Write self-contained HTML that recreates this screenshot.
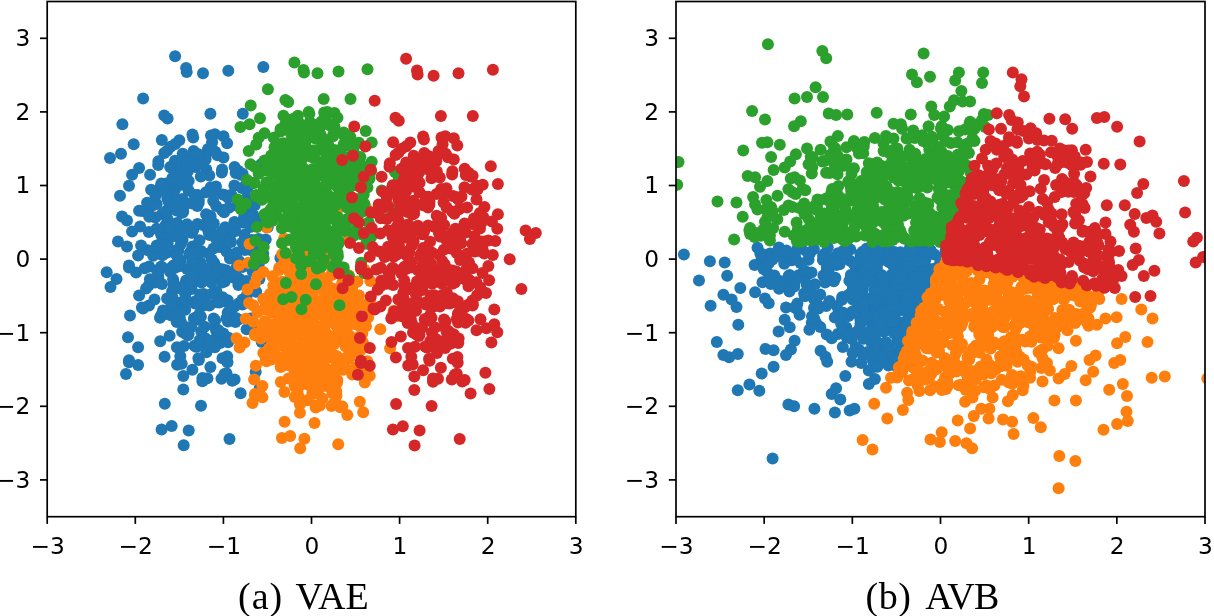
<!DOCTYPE html>
<html><head><meta charset="utf-8"><title>VAE vs AVB latent space</title>
<style>html,body{margin:0;padding:0;background:#fff}svg{display:block}.tk text{font-family:"DejaVu Sans","Liberation Sans",sans-serif;font-size:23.3px;fill:#000}.cap{font-family:"Liberation Serif","DejaVu Serif",serif;font-size:38px;fill:#000}</style></head><body>
<svg width="1214" height="616" viewBox="0 0 1214 616">
<rect width="1214" height="616" fill="#fff"/>
<defs><clipPath id="c1"><rect x="47.20" y="1.50" width="528.60" height="515.20"/></clipPath><clipPath id="c2"><rect x="676.00" y="1.50" width="529.00" height="515.20"/></clipPath></defs>
<g clip-path="url(#c1)"><g fill="#1f77b4">
<circle cx="191.4" cy="284.6" r="6.0"/><circle cx="192.4" cy="229.7" r="6.0"/><circle cx="167.7" cy="236.5" r="6.0"/><circle cx="239.3" cy="278.8" r="6.0"/><circle cx="236.7" cy="267.2" r="6.0"/><circle cx="214.2" cy="263.0" r="6.0"/><circle cx="141.9" cy="307.5" r="6.0"/><circle cx="208.6" cy="342.7" r="6.0"/><circle cx="243.9" cy="222.5" r="6.0"/><circle cx="211.2" cy="276.8" r="6.0"/><circle cx="177.1" cy="364.7" r="6.0"/><circle cx="156.7" cy="204.1" r="6.0"/><circle cx="169.6" cy="310.8" r="6.0"/><circle cx="211.7" cy="259.6" r="6.0"/><circle cx="214.8" cy="347.2" r="6.0"/><circle cx="182.1" cy="331.7" r="6.0"/><circle cx="172.0" cy="266.9" r="6.0"/><circle cx="215.3" cy="151.7" r="6.0"/><circle cx="162.1" cy="214.1" r="6.0"/><circle cx="240.5" cy="174.8" r="6.0"/><circle cx="217.8" cy="246.5" r="6.0"/><circle cx="149.0" cy="305.6" r="6.0"/><circle cx="190.4" cy="251.9" r="6.0"/><circle cx="221.9" cy="210.0" r="6.0"/><circle cx="184.5" cy="166.6" r="6.0"/><circle cx="166.4" cy="215.4" r="6.0"/><circle cx="149.2" cy="266.5" r="6.0"/><circle cx="251.0" cy="289.1" r="6.0"/><circle cx="161.1" cy="315.6" r="6.0"/><circle cx="239.0" cy="261.1" r="6.0"/><circle cx="209.0" cy="279.5" r="6.0"/><circle cx="256.2" cy="291.8" r="6.0"/><circle cx="200.9" cy="316.8" r="6.0"/><circle cx="210.3" cy="231.0" r="6.0"/><circle cx="158.3" cy="277.0" r="6.0"/><circle cx="193.9" cy="318.4" r="6.0"/><circle cx="219.7" cy="240.7" r="6.0"/><circle cx="211.7" cy="293.8" r="6.0"/><circle cx="204.6" cy="326.7" r="6.0"/><circle cx="177.1" cy="223.1" r="6.0"/><circle cx="236.9" cy="252.4" r="6.0"/><circle cx="169.5" cy="313.5" r="6.0"/><circle cx="251.7" cy="221.1" r="6.0"/><circle cx="161.4" cy="183.5" r="6.0"/><circle cx="210.7" cy="187.3" r="6.0"/><circle cx="187.1" cy="269.1" r="6.0"/><circle cx="192.0" cy="232.8" r="6.0"/><circle cx="222.2" cy="269.3" r="6.0"/><circle cx="217.1" cy="302.2" r="6.0"/><circle cx="201.1" cy="251.1" r="6.0"/><circle cx="209.8" cy="275.6" r="6.0"/><circle cx="195.1" cy="262.1" r="6.0"/><circle cx="234.4" cy="185.6" r="6.0"/><circle cx="216.3" cy="291.3" r="6.0"/><circle cx="181.2" cy="302.4" r="6.0"/><circle cx="160.9" cy="266.8" r="6.0"/><circle cx="214.3" cy="266.5" r="6.0"/><circle cx="185.2" cy="294.2" r="6.0"/><circle cx="210.2" cy="216.0" r="6.0"/><circle cx="180.9" cy="244.0" r="6.0"/><circle cx="192.4" cy="246.5" r="6.0"/><circle cx="235.7" cy="173.0" r="6.0"/><circle cx="186.1" cy="280.5" r="6.0"/><circle cx="206.3" cy="169.5" r="6.0"/><circle cx="206.0" cy="192.2" r="6.0"/><circle cx="198.7" cy="203.1" r="6.0"/><circle cx="167.7" cy="243.8" r="6.0"/><circle cx="208.5" cy="253.5" r="6.0"/><circle cx="195.3" cy="301.2" r="6.0"/><circle cx="184.0" cy="285.9" r="6.0"/><circle cx="203.7" cy="294.1" r="6.0"/><circle cx="214.2" cy="339.8" r="6.0"/><circle cx="164.3" cy="153.0" r="6.0"/><circle cx="212.1" cy="142.3" r="6.0"/><circle cx="227.2" cy="356.2" r="6.0"/><circle cx="172.1" cy="291.6" r="6.0"/><circle cx="253.6" cy="215.6" r="6.0"/><circle cx="214.4" cy="277.9" r="6.0"/><circle cx="252.9" cy="182.9" r="6.0"/><circle cx="182.4" cy="199.1" r="6.0"/><circle cx="182.6" cy="240.0" r="6.0"/><circle cx="175.1" cy="185.0" r="6.0"/><circle cx="234.5" cy="221.9" r="6.0"/><circle cx="200.0" cy="306.0" r="6.0"/><circle cx="203.1" cy="338.8" r="6.0"/><circle cx="198.2" cy="319.8" r="6.0"/><circle cx="176.8" cy="309.1" r="6.0"/><circle cx="157.1" cy="249.8" r="6.0"/><circle cx="193.6" cy="248.7" r="6.0"/><circle cx="179.6" cy="266.2" r="6.0"/><circle cx="263.2" cy="253.6" r="6.0"/><circle cx="144.7" cy="268.3" r="6.0"/><circle cx="180.9" cy="322.0" r="6.0"/><circle cx="142.6" cy="210.9" r="6.0"/><circle cx="175.7" cy="232.1" r="6.0"/><circle cx="155.1" cy="282.6" r="6.0"/><circle cx="158.3" cy="247.9" r="6.0"/><circle cx="186.8" cy="182.4" r="6.0"/><circle cx="161.2" cy="234.9" r="6.0"/><circle cx="225.8" cy="232.3" r="6.0"/><circle cx="210.5" cy="220.2" r="6.0"/><circle cx="227.7" cy="300.3" r="6.0"/><circle cx="223.7" cy="272.3" r="6.0"/><circle cx="247.1" cy="294.5" r="6.0"/><circle cx="224.5" cy="241.2" r="6.0"/><circle cx="234.1" cy="231.0" r="6.0"/><circle cx="210.6" cy="216.4" r="6.0"/><circle cx="162.0" cy="284.0" r="6.0"/><circle cx="188.0" cy="287.8" r="6.0"/><circle cx="176.9" cy="347.3" r="6.0"/><circle cx="164.7" cy="226.8" r="6.0"/><circle cx="231.6" cy="257.4" r="6.0"/><circle cx="170.4" cy="194.7" r="6.0"/><circle cx="222.1" cy="282.6" r="6.0"/><circle cx="259.4" cy="279.1" r="6.0"/><circle cx="225.6" cy="301.2" r="6.0"/><circle cx="151.1" cy="206.4" r="6.0"/><circle cx="250.4" cy="286.5" r="6.0"/><circle cx="158.4" cy="161.3" r="6.0"/><circle cx="208.4" cy="231.3" r="6.0"/><circle cx="225.4" cy="195.2" r="6.0"/><circle cx="176.7" cy="322.1" r="6.0"/><circle cx="225.1" cy="227.3" r="6.0"/><circle cx="229.9" cy="309.6" r="6.0"/><circle cx="201.6" cy="282.5" r="6.0"/><circle cx="206.3" cy="268.8" r="6.0"/><circle cx="209.4" cy="305.5" r="6.0"/><circle cx="180.3" cy="356.2" r="6.0"/><circle cx="178.4" cy="250.6" r="6.0"/><circle cx="196.5" cy="261.1" r="6.0"/><circle cx="200.3" cy="262.3" r="6.0"/><circle cx="195.6" cy="167.0" r="6.0"/><circle cx="215.1" cy="320.6" r="6.0"/><circle cx="215.6" cy="238.1" r="6.0"/><circle cx="216.0" cy="186.5" r="6.0"/><circle cx="176.9" cy="199.6" r="6.0"/><circle cx="193.6" cy="268.8" r="6.0"/><circle cx="209.5" cy="269.2" r="6.0"/><circle cx="198.8" cy="199.7" r="6.0"/><circle cx="208.0" cy="274.5" r="6.0"/><circle cx="186.7" cy="203.2" r="6.0"/><circle cx="201.8" cy="305.9" r="6.0"/><circle cx="180.5" cy="260.4" r="6.0"/><circle cx="174.5" cy="268.0" r="6.0"/><circle cx="175.2" cy="236.1" r="6.0"/><circle cx="229.8" cy="238.4" r="6.0"/><circle cx="199.3" cy="253.1" r="6.0"/><circle cx="171.0" cy="301.7" r="6.0"/><circle cx="176.8" cy="249.9" r="6.0"/><circle cx="196.8" cy="250.4" r="6.0"/><circle cx="199.0" cy="279.3" r="6.0"/><circle cx="192.1" cy="262.1" r="6.0"/><circle cx="229.9" cy="258.6" r="6.0"/><circle cx="205.4" cy="338.3" r="6.0"/><circle cx="176.4" cy="288.4" r="6.0"/><circle cx="220.2" cy="247.0" r="6.0"/><circle cx="192.2" cy="156.5" r="6.0"/><circle cx="227.7" cy="312.8" r="6.0"/><circle cx="221.8" cy="172.6" r="6.0"/><circle cx="241.9" cy="187.9" r="6.0"/><circle cx="201.4" cy="267.2" r="6.0"/><circle cx="222.6" cy="297.3" r="6.0"/><circle cx="166.2" cy="183.6" r="6.0"/><circle cx="183.2" cy="180.8" r="6.0"/><circle cx="156.9" cy="249.1" r="6.0"/><circle cx="193.3" cy="230.0" r="6.0"/><circle cx="198.1" cy="200.2" r="6.0"/><circle cx="224.9" cy="274.2" r="6.0"/><circle cx="197.3" cy="206.0" r="6.0"/><circle cx="165.9" cy="253.1" r="6.0"/><circle cx="163.0" cy="186.7" r="6.0"/><circle cx="217.8" cy="268.2" r="6.0"/><circle cx="198.9" cy="360.1" r="6.0"/><circle cx="195.3" cy="246.3" r="6.0"/><circle cx="226.1" cy="270.2" r="6.0"/><circle cx="175.0" cy="160.7" r="6.0"/><circle cx="189.6" cy="328.1" r="6.0"/><circle cx="162.0" cy="267.0" r="6.0"/><circle cx="195.8" cy="317.6" r="6.0"/><circle cx="251.7" cy="240.1" r="6.0"/><circle cx="174.9" cy="189.9" r="6.0"/><circle cx="209.3" cy="175.6" r="6.0"/><circle cx="203.0" cy="345.4" r="6.0"/><circle cx="160.0" cy="317.7" r="6.0"/><circle cx="201.3" cy="331.6" r="6.0"/><circle cx="222.7" cy="194.4" r="6.0"/><circle cx="244.0" cy="247.7" r="6.0"/><circle cx="199.4" cy="240.3" r="6.0"/><circle cx="178.6" cy="175.4" r="6.0"/><circle cx="183.2" cy="212.1" r="6.0"/><circle cx="227.9" cy="321.6" r="6.0"/><circle cx="223.7" cy="334.7" r="6.0"/><circle cx="177.3" cy="223.9" r="6.0"/><circle cx="210.1" cy="221.5" r="6.0"/><circle cx="192.4" cy="203.6" r="6.0"/><circle cx="237.1" cy="205.8" r="6.0"/><circle cx="174.6" cy="252.9" r="6.0"/><circle cx="166.3" cy="224.1" r="6.0"/><circle cx="234.6" cy="278.0" r="6.0"/><circle cx="205.7" cy="296.6" r="6.0"/><circle cx="194.9" cy="303.5" r="6.0"/><circle cx="216.2" cy="205.9" r="6.0"/><circle cx="159.4" cy="244.8" r="6.0"/><circle cx="183.2" cy="208.3" r="6.0"/><circle cx="174.0" cy="283.3" r="6.0"/><circle cx="178.5" cy="262.6" r="6.0"/><circle cx="188.7" cy="181.0" r="6.0"/><circle cx="163.2" cy="189.5" r="6.0"/><circle cx="244.9" cy="250.0" r="6.0"/><circle cx="169.6" cy="335.7" r="6.0"/><circle cx="254.9" cy="240.2" r="6.0"/><circle cx="160.8" cy="186.2" r="6.0"/><circle cx="155.4" cy="217.6" r="6.0"/><circle cx="155.4" cy="196.0" r="6.0"/><circle cx="173.8" cy="265.2" r="6.0"/><circle cx="242.9" cy="302.9" r="6.0"/><circle cx="190.8" cy="232.6" r="6.0"/><circle cx="203.0" cy="224.9" r="6.0"/><circle cx="182.6" cy="159.0" r="6.0"/><circle cx="159.3" cy="251.4" r="6.0"/><circle cx="214.6" cy="326.6" r="6.0"/><circle cx="169.1" cy="202.7" r="6.0"/><circle cx="172.7" cy="229.7" r="6.0"/><circle cx="194.4" cy="345.7" r="6.0"/><circle cx="223.3" cy="333.5" r="6.0"/><circle cx="197.4" cy="268.9" r="6.0"/><circle cx="172.7" cy="168.8" r="6.0"/><circle cx="162.4" cy="255.3" r="6.0"/><circle cx="220.3" cy="343.1" r="6.0"/><circle cx="224.7" cy="281.5" r="6.0"/><circle cx="229.4" cy="241.7" r="6.0"/><circle cx="206.0" cy="154.2" r="6.0"/><circle cx="231.3" cy="194.7" r="6.0"/><circle cx="246.4" cy="281.1" r="6.0"/><circle cx="178.8" cy="172.8" r="6.0"/><circle cx="173.1" cy="279.2" r="6.0"/><circle cx="222.1" cy="169.4" r="6.0"/><circle cx="153.2" cy="255.8" r="6.0"/><circle cx="209.4" cy="227.2" r="6.0"/><circle cx="170.0" cy="271.8" r="6.0"/><circle cx="196.0" cy="346.7" r="6.0"/><circle cx="216.2" cy="331.0" r="6.0"/><circle cx="197.6" cy="195.1" r="6.0"/><circle cx="222.8" cy="210.3" r="6.0"/><circle cx="147.8" cy="250.3" r="6.0"/><circle cx="219.5" cy="233.9" r="6.0"/><circle cx="173.7" cy="285.7" r="6.0"/><circle cx="149.2" cy="216.7" r="6.0"/><circle cx="191.6" cy="288.9" r="6.0"/><circle cx="167.2" cy="312.8" r="6.0"/><circle cx="226.6" cy="251.7" r="6.0"/><circle cx="179.7" cy="317.6" r="6.0"/><circle cx="170.8" cy="192.3" r="6.0"/><circle cx="228.9" cy="207.7" r="6.0"/><circle cx="250.0" cy="249.8" r="6.0"/><circle cx="166.0" cy="192.7" r="6.0"/><circle cx="191.2" cy="285.2" r="6.0"/><circle cx="188.6" cy="190.5" r="6.0"/><circle cx="188.6" cy="334.0" r="6.0"/><circle cx="242.5" cy="299.4" r="6.0"/><circle cx="181.6" cy="184.8" r="6.0"/><circle cx="148.9" cy="285.1" r="6.0"/><circle cx="187.0" cy="224.2" r="6.0"/><circle cx="181.9" cy="181.4" r="6.0"/><circle cx="184.0" cy="346.0" r="6.0"/><circle cx="168.2" cy="220.6" r="6.0"/><circle cx="235.6" cy="318.1" r="6.0"/><circle cx="192.9" cy="156.3" r="6.0"/><circle cx="197.4" cy="224.0" r="6.0"/><circle cx="185.4" cy="333.8" r="6.0"/><circle cx="148.8" cy="232.0" r="6.0"/><circle cx="234.6" cy="306.5" r="6.0"/><circle cx="173.7" cy="302.4" r="6.0"/><circle cx="244.1" cy="217.0" r="6.0"/><circle cx="213.2" cy="200.9" r="6.0"/><circle cx="224.1" cy="212.2" r="6.0"/><circle cx="228.4" cy="337.8" r="6.0"/><circle cx="215.0" cy="343.4" r="6.0"/><circle cx="197.6" cy="346.3" r="6.0"/><circle cx="250.2" cy="226.9" r="6.0"/><circle cx="173.0" cy="236.0" r="6.0"/><circle cx="199.6" cy="340.3" r="6.0"/><circle cx="165.5" cy="314.0" r="6.0"/><circle cx="226.5" cy="318.2" r="6.0"/><circle cx="230.3" cy="273.1" r="6.0"/><circle cx="181.4" cy="212.9" r="6.0"/><circle cx="185.2" cy="309.7" r="6.0"/><circle cx="228.1" cy="197.7" r="6.0"/><circle cx="206.1" cy="214.2" r="6.0"/><circle cx="200.2" cy="294.6" r="6.0"/><circle cx="194.5" cy="195.0" r="6.0"/><circle cx="191.2" cy="275.8" r="6.0"/><circle cx="219.5" cy="302.6" r="6.0"/><circle cx="238.4" cy="285.1" r="6.0"/><circle cx="177.7" cy="264.6" r="6.0"/><circle cx="186.4" cy="300.5" r="6.0"/><circle cx="167.3" cy="197.8" r="6.0"/><circle cx="172.4" cy="178.1" r="6.0"/><circle cx="242.5" cy="267.0" r="6.0"/><circle cx="181.3" cy="228.9" r="6.0"/><circle cx="254.4" cy="252.2" r="6.0"/><circle cx="170.8" cy="315.2" r="6.0"/><circle cx="156.7" cy="245.4" r="6.0"/><circle cx="235.4" cy="321.9" r="6.0"/><circle cx="177.7" cy="170.9" r="6.0"/><circle cx="209.5" cy="340.7" r="6.0"/><circle cx="186.3" cy="327.3" r="6.0"/><circle cx="194.8" cy="200.4" r="6.0"/><circle cx="157.1" cy="270.8" r="6.0"/><circle cx="213.5" cy="191.5" r="6.0"/><circle cx="185.9" cy="175.6" r="6.0"/><circle cx="167.8" cy="199.3" r="6.0"/><circle cx="211.3" cy="282.4" r="6.0"/><circle cx="181.4" cy="288.0" r="6.0"/><circle cx="165.8" cy="211.3" r="6.0"/><circle cx="167.8" cy="312.5" r="6.0"/><circle cx="205.6" cy="159.2" r="6.0"/><circle cx="156.6" cy="228.7" r="6.0"/><circle cx="205.8" cy="279.8" r="6.0"/><circle cx="221.8" cy="231.8" r="6.0"/><circle cx="176.5" cy="210.4" r="6.0"/><circle cx="250.1" cy="211.4" r="6.0"/><circle cx="207.6" cy="220.7" r="6.0"/><circle cx="191.2" cy="326.9" r="6.0"/><circle cx="167.1" cy="298.4" r="6.0"/><circle cx="244.4" cy="234.7" r="6.0"/><circle cx="235.5" cy="231.0" r="6.0"/><circle cx="242.4" cy="242.5" r="6.0"/><circle cx="206.0" cy="280.1" r="6.0"/><circle cx="213.8" cy="223.6" r="6.0"/><circle cx="200.8" cy="176.5" r="6.0"/><circle cx="176.5" cy="255.1" r="6.0"/><circle cx="199.3" cy="314.5" r="6.0"/><circle cx="252.6" cy="247.0" r="6.0"/><circle cx="188.0" cy="335.3" r="6.0"/><circle cx="213.6" cy="318.6" r="6.0"/><circle cx="163.0" cy="310.5" r="6.0"/><circle cx="169.8" cy="230.6" r="6.0"/><circle cx="238.4" cy="319.6" r="6.0"/><circle cx="165.5" cy="191.6" r="6.0"/><circle cx="189.3" cy="254.4" r="6.0"/><circle cx="187.6" cy="171.7" r="6.0"/><circle cx="172.6" cy="297.7" r="6.0"/><circle cx="207.2" cy="304.5" r="6.0"/><circle cx="158.4" cy="271.5" r="6.0"/><circle cx="205.8" cy="277.2" r="6.0"/><circle cx="179.1" cy="233.9" r="6.0"/><circle cx="209.4" cy="235.1" r="6.0"/><circle cx="217.8" cy="239.5" r="6.0"/><circle cx="193.6" cy="150.9" r="6.0"/><circle cx="213.4" cy="248.4" r="6.0"/><circle cx="171.3" cy="305.8" r="6.0"/><circle cx="231.1" cy="241.9" r="6.0"/><circle cx="165.2" cy="245.0" r="6.0"/><circle cx="192.7" cy="165.2" r="6.0"/><circle cx="194.0" cy="252.8" r="6.0"/><circle cx="149.9" cy="279.2" r="6.0"/><circle cx="154.5" cy="299.5" r="6.0"/><circle cx="110.0" cy="157.9" r="6.0"/><circle cx="106.7" cy="272.2" r="6.0"/><circle cx="116.5" cy="279.1" r="6.0"/><circle cx="110.5" cy="287.1" r="6.0"/><circle cx="175.1" cy="56.2" r="6.0"/><circle cx="186.1" cy="68.1" r="6.0"/><circle cx="186.7" cy="72.1" r="6.0"/><circle cx="203.0" cy="73.3" r="6.0"/><circle cx="228.3" cy="70.7" r="6.0"/><circle cx="263.3" cy="67.1" r="6.0"/><circle cx="143.1" cy="98.4" r="6.0"/><circle cx="164.2" cy="115.5" r="6.0"/><circle cx="167.6" cy="118.4" r="6.0"/><circle cx="210.4" cy="113.7" r="6.0"/><circle cx="242.8" cy="113.7" r="6.0"/><circle cx="122.4" cy="124.2" r="6.0"/><circle cx="161.8" cy="140.1" r="6.0"/><circle cx="192.4" cy="134.4" r="6.0"/><circle cx="193.2" cy="137.4" r="6.0"/><circle cx="179.3" cy="140.3" r="6.0"/><circle cx="175.3" cy="144.1" r="6.0"/><circle cx="170.6" cy="146.7" r="6.0"/><circle cx="167.2" cy="150.7" r="6.0"/><circle cx="211.0" cy="135.4" r="6.0"/><circle cx="214.9" cy="134.2" r="6.0"/><circle cx="223.5" cy="136.2" r="6.0"/><circle cx="227.1" cy="143.3" r="6.0"/><circle cx="208.0" cy="149.1" r="6.0"/><circle cx="133.7" cy="144.3" r="6.0"/><circle cx="182.7" cy="153.7" r="6.0"/><circle cx="193.4" cy="154.7" r="6.0"/><circle cx="198.4" cy="154.3" r="6.0"/><circle cx="217.5" cy="155.3" r="6.0"/><circle cx="223.5" cy="157.6" r="6.0"/><circle cx="121.0" cy="153.7" r="6.0"/><circle cx="261.1" cy="164.3" r="6.0"/><circle cx="268.3" cy="182.2" r="6.0"/><circle cx="238.6" cy="170.9" r="6.0"/><circle cx="242.6" cy="173.8" r="6.0"/><circle cx="246.6" cy="183.8" r="6.0"/><circle cx="247.6" cy="187.8" r="6.0"/><circle cx="246.6" cy="197.7" r="6.0"/><circle cx="254.7" cy="205.3" r="6.0"/><circle cx="268.3" cy="212.6" r="6.0"/><circle cx="262.3" cy="220.0" r="6.0"/><circle cx="267.7" cy="227.2" r="6.0"/><circle cx="296.5" cy="229.0" r="6.0"/><circle cx="306.9" cy="231.6" r="6.0"/><circle cx="300.9" cy="237.5" r="6.0"/><circle cx="280.4" cy="258.0" r="6.0"/><circle cx="258.7" cy="239.1" r="6.0"/><circle cx="265.7" cy="239.5" r="6.0"/><circle cx="249.6" cy="215.6" r="6.0"/><circle cx="242.6" cy="222.6" r="6.0"/><circle cx="234.6" cy="222.6" r="6.0"/><circle cx="196.4" cy="153.9" r="6.0"/><circle cx="234.6" cy="166.9" r="6.0"/><circle cx="158.2" cy="164.9" r="6.0"/><circle cx="170.2" cy="166.9" r="6.0"/><circle cx="200.4" cy="163.9" r="6.0"/><circle cx="187.3" cy="160.9" r="6.0"/><circle cx="139.1" cy="167.9" r="6.0"/><circle cx="132.1" cy="174.8" r="6.0"/><circle cx="150.1" cy="174.8" r="6.0"/><circle cx="129.0" cy="185.8" r="6.0"/><circle cx="120.0" cy="195.7" r="6.0"/><circle cx="151.1" cy="189.8" r="6.0"/><circle cx="147.1" cy="202.7" r="6.0"/><circle cx="139.1" cy="210.7" r="6.0"/><circle cx="122.0" cy="216.6" r="6.0"/><circle cx="127.0" cy="220.6" r="6.0"/><circle cx="140.1" cy="226.6" r="6.0"/><circle cx="132.1" cy="231.6" r="6.0"/><circle cx="127.0" cy="246.5" r="6.0"/><circle cx="141.1" cy="245.5" r="6.0"/><circle cx="118.0" cy="241.5" r="6.0"/><circle cx="129.0" cy="265.4" r="6.0"/><circle cx="138.1" cy="255.4" r="6.0"/><circle cx="292.2" cy="287.9" r="6.0"/><circle cx="264.7" cy="308.4" r="6.0"/><circle cx="238.6" cy="303.5" r="6.0"/><circle cx="242.6" cy="304.5" r="6.0"/><circle cx="250.6" cy="318.4" r="6.0"/><circle cx="264.7" cy="323.4" r="6.0"/><circle cx="267.7" cy="331.3" r="6.0"/><circle cx="261.7" cy="341.9" r="6.0"/><circle cx="246.6" cy="329.3" r="6.0"/><circle cx="256.7" cy="327.3" r="6.0"/><circle cx="236.6" cy="318.4" r="6.0"/><circle cx="255.7" cy="372.1" r="6.0"/><circle cx="229.5" cy="276.6" r="6.0"/><circle cx="235.6" cy="273.6" r="6.0"/><circle cx="252.7" cy="271.6" r="6.0"/><circle cx="258.7" cy="264.7" r="6.0"/><circle cx="228.1" cy="342.3" r="6.0"/><circle cx="218.5" cy="330.3" r="6.0"/><circle cx="222.5" cy="358.2" r="6.0"/><circle cx="227.5" cy="362.2" r="6.0"/><circle cx="210.4" cy="367.1" r="6.0"/><circle cx="224.5" cy="374.1" r="6.0"/><circle cx="234.6" cy="379.5" r="6.0"/><circle cx="164.6" cy="356.8" r="6.0"/><circle cx="181.7" cy="363.8" r="6.0"/><circle cx="192.4" cy="369.7" r="6.0"/><circle cx="183.3" cy="376.1" r="6.0"/><circle cx="202.4" cy="378.1" r="6.0"/><circle cx="160.2" cy="341.3" r="6.0"/><circle cx="198.4" cy="358.2" r="6.0"/><circle cx="206.4" cy="352.2" r="6.0"/><circle cx="128.0" cy="337.3" r="6.0"/><circle cx="138.1" cy="347.2" r="6.0"/><circle cx="129.0" cy="360.2" r="6.0"/><circle cx="138.1" cy="365.1" r="6.0"/><circle cx="126.0" cy="374.1" r="6.0"/><circle cx="130.0" cy="315.4" r="6.0"/><circle cx="143.1" cy="308.4" r="6.0"/><circle cx="139.1" cy="295.5" r="6.0"/><circle cx="146.1" cy="288.5" r="6.0"/><circle cx="129.0" cy="267.6" r="6.0"/><circle cx="136.1" cy="272.6" r="6.0"/><circle cx="183.3" cy="389.6" r="6.0"/><circle cx="202.4" cy="381.2" r="6.0"/><circle cx="207.4" cy="378.2" r="6.0"/><circle cx="226.5" cy="373.3" r="6.0"/><circle cx="221.5" cy="378.8" r="6.0"/><circle cx="232.2" cy="380.8" r="6.0"/><circle cx="259.7" cy="388.6" r="6.0"/><circle cx="240.6" cy="393.2" r="6.0"/><circle cx="164.8" cy="403.7" r="6.0"/><circle cx="201.0" cy="405.7" r="6.0"/><circle cx="161.6" cy="429.4" r="6.0"/><circle cx="171.7" cy="426.0" r="6.0"/><circle cx="188.7" cy="430.4" r="6.0"/><circle cx="183.7" cy="445.3" r="6.0"/><circle cx="229.5" cy="438.9" r="6.0"/><circle cx="129.0" cy="362.3" r="6.0"/>
</g>
<g fill="#ff7f0e">
<circle cx="306.6" cy="346.1" r="6.0"/><circle cx="307.4" cy="311.2" r="6.0"/><circle cx="287.0" cy="315.5" r="6.0"/><circle cx="346.3" cy="342.4" r="6.0"/><circle cx="344.1" cy="335.0" r="6.0"/><circle cx="325.5" cy="332.3" r="6.0"/><circle cx="265.6" cy="360.6" r="6.0"/><circle cx="320.8" cy="383.0" r="6.0"/><circle cx="350.1" cy="306.6" r="6.0"/><circle cx="323.0" cy="341.1" r="6.0"/><circle cx="294.8" cy="397.0" r="6.0"/><circle cx="277.9" cy="294.9" r="6.0"/><circle cx="288.6" cy="362.7" r="6.0"/><circle cx="323.4" cy="330.2" r="6.0"/><circle cx="326.0" cy="385.9" r="6.0"/><circle cx="298.9" cy="376.1" r="6.0"/><circle cx="290.5" cy="334.8" r="6.0"/><circle cx="326.4" cy="261.6" r="6.0"/><circle cx="282.4" cy="301.2" r="6.0"/><circle cx="347.2" cy="276.2" r="6.0"/><circle cx="328.5" cy="321.8" r="6.0"/><circle cx="271.5" cy="359.4" r="6.0"/><circle cx="305.8" cy="325.3" r="6.0"/><circle cx="331.9" cy="298.6" r="6.0"/><circle cx="300.9" cy="271.1" r="6.0"/><circle cx="285.9" cy="302.0" r="6.0"/><circle cx="271.7" cy="334.6" r="6.0"/><circle cx="355.9" cy="348.9" r="6.0"/><circle cx="281.5" cy="365.8" r="6.0"/><circle cx="346.0" cy="331.1" r="6.0"/><circle cx="321.1" cy="342.8" r="6.0"/><circle cx="360.3" cy="350.6" r="6.0"/><circle cx="314.4" cy="366.5" r="6.0"/><circle cx="322.2" cy="312.0" r="6.0"/><circle cx="279.2" cy="341.2" r="6.0"/><circle cx="308.7" cy="367.5" r="6.0"/><circle cx="330.0" cy="318.1" r="6.0"/><circle cx="323.4" cy="351.9" r="6.0"/><circle cx="317.5" cy="372.9" r="6.0"/><circle cx="294.8" cy="307.0" r="6.0"/><circle cx="344.3" cy="325.6" r="6.0"/><circle cx="288.4" cy="364.5" r="6.0"/><circle cx="356.6" cy="305.7" r="6.0"/><circle cx="281.8" cy="281.8" r="6.0"/><circle cx="322.6" cy="284.2" r="6.0"/><circle cx="303.1" cy="336.2" r="6.0"/><circle cx="307.1" cy="313.2" r="6.0"/><circle cx="332.1" cy="336.4" r="6.0"/><circle cx="327.9" cy="357.3" r="6.0"/><circle cx="314.6" cy="324.8" r="6.0"/><circle cx="321.8" cy="340.4" r="6.0"/><circle cx="309.7" cy="331.7" r="6.0"/><circle cx="342.2" cy="283.1" r="6.0"/><circle cx="327.2" cy="350.4" r="6.0"/><circle cx="298.1" cy="357.4" r="6.0"/><circle cx="281.4" cy="334.8" r="6.0"/><circle cx="325.6" cy="334.6" r="6.0"/><circle cx="301.5" cy="352.2" r="6.0"/><circle cx="322.2" cy="302.4" r="6.0"/><circle cx="297.9" cy="320.3" r="6.0"/><circle cx="307.4" cy="321.8" r="6.0"/><circle cx="343.3" cy="275.1" r="6.0"/><circle cx="302.2" cy="343.5" r="6.0"/><circle cx="318.9" cy="272.9" r="6.0"/><circle cx="318.7" cy="287.3" r="6.0"/><circle cx="312.7" cy="294.2" r="6.0"/><circle cx="286.9" cy="320.1" r="6.0"/><circle cx="320.8" cy="326.3" r="6.0"/><circle cx="309.9" cy="356.6" r="6.0"/><circle cx="300.5" cy="346.9" r="6.0"/><circle cx="316.8" cy="352.1" r="6.0"/><circle cx="325.5" cy="381.2" r="6.0"/><circle cx="284.2" cy="262.4" r="6.0"/><circle cx="323.8" cy="255.6" r="6.0"/><circle cx="336.3" cy="391.6" r="6.0"/><circle cx="290.7" cy="350.5" r="6.0"/><circle cx="358.1" cy="302.2" r="6.0"/><circle cx="325.6" cy="341.8" r="6.0"/><circle cx="357.5" cy="281.4" r="6.0"/><circle cx="299.2" cy="291.7" r="6.0"/><circle cx="299.3" cy="317.7" r="6.0"/><circle cx="293.1" cy="282.8" r="6.0"/><circle cx="342.3" cy="306.2" r="6.0"/><circle cx="313.7" cy="359.7" r="6.0"/><circle cx="316.3" cy="380.5" r="6.0"/><circle cx="312.2" cy="368.4" r="6.0"/><circle cx="294.5" cy="361.6" r="6.0"/><circle cx="278.2" cy="323.9" r="6.0"/><circle cx="308.4" cy="323.3" r="6.0"/><circle cx="296.8" cy="334.3" r="6.0"/><circle cx="366.0" cy="326.3" r="6.0"/><circle cx="268.0" cy="335.7" r="6.0"/><circle cx="297.9" cy="369.8" r="6.0"/><circle cx="266.2" cy="299.2" r="6.0"/><circle cx="293.6" cy="312.7" r="6.0"/><circle cx="276.5" cy="344.8" r="6.0"/><circle cx="279.2" cy="322.7" r="6.0"/><circle cx="302.8" cy="281.1" r="6.0"/><circle cx="281.6" cy="314.5" r="6.0"/><circle cx="335.1" cy="312.8" r="6.0"/><circle cx="322.5" cy="305.1" r="6.0"/><circle cx="336.7" cy="356.1" r="6.0"/><circle cx="333.4" cy="338.3" r="6.0"/><circle cx="352.7" cy="352.4" r="6.0"/><circle cx="334.0" cy="318.5" r="6.0"/><circle cx="342.0" cy="312.0" r="6.0"/><circle cx="322.5" cy="302.7" r="6.0"/><circle cx="282.2" cy="345.7" r="6.0"/><circle cx="303.8" cy="348.1" r="6.0"/><circle cx="294.6" cy="385.9" r="6.0"/><circle cx="284.5" cy="309.3" r="6.0"/><circle cx="339.9" cy="328.8" r="6.0"/><circle cx="289.2" cy="288.9" r="6.0"/><circle cx="332.1" cy="344.8" r="6.0"/><circle cx="362.9" cy="342.5" r="6.0"/><circle cx="334.9" cy="356.6" r="6.0"/><circle cx="273.3" cy="296.3" r="6.0"/><circle cx="355.5" cy="347.3" r="6.0"/><circle cx="279.3" cy="267.7" r="6.0"/><circle cx="320.7" cy="312.2" r="6.0"/><circle cx="334.8" cy="289.2" r="6.0"/><circle cx="294.4" cy="369.9" r="6.0"/><circle cx="334.5" cy="309.6" r="6.0"/><circle cx="338.5" cy="362.0" r="6.0"/><circle cx="315.0" cy="344.8" r="6.0"/><circle cx="318.9" cy="336.0" r="6.0"/><circle cx="321.5" cy="359.3" r="6.0"/><circle cx="297.4" cy="391.6" r="6.0"/><circle cx="295.8" cy="324.5" r="6.0"/><circle cx="310.8" cy="331.1" r="6.0"/><circle cx="314.0" cy="331.9" r="6.0"/><circle cx="310.1" cy="271.3" r="6.0"/><circle cx="326.2" cy="369.0" r="6.0"/><circle cx="326.6" cy="316.5" r="6.0"/><circle cx="327.0" cy="283.7" r="6.0"/><circle cx="294.6" cy="292.0" r="6.0"/><circle cx="308.4" cy="336.0" r="6.0"/><circle cx="321.6" cy="336.3" r="6.0"/><circle cx="312.7" cy="292.1" r="6.0"/><circle cx="320.3" cy="339.7" r="6.0"/><circle cx="302.7" cy="294.3" r="6.0"/><circle cx="315.2" cy="359.6" r="6.0"/><circle cx="297.5" cy="330.7" r="6.0"/><circle cx="292.6" cy="335.5" r="6.0"/><circle cx="293.2" cy="315.3" r="6.0"/><circle cx="338.4" cy="316.7" r="6.0"/><circle cx="313.2" cy="326.0" r="6.0"/><circle cx="289.7" cy="356.9" r="6.0"/><circle cx="294.5" cy="324.0" r="6.0"/><circle cx="311.1" cy="324.4" r="6.0"/><circle cx="312.9" cy="342.7" r="6.0"/><circle cx="307.2" cy="331.8" r="6.0"/><circle cx="338.5" cy="329.5" r="6.0"/><circle cx="318.2" cy="380.2" r="6.0"/><circle cx="294.2" cy="348.5" r="6.0"/><circle cx="330.5" cy="322.2" r="6.0"/><circle cx="307.3" cy="264.6" r="6.0"/><circle cx="336.7" cy="364.0" r="6.0"/><circle cx="331.8" cy="274.9" r="6.0"/><circle cx="348.4" cy="284.6" r="6.0"/><circle cx="314.9" cy="335.0" r="6.0"/><circle cx="332.4" cy="354.1" r="6.0"/><circle cx="285.7" cy="281.9" r="6.0"/><circle cx="299.8" cy="280.1" r="6.0"/><circle cx="278.0" cy="323.5" r="6.0"/><circle cx="308.2" cy="311.3" r="6.0"/><circle cx="312.2" cy="292.4" r="6.0"/><circle cx="334.4" cy="339.4" r="6.0"/><circle cx="311.5" cy="296.1" r="6.0"/><circle cx="285.5" cy="326.1" r="6.0"/><circle cx="283.1" cy="283.8" r="6.0"/><circle cx="328.5" cy="335.6" r="6.0"/><circle cx="312.8" cy="394.1" r="6.0"/><circle cx="309.8" cy="321.7" r="6.0"/><circle cx="335.3" cy="336.9" r="6.0"/><circle cx="293.0" cy="267.3" r="6.0"/><circle cx="305.1" cy="373.7" r="6.0"/><circle cx="282.2" cy="334.9" r="6.0"/><circle cx="310.3" cy="367.1" r="6.0"/><circle cx="356.6" cy="317.8" r="6.0"/><circle cx="293.0" cy="285.9" r="6.0"/><circle cx="321.4" cy="276.8" r="6.0"/><circle cx="316.2" cy="384.7" r="6.0"/><circle cx="280.6" cy="367.1" r="6.0"/><circle cx="314.8" cy="376.0" r="6.0"/><circle cx="332.5" cy="288.7" r="6.0"/><circle cx="350.2" cy="322.6" r="6.0"/><circle cx="313.2" cy="317.9" r="6.0"/><circle cx="296.0" cy="276.7" r="6.0"/><circle cx="299.8" cy="300.0" r="6.0"/><circle cx="336.8" cy="369.6" r="6.0"/><circle cx="333.4" cy="377.9" r="6.0"/><circle cx="294.9" cy="307.5" r="6.0"/><circle cx="322.1" cy="305.9" r="6.0"/><circle cx="307.5" cy="294.5" r="6.0"/><circle cx="344.4" cy="295.9" r="6.0"/><circle cx="292.7" cy="325.9" r="6.0"/><circle cx="285.8" cy="307.6" r="6.0"/><circle cx="342.4" cy="341.9" r="6.0"/><circle cx="318.5" cy="353.7" r="6.0"/><circle cx="309.5" cy="358.1" r="6.0"/><circle cx="327.1" cy="296.0" r="6.0"/><circle cx="280.1" cy="320.8" r="6.0"/><circle cx="299.8" cy="297.6" r="6.0"/><circle cx="292.2" cy="345.2" r="6.0"/><circle cx="295.9" cy="332.1" r="6.0"/><circle cx="304.4" cy="280.2" r="6.0"/><circle cx="283.2" cy="285.6" r="6.0"/><circle cx="350.9" cy="324.1" r="6.0"/><circle cx="288.5" cy="378.6" r="6.0"/><circle cx="359.1" cy="317.8" r="6.0"/><circle cx="281.2" cy="283.5" r="6.0"/><circle cx="276.8" cy="303.4" r="6.0"/><circle cx="276.8" cy="289.8" r="6.0"/><circle cx="292.0" cy="333.7" r="6.0"/><circle cx="349.2" cy="357.7" r="6.0"/><circle cx="306.1" cy="313.0" r="6.0"/><circle cx="316.2" cy="308.1" r="6.0"/><circle cx="299.3" cy="266.2" r="6.0"/><circle cx="280.0" cy="324.9" r="6.0"/><circle cx="325.8" cy="372.8" r="6.0"/><circle cx="288.2" cy="294.0" r="6.0"/><circle cx="291.1" cy="311.1" r="6.0"/><circle cx="309.1" cy="384.9" r="6.0"/><circle cx="333.1" cy="377.2" r="6.0"/><circle cx="311.6" cy="336.1" r="6.0"/><circle cx="291.1" cy="272.4" r="6.0"/><circle cx="282.6" cy="327.5" r="6.0"/><circle cx="330.6" cy="383.3" r="6.0"/><circle cx="334.2" cy="344.1" r="6.0"/><circle cx="338.1" cy="318.8" r="6.0"/><circle cx="318.7" cy="263.2" r="6.0"/><circle cx="339.7" cy="288.9" r="6.0"/><circle cx="352.2" cy="343.8" r="6.0"/><circle cx="296.2" cy="275.0" r="6.0"/><circle cx="291.4" cy="342.6" r="6.0"/><circle cx="332.1" cy="272.8" r="6.0"/><circle cx="274.9" cy="327.7" r="6.0"/><circle cx="321.5" cy="309.6" r="6.0"/><circle cx="288.9" cy="337.9" r="6.0"/><circle cx="310.4" cy="385.6" r="6.0"/><circle cx="327.1" cy="375.6" r="6.0"/><circle cx="311.8" cy="289.2" r="6.0"/><circle cx="332.6" cy="298.8" r="6.0"/><circle cx="270.5" cy="324.3" r="6.0"/><circle cx="329.9" cy="313.8" r="6.0"/><circle cx="291.9" cy="346.8" r="6.0"/><circle cx="271.6" cy="302.9" r="6.0"/><circle cx="306.8" cy="348.8" r="6.0"/><circle cx="286.5" cy="364.0" r="6.0"/><circle cx="335.7" cy="325.1" r="6.0"/><circle cx="296.9" cy="367.1" r="6.0"/><circle cx="289.5" cy="287.4" r="6.0"/><circle cx="337.7" cy="297.2" r="6.0"/><circle cx="355.1" cy="323.9" r="6.0"/><circle cx="285.6" cy="287.6" r="6.0"/><circle cx="306.5" cy="346.5" r="6.0"/><circle cx="304.3" cy="286.3" r="6.0"/><circle cx="304.3" cy="377.5" r="6.0"/><circle cx="348.9" cy="355.5" r="6.0"/><circle cx="298.5" cy="282.6" r="6.0"/><circle cx="271.4" cy="346.4" r="6.0"/><circle cx="303.0" cy="307.7" r="6.0"/><circle cx="298.7" cy="280.5" r="6.0"/><circle cx="300.5" cy="385.1" r="6.0"/><circle cx="287.4" cy="305.4" r="6.0"/><circle cx="343.2" cy="367.3" r="6.0"/><circle cx="307.9" cy="264.5" r="6.0"/><circle cx="311.6" cy="307.5" r="6.0"/><circle cx="301.7" cy="377.3" r="6.0"/><circle cx="271.3" cy="312.6" r="6.0"/><circle cx="342.4" cy="360.0" r="6.0"/><circle cx="291.9" cy="357.4" r="6.0"/><circle cx="350.2" cy="303.1" r="6.0"/><circle cx="324.6" cy="292.8" r="6.0"/><circle cx="333.7" cy="300.1" r="6.0"/><circle cx="337.3" cy="379.9" r="6.0"/><circle cx="326.2" cy="383.5" r="6.0"/><circle cx="311.7" cy="385.3" r="6.0"/><circle cx="355.3" cy="309.4" r="6.0"/><circle cx="291.4" cy="315.2" r="6.0"/><circle cx="313.4" cy="381.5" r="6.0"/><circle cx="285.2" cy="364.8" r="6.0"/><circle cx="335.7" cy="367.4" r="6.0"/><circle cx="338.8" cy="338.8" r="6.0"/><circle cx="298.3" cy="300.5" r="6.0"/><circle cx="301.4" cy="362.1" r="6.0"/><circle cx="337.0" cy="290.8" r="6.0"/><circle cx="318.8" cy="301.3" r="6.0"/><circle cx="313.9" cy="352.4" r="6.0"/><circle cx="309.2" cy="289.1" r="6.0"/><circle cx="306.4" cy="340.5" r="6.0"/><circle cx="329.8" cy="357.5" r="6.0"/><circle cx="345.6" cy="346.4" r="6.0"/><circle cx="295.2" cy="333.4" r="6.0"/><circle cx="302.5" cy="356.2" r="6.0"/><circle cx="286.6" cy="290.9" r="6.0"/><circle cx="290.8" cy="278.3" r="6.0"/><circle cx="348.9" cy="334.9" r="6.0"/><circle cx="298.2" cy="310.6" r="6.0"/><circle cx="358.8" cy="325.5" r="6.0"/><circle cx="289.6" cy="365.5" r="6.0"/><circle cx="277.8" cy="321.1" r="6.0"/><circle cx="343.0" cy="369.8" r="6.0"/><circle cx="295.2" cy="273.8" r="6.0"/><circle cx="321.6" cy="381.7" r="6.0"/><circle cx="302.4" cy="373.2" r="6.0"/><circle cx="309.4" cy="292.5" r="6.0"/><circle cx="278.2" cy="337.3" r="6.0"/><circle cx="324.9" cy="286.9" r="6.0"/><circle cx="302.1" cy="276.7" r="6.0"/><circle cx="287.1" cy="291.9" r="6.0"/><circle cx="323.0" cy="344.7" r="6.0"/><circle cx="298.3" cy="348.2" r="6.0"/><circle cx="285.4" cy="299.5" r="6.0"/><circle cx="287.0" cy="363.8" r="6.0"/><circle cx="318.4" cy="266.3" r="6.0"/><circle cx="277.8" cy="310.5" r="6.0"/><circle cx="318.6" cy="343.0" r="6.0"/><circle cx="331.8" cy="312.5" r="6.0"/><circle cx="294.3" cy="298.9" r="6.0"/><circle cx="355.2" cy="299.5" r="6.0"/><circle cx="320.1" cy="305.5" r="6.0"/><circle cx="306.4" cy="373.0" r="6.0"/><circle cx="286.5" cy="354.8" r="6.0"/><circle cx="350.5" cy="314.3" r="6.0"/><circle cx="343.1" cy="312.0" r="6.0"/><circle cx="348.8" cy="319.3" r="6.0"/><circle cx="318.7" cy="343.2" r="6.0"/><circle cx="325.1" cy="307.3" r="6.0"/><circle cx="314.4" cy="277.3" r="6.0"/><circle cx="294.3" cy="327.3" r="6.0"/><circle cx="313.1" cy="365.1" r="6.0"/><circle cx="357.2" cy="322.2" r="6.0"/><circle cx="303.8" cy="378.3" r="6.0"/><circle cx="324.9" cy="367.7" r="6.0"/><circle cx="283.1" cy="362.5" r="6.0"/><circle cx="288.7" cy="311.8" r="6.0"/><circle cx="345.5" cy="368.3" r="6.0"/><circle cx="285.2" cy="287.0" r="6.0"/><circle cx="304.9" cy="326.9" r="6.0"/><circle cx="303.4" cy="274.3" r="6.0"/><circle cx="291.0" cy="354.4" r="6.0"/><circle cx="319.7" cy="358.8" r="6.0"/><circle cx="279.2" cy="337.7" r="6.0"/><circle cx="318.6" cy="341.4" r="6.0"/><circle cx="296.4" cy="313.8" r="6.0"/><circle cx="321.5" cy="314.6" r="6.0"/><circle cx="328.4" cy="317.4" r="6.0"/><circle cx="308.4" cy="261.0" r="6.0"/><circle cx="324.8" cy="323.1" r="6.0"/><circle cx="289.9" cy="359.6" r="6.0"/><circle cx="339.5" cy="318.9" r="6.0"/><circle cx="284.9" cy="320.9" r="6.0"/><circle cx="307.7" cy="270.1" r="6.0"/><circle cx="308.7" cy="325.8" r="6.0"/><circle cx="272.2" cy="342.6" r="6.0"/><circle cx="276.0" cy="355.6" r="6.0"/><circle cx="239.1" cy="265.5" r="6.0"/><circle cx="236.5" cy="338.2" r="6.0"/><circle cx="244.5" cy="342.6" r="6.0"/><circle cx="239.6" cy="347.6" r="6.0"/><circle cx="293.1" cy="200.8" r="6.0"/><circle cx="302.2" cy="208.4" r="6.0"/><circle cx="302.7" cy="210.9" r="6.0"/><circle cx="316.2" cy="211.7" r="6.0"/><circle cx="337.2" cy="210.1" r="6.0"/><circle cx="366.1" cy="207.8" r="6.0"/><circle cx="266.6" cy="227.6" r="6.0"/><circle cx="284.1" cy="238.5" r="6.0"/><circle cx="286.9" cy="240.4" r="6.0"/><circle cx="322.4" cy="237.4" r="6.0"/><circle cx="349.2" cy="237.4" r="6.0"/><circle cx="249.5" cy="244.1" r="6.0"/><circle cx="282.1" cy="254.2" r="6.0"/><circle cx="307.4" cy="250.5" r="6.0"/><circle cx="308.1" cy="252.4" r="6.0"/><circle cx="296.6" cy="254.3" r="6.0"/><circle cx="293.2" cy="256.7" r="6.0"/><circle cx="289.4" cy="258.4" r="6.0"/><circle cx="286.6" cy="260.9" r="6.0"/><circle cx="322.9" cy="251.2" r="6.0"/><circle cx="326.0" cy="250.4" r="6.0"/><circle cx="333.2" cy="251.7" r="6.0"/><circle cx="336.2" cy="256.2" r="6.0"/><circle cx="320.4" cy="259.9" r="6.0"/><circle cx="258.8" cy="256.9" r="6.0"/><circle cx="299.4" cy="262.8" r="6.0"/><circle cx="308.2" cy="263.4" r="6.0"/><circle cx="312.4" cy="263.2" r="6.0"/><circle cx="328.2" cy="263.8" r="6.0"/><circle cx="333.2" cy="265.3" r="6.0"/><circle cx="248.3" cy="262.8" r="6.0"/><circle cx="364.3" cy="269.6" r="6.0"/><circle cx="370.3" cy="281.0" r="6.0"/><circle cx="345.7" cy="273.8" r="6.0"/><circle cx="349.0" cy="275.6" r="6.0"/><circle cx="352.3" cy="282.0" r="6.0"/><circle cx="353.2" cy="284.5" r="6.0"/><circle cx="352.3" cy="290.8" r="6.0"/><circle cx="359.0" cy="295.6" r="6.0"/><circle cx="370.3" cy="300.3" r="6.0"/><circle cx="365.3" cy="305.0" r="6.0"/><circle cx="369.8" cy="309.6" r="6.0"/><circle cx="393.6" cy="310.7" r="6.0"/><circle cx="402.3" cy="312.3" r="6.0"/><circle cx="397.3" cy="316.1" r="6.0"/><circle cx="380.3" cy="329.2" r="6.0"/><circle cx="362.3" cy="317.1" r="6.0"/><circle cx="368.1" cy="317.4" r="6.0"/><circle cx="354.8" cy="302.2" r="6.0"/><circle cx="349.0" cy="306.6" r="6.0"/><circle cx="342.3" cy="306.6" r="6.0"/><circle cx="310.7" cy="263.0" r="6.0"/><circle cx="342.3" cy="271.2" r="6.0"/><circle cx="279.1" cy="270.0" r="6.0"/><circle cx="289.1" cy="271.2" r="6.0"/><circle cx="314.0" cy="269.3" r="6.0"/><circle cx="303.2" cy="267.4" r="6.0"/><circle cx="263.3" cy="271.9" r="6.0"/><circle cx="257.5" cy="276.3" r="6.0"/><circle cx="272.4" cy="276.3" r="6.0"/><circle cx="255.0" cy="283.2" r="6.0"/><circle cx="247.5" cy="289.6" r="6.0"/><circle cx="273.3" cy="285.8" r="6.0"/><circle cx="269.9" cy="294.0" r="6.0"/><circle cx="263.3" cy="299.1" r="6.0"/><circle cx="249.1" cy="302.9" r="6.0"/><circle cx="253.3" cy="305.4" r="6.0"/><circle cx="264.1" cy="309.2" r="6.0"/><circle cx="257.5" cy="312.3" r="6.0"/><circle cx="253.3" cy="321.8" r="6.0"/><circle cx="264.9" cy="321.2" r="6.0"/><circle cx="245.8" cy="318.7" r="6.0"/><circle cx="255.0" cy="333.8" r="6.0"/><circle cx="262.4" cy="327.5" r="6.0"/><circle cx="390.1" cy="348.2" r="6.0"/><circle cx="367.3" cy="361.2" r="6.0"/><circle cx="345.7" cy="358.1" r="6.0"/><circle cx="349.0" cy="358.7" r="6.0"/><circle cx="355.7" cy="367.6" r="6.0"/><circle cx="367.3" cy="370.7" r="6.0"/><circle cx="369.8" cy="375.8" r="6.0"/><circle cx="364.8" cy="382.5" r="6.0"/><circle cx="352.3" cy="374.5" r="6.0"/><circle cx="360.7" cy="373.3" r="6.0"/><circle cx="344.0" cy="367.6" r="6.0"/><circle cx="359.8" cy="401.7" r="6.0"/><circle cx="338.2" cy="341.0" r="6.0"/><circle cx="343.2" cy="339.1" r="6.0"/><circle cx="357.3" cy="337.8" r="6.0"/><circle cx="362.3" cy="333.4" r="6.0"/><circle cx="337.0" cy="382.7" r="6.0"/><circle cx="329.0" cy="375.1" r="6.0"/><circle cx="332.4" cy="392.9" r="6.0"/><circle cx="336.5" cy="395.4" r="6.0"/><circle cx="322.4" cy="398.6" r="6.0"/><circle cx="334.0" cy="403.0" r="6.0"/><circle cx="342.3" cy="406.4" r="6.0"/><circle cx="284.4" cy="392.0" r="6.0"/><circle cx="298.6" cy="396.4" r="6.0"/><circle cx="307.4" cy="400.2" r="6.0"/><circle cx="299.9" cy="404.2" r="6.0"/><circle cx="315.7" cy="405.5" r="6.0"/><circle cx="280.8" cy="382.1" r="6.0"/><circle cx="312.4" cy="392.9" r="6.0"/><circle cx="319.0" cy="389.1" r="6.0"/><circle cx="254.1" cy="379.6" r="6.0"/><circle cx="262.4" cy="385.9" r="6.0"/><circle cx="255.0" cy="394.1" r="6.0"/><circle cx="262.4" cy="397.3" r="6.0"/><circle cx="252.5" cy="403.0" r="6.0"/><circle cx="255.8" cy="365.7" r="6.0"/><circle cx="266.6" cy="361.2" r="6.0"/><circle cx="263.3" cy="353.0" r="6.0"/><circle cx="269.1" cy="348.6" r="6.0"/><circle cx="255.0" cy="335.3" r="6.0"/><circle cx="260.8" cy="338.5" r="6.0"/><circle cx="299.9" cy="412.8" r="6.0"/><circle cx="315.7" cy="407.5" r="6.0"/><circle cx="319.9" cy="405.6" r="6.0"/><circle cx="335.7" cy="402.5" r="6.0"/><circle cx="331.5" cy="406.0" r="6.0"/><circle cx="340.3" cy="407.3" r="6.0"/><circle cx="363.2" cy="412.2" r="6.0"/><circle cx="347.3" cy="415.1" r="6.0"/><circle cx="284.6" cy="421.8" r="6.0"/><circle cx="314.5" cy="423.1" r="6.0"/><circle cx="281.9" cy="438.1" r="6.0"/><circle cx="290.2" cy="436.0" r="6.0"/><circle cx="304.4" cy="438.8" r="6.0"/><circle cx="300.2" cy="448.3" r="6.0"/><circle cx="338.2" cy="444.2" r="6.0"/><circle cx="255.0" cy="395.5" r="6.0"/>
</g>
<g fill="#2ca02c">
<circle cx="307.9" cy="207.3" r="6.0"/><circle cx="308.8" cy="172.5" r="6.0"/><circle cx="288.3" cy="176.8" r="6.0"/><circle cx="347.7" cy="203.7" r="6.0"/><circle cx="345.5" cy="196.3" r="6.0"/><circle cx="326.8" cy="193.6" r="6.0"/><circle cx="266.9" cy="221.8" r="6.0"/><circle cx="322.2" cy="244.2" r="6.0"/><circle cx="351.4" cy="167.9" r="6.0"/><circle cx="324.3" cy="202.4" r="6.0"/><circle cx="296.1" cy="258.2" r="6.0"/><circle cx="279.2" cy="156.3" r="6.0"/><circle cx="289.9" cy="223.9" r="6.0"/><circle cx="324.7" cy="191.5" r="6.0"/><circle cx="327.3" cy="247.0" r="6.0"/><circle cx="300.2" cy="237.2" r="6.0"/><circle cx="291.8" cy="196.1" r="6.0"/><circle cx="327.7" cy="123.0" r="6.0"/><circle cx="283.6" cy="162.6" r="6.0"/><circle cx="348.6" cy="137.6" r="6.0"/><circle cx="329.8" cy="183.2" r="6.0"/><circle cx="272.7" cy="220.7" r="6.0"/><circle cx="307.1" cy="186.6" r="6.0"/><circle cx="333.2" cy="160.0" r="6.0"/><circle cx="302.2" cy="132.5" r="6.0"/><circle cx="287.2" cy="163.4" r="6.0"/><circle cx="272.9" cy="195.9" r="6.0"/><circle cx="357.3" cy="210.2" r="6.0"/><circle cx="282.8" cy="227.0" r="6.0"/><circle cx="347.4" cy="192.4" r="6.0"/><circle cx="322.5" cy="204.1" r="6.0"/><circle cx="361.7" cy="211.9" r="6.0"/><circle cx="315.8" cy="227.7" r="6.0"/><circle cx="323.6" cy="173.3" r="6.0"/><circle cx="280.5" cy="202.5" r="6.0"/><circle cx="310.0" cy="228.7" r="6.0"/><circle cx="331.4" cy="179.4" r="6.0"/><circle cx="324.8" cy="213.2" r="6.0"/><circle cx="318.8" cy="234.1" r="6.0"/><circle cx="296.1" cy="168.3" r="6.0"/><circle cx="345.6" cy="186.9" r="6.0"/><circle cx="289.7" cy="225.7" r="6.0"/><circle cx="358.0" cy="167.0" r="6.0"/><circle cx="283.0" cy="143.2" r="6.0"/><circle cx="323.9" cy="145.6" r="6.0"/><circle cx="304.4" cy="197.5" r="6.0"/><circle cx="308.4" cy="174.5" r="6.0"/><circle cx="333.5" cy="197.6" r="6.0"/><circle cx="329.2" cy="218.5" r="6.0"/><circle cx="315.9" cy="186.1" r="6.0"/><circle cx="323.2" cy="201.6" r="6.0"/><circle cx="311.0" cy="193.0" r="6.0"/><circle cx="343.6" cy="144.5" r="6.0"/><circle cx="328.5" cy="211.6" r="6.0"/><circle cx="299.4" cy="218.6" r="6.0"/><circle cx="282.6" cy="196.1" r="6.0"/><circle cx="326.9" cy="195.8" r="6.0"/><circle cx="302.8" cy="213.4" r="6.0"/><circle cx="323.5" cy="163.8" r="6.0"/><circle cx="299.2" cy="181.6" r="6.0"/><circle cx="308.8" cy="183.1" r="6.0"/><circle cx="344.7" cy="136.5" r="6.0"/><circle cx="303.6" cy="204.7" r="6.0"/><circle cx="320.3" cy="134.3" r="6.0"/><circle cx="320.1" cy="148.7" r="6.0"/><circle cx="314.0" cy="155.6" r="6.0"/><circle cx="288.2" cy="181.4" r="6.0"/><circle cx="322.1" cy="187.6" r="6.0"/><circle cx="311.2" cy="217.9" r="6.0"/><circle cx="301.8" cy="208.1" r="6.0"/><circle cx="318.1" cy="213.4" r="6.0"/><circle cx="326.8" cy="242.3" r="6.0"/><circle cx="285.5" cy="123.8" r="6.0"/><circle cx="325.1" cy="117.0" r="6.0"/><circle cx="337.6" cy="252.8" r="6.0"/><circle cx="292.0" cy="211.8" r="6.0"/><circle cx="359.5" cy="163.6" r="6.0"/><circle cx="327.0" cy="203.1" r="6.0"/><circle cx="358.9" cy="142.8" r="6.0"/><circle cx="300.5" cy="153.1" r="6.0"/><circle cx="300.6" cy="179.1" r="6.0"/><circle cx="294.4" cy="144.1" r="6.0"/><circle cx="343.7" cy="167.6" r="6.0"/><circle cx="315.1" cy="220.9" r="6.0"/><circle cx="317.6" cy="241.7" r="6.0"/><circle cx="313.6" cy="229.6" r="6.0"/><circle cx="295.8" cy="222.9" r="6.0"/><circle cx="279.5" cy="185.2" r="6.0"/><circle cx="309.7" cy="184.6" r="6.0"/><circle cx="298.1" cy="195.6" r="6.0"/><circle cx="367.4" cy="187.6" r="6.0"/><circle cx="269.2" cy="197.0" r="6.0"/><circle cx="299.2" cy="231.0" r="6.0"/><circle cx="267.5" cy="160.6" r="6.0"/><circle cx="294.9" cy="174.0" r="6.0"/><circle cx="277.8" cy="206.0" r="6.0"/><circle cx="280.5" cy="184.0" r="6.0"/><circle cx="304.1" cy="142.5" r="6.0"/><circle cx="282.9" cy="175.8" r="6.0"/><circle cx="336.4" cy="174.2" r="6.0"/><circle cx="323.8" cy="166.4" r="6.0"/><circle cx="338.0" cy="217.3" r="6.0"/><circle cx="334.7" cy="199.5" r="6.0"/><circle cx="354.1" cy="213.6" r="6.0"/><circle cx="335.4" cy="179.8" r="6.0"/><circle cx="343.4" cy="173.3" r="6.0"/><circle cx="323.9" cy="164.0" r="6.0"/><circle cx="283.5" cy="206.9" r="6.0"/><circle cx="305.1" cy="209.3" r="6.0"/><circle cx="295.9" cy="247.1" r="6.0"/><circle cx="285.8" cy="170.6" r="6.0"/><circle cx="341.3" cy="190.1" r="6.0"/><circle cx="290.5" cy="150.3" r="6.0"/><circle cx="333.4" cy="206.0" r="6.0"/><circle cx="364.3" cy="203.8" r="6.0"/><circle cx="336.2" cy="217.9" r="6.0"/><circle cx="274.5" cy="157.7" r="6.0"/><circle cx="356.9" cy="208.5" r="6.0"/><circle cx="280.6" cy="129.1" r="6.0"/><circle cx="322.0" cy="173.5" r="6.0"/><circle cx="336.1" cy="150.6" r="6.0"/><circle cx="295.7" cy="231.1" r="6.0"/><circle cx="335.9" cy="171.0" r="6.0"/><circle cx="339.8" cy="223.2" r="6.0"/><circle cx="316.3" cy="206.0" r="6.0"/><circle cx="320.3" cy="197.3" r="6.0"/><circle cx="322.8" cy="220.6" r="6.0"/><circle cx="298.7" cy="252.7" r="6.0"/><circle cx="297.1" cy="185.8" r="6.0"/><circle cx="312.1" cy="192.4" r="6.0"/><circle cx="315.3" cy="193.2" r="6.0"/><circle cx="311.4" cy="132.7" r="6.0"/><circle cx="327.6" cy="230.2" r="6.0"/><circle cx="328.0" cy="177.8" r="6.0"/><circle cx="328.3" cy="145.1" r="6.0"/><circle cx="295.9" cy="153.4" r="6.0"/><circle cx="309.7" cy="197.3" r="6.0"/><circle cx="323.0" cy="197.5" r="6.0"/><circle cx="314.1" cy="153.4" r="6.0"/><circle cx="321.7" cy="200.9" r="6.0"/><circle cx="304.0" cy="155.7" r="6.0"/><circle cx="316.5" cy="220.8" r="6.0"/><circle cx="298.9" cy="192.0" r="6.0"/><circle cx="293.9" cy="196.8" r="6.0"/><circle cx="294.5" cy="176.6" r="6.0"/><circle cx="339.8" cy="178.0" r="6.0"/><circle cx="314.5" cy="187.3" r="6.0"/><circle cx="291.0" cy="218.2" r="6.0"/><circle cx="295.9" cy="185.3" r="6.0"/><circle cx="312.4" cy="185.7" r="6.0"/><circle cx="314.2" cy="204.0" r="6.0"/><circle cx="308.5" cy="193.0" r="6.0"/><circle cx="339.9" cy="190.8" r="6.0"/><circle cx="319.5" cy="241.4" r="6.0"/><circle cx="295.5" cy="209.7" r="6.0"/><circle cx="331.8" cy="183.5" r="6.0"/><circle cx="308.6" cy="126.1" r="6.0"/><circle cx="338.0" cy="225.2" r="6.0"/><circle cx="333.1" cy="136.3" r="6.0"/><circle cx="349.8" cy="145.9" r="6.0"/><circle cx="316.3" cy="196.3" r="6.0"/><circle cx="333.8" cy="215.4" r="6.0"/><circle cx="287.0" cy="143.2" r="6.0"/><circle cx="301.1" cy="141.5" r="6.0"/><circle cx="279.3" cy="184.8" r="6.0"/><circle cx="309.5" cy="172.7" r="6.0"/><circle cx="313.5" cy="153.8" r="6.0"/><circle cx="335.7" cy="200.7" r="6.0"/><circle cx="312.8" cy="157.5" r="6.0"/><circle cx="286.8" cy="187.4" r="6.0"/><circle cx="284.4" cy="145.2" r="6.0"/><circle cx="329.9" cy="196.9" r="6.0"/><circle cx="314.1" cy="255.3" r="6.0"/><circle cx="311.1" cy="183.0" r="6.0"/><circle cx="336.7" cy="198.2" r="6.0"/><circle cx="294.3" cy="128.7" r="6.0"/><circle cx="306.4" cy="234.9" r="6.0"/><circle cx="283.5" cy="196.2" r="6.0"/><circle cx="311.6" cy="228.3" r="6.0"/><circle cx="358.0" cy="179.1" r="6.0"/><circle cx="294.3" cy="147.2" r="6.0"/><circle cx="322.8" cy="138.2" r="6.0"/><circle cx="317.5" cy="245.9" r="6.0"/><circle cx="281.9" cy="228.3" r="6.0"/><circle cx="316.1" cy="237.2" r="6.0"/><circle cx="333.8" cy="150.1" r="6.0"/><circle cx="351.5" cy="183.9" r="6.0"/><circle cx="314.6" cy="179.2" r="6.0"/><circle cx="297.3" cy="138.1" r="6.0"/><circle cx="301.1" cy="161.3" r="6.0"/><circle cx="338.2" cy="230.8" r="6.0"/><circle cx="334.7" cy="239.1" r="6.0"/><circle cx="296.2" cy="168.8" r="6.0"/><circle cx="323.5" cy="167.3" r="6.0"/><circle cx="308.8" cy="155.9" r="6.0"/><circle cx="345.8" cy="157.3" r="6.0"/><circle cx="294.0" cy="187.2" r="6.0"/><circle cx="287.1" cy="169.0" r="6.0"/><circle cx="343.7" cy="203.2" r="6.0"/><circle cx="319.8" cy="214.9" r="6.0"/><circle cx="310.9" cy="219.3" r="6.0"/><circle cx="328.5" cy="157.4" r="6.0"/><circle cx="281.4" cy="182.1" r="6.0"/><circle cx="301.1" cy="158.9" r="6.0"/><circle cx="293.5" cy="206.5" r="6.0"/><circle cx="297.2" cy="193.4" r="6.0"/><circle cx="305.7" cy="141.6" r="6.0"/><circle cx="284.5" cy="147.0" r="6.0"/><circle cx="352.3" cy="185.4" r="6.0"/><circle cx="289.8" cy="239.7" r="6.0"/><circle cx="360.5" cy="179.1" r="6.0"/><circle cx="282.5" cy="144.9" r="6.0"/><circle cx="278.1" cy="164.8" r="6.0"/><circle cx="278.1" cy="151.1" r="6.0"/><circle cx="293.3" cy="195.0" r="6.0"/><circle cx="350.6" cy="218.9" r="6.0"/><circle cx="307.4" cy="174.3" r="6.0"/><circle cx="317.5" cy="169.4" r="6.0"/><circle cx="300.6" cy="127.6" r="6.0"/><circle cx="281.3" cy="186.2" r="6.0"/><circle cx="327.1" cy="234.0" r="6.0"/><circle cx="289.5" cy="155.4" r="6.0"/><circle cx="292.4" cy="172.5" r="6.0"/><circle cx="310.4" cy="246.1" r="6.0"/><circle cx="334.4" cy="238.3" r="6.0"/><circle cx="312.9" cy="197.4" r="6.0"/><circle cx="292.4" cy="133.8" r="6.0"/><circle cx="283.9" cy="188.7" r="6.0"/><circle cx="331.9" cy="244.4" r="6.0"/><circle cx="335.5" cy="205.3" r="6.0"/><circle cx="339.4" cy="180.1" r="6.0"/><circle cx="320.0" cy="124.6" r="6.0"/><circle cx="341.0" cy="150.3" r="6.0"/><circle cx="353.6" cy="205.1" r="6.0"/><circle cx="297.5" cy="136.4" r="6.0"/><circle cx="292.7" cy="203.9" r="6.0"/><circle cx="333.4" cy="134.3" r="6.0"/><circle cx="276.2" cy="189.0" r="6.0"/><circle cx="322.9" cy="170.9" r="6.0"/><circle cx="290.2" cy="199.2" r="6.0"/><circle cx="311.8" cy="246.7" r="6.0"/><circle cx="328.5" cy="236.8" r="6.0"/><circle cx="313.1" cy="150.5" r="6.0"/><circle cx="334.0" cy="160.2" r="6.0"/><circle cx="271.8" cy="185.6" r="6.0"/><circle cx="331.2" cy="175.2" r="6.0"/><circle cx="293.2" cy="208.0" r="6.0"/><circle cx="272.9" cy="164.3" r="6.0"/><circle cx="308.1" cy="210.0" r="6.0"/><circle cx="287.8" cy="225.2" r="6.0"/><circle cx="337.1" cy="186.4" r="6.0"/><circle cx="298.2" cy="228.3" r="6.0"/><circle cx="290.8" cy="148.8" r="6.0"/><circle cx="339.0" cy="158.5" r="6.0"/><circle cx="356.5" cy="185.2" r="6.0"/><circle cx="286.9" cy="149.0" r="6.0"/><circle cx="307.8" cy="207.7" r="6.0"/><circle cx="305.6" cy="147.6" r="6.0"/><circle cx="305.6" cy="238.7" r="6.0"/><circle cx="350.3" cy="216.7" r="6.0"/><circle cx="299.8" cy="144.0" r="6.0"/><circle cx="272.7" cy="207.6" r="6.0"/><circle cx="304.3" cy="169.0" r="6.0"/><circle cx="300.0" cy="141.8" r="6.0"/><circle cx="301.8" cy="246.3" r="6.0"/><circle cx="288.7" cy="166.7" r="6.0"/><circle cx="344.6" cy="228.5" r="6.0"/><circle cx="309.2" cy="125.9" r="6.0"/><circle cx="312.9" cy="168.9" r="6.0"/><circle cx="303.0" cy="238.5" r="6.0"/><circle cx="272.6" cy="173.9" r="6.0"/><circle cx="343.7" cy="221.2" r="6.0"/><circle cx="293.2" cy="218.6" r="6.0"/><circle cx="351.6" cy="164.4" r="6.0"/><circle cx="326.0" cy="154.2" r="6.0"/><circle cx="335.1" cy="161.4" r="6.0"/><circle cx="338.6" cy="241.1" r="6.0"/><circle cx="327.5" cy="244.7" r="6.0"/><circle cx="313.1" cy="246.5" r="6.0"/><circle cx="356.7" cy="170.7" r="6.0"/><circle cx="292.7" cy="176.5" r="6.0"/><circle cx="314.7" cy="242.6" r="6.0"/><circle cx="286.5" cy="226.0" r="6.0"/><circle cx="337.0" cy="228.6" r="6.0"/><circle cx="340.2" cy="200.0" r="6.0"/><circle cx="299.7" cy="161.8" r="6.0"/><circle cx="302.8" cy="223.3" r="6.0"/><circle cx="338.4" cy="152.2" r="6.0"/><circle cx="320.1" cy="162.6" r="6.0"/><circle cx="315.2" cy="213.6" r="6.0"/><circle cx="310.5" cy="150.5" r="6.0"/><circle cx="307.8" cy="201.8" r="6.0"/><circle cx="331.2" cy="218.7" r="6.0"/><circle cx="346.9" cy="207.6" r="6.0"/><circle cx="296.6" cy="194.7" r="6.0"/><circle cx="303.8" cy="217.4" r="6.0"/><circle cx="287.9" cy="152.2" r="6.0"/><circle cx="292.1" cy="139.7" r="6.0"/><circle cx="350.3" cy="196.2" r="6.0"/><circle cx="299.5" cy="172.0" r="6.0"/><circle cx="360.2" cy="186.8" r="6.0"/><circle cx="290.9" cy="226.7" r="6.0"/><circle cx="279.1" cy="182.4" r="6.0"/><circle cx="344.4" cy="231.0" r="6.0"/><circle cx="296.5" cy="135.2" r="6.0"/><circle cx="322.9" cy="242.9" r="6.0"/><circle cx="303.7" cy="234.4" r="6.0"/><circle cx="310.7" cy="153.9" r="6.0"/><circle cx="279.4" cy="198.5" r="6.0"/><circle cx="326.3" cy="148.3" r="6.0"/><circle cx="303.4" cy="138.1" r="6.0"/><circle cx="288.4" cy="153.2" r="6.0"/><circle cx="324.4" cy="205.9" r="6.0"/><circle cx="299.6" cy="209.5" r="6.0"/><circle cx="286.7" cy="160.8" r="6.0"/><circle cx="288.3" cy="225.0" r="6.0"/><circle cx="319.7" cy="127.8" r="6.0"/><circle cx="279.0" cy="171.9" r="6.0"/><circle cx="319.9" cy="204.3" r="6.0"/><circle cx="333.1" cy="173.8" r="6.0"/><circle cx="295.6" cy="160.2" r="6.0"/><circle cx="356.6" cy="160.9" r="6.0"/><circle cx="321.4" cy="166.8" r="6.0"/><circle cx="307.7" cy="234.2" r="6.0"/><circle cx="287.8" cy="216.1" r="6.0"/><circle cx="351.9" cy="175.6" r="6.0"/><circle cx="344.5" cy="173.3" r="6.0"/><circle cx="350.2" cy="180.6" r="6.0"/><circle cx="320.0" cy="204.5" r="6.0"/><circle cx="326.5" cy="168.6" r="6.0"/><circle cx="315.7" cy="138.7" r="6.0"/><circle cx="295.6" cy="188.6" r="6.0"/><circle cx="314.5" cy="226.3" r="6.0"/><circle cx="358.6" cy="183.5" r="6.0"/><circle cx="305.1" cy="239.5" r="6.0"/><circle cx="326.3" cy="228.9" r="6.0"/><circle cx="284.4" cy="223.7" r="6.0"/><circle cx="290.0" cy="173.1" r="6.0"/><circle cx="346.9" cy="229.5" r="6.0"/><circle cx="286.5" cy="148.3" r="6.0"/><circle cx="306.2" cy="188.2" r="6.0"/><circle cx="304.7" cy="135.7" r="6.0"/><circle cx="292.3" cy="215.6" r="6.0"/><circle cx="321.0" cy="220.0" r="6.0"/><circle cx="280.5" cy="199.0" r="6.0"/><circle cx="319.9" cy="202.7" r="6.0"/><circle cx="297.7" cy="175.2" r="6.0"/><circle cx="322.9" cy="175.9" r="6.0"/><circle cx="329.8" cy="178.7" r="6.0"/><circle cx="309.7" cy="122.5" r="6.0"/><circle cx="326.2" cy="184.4" r="6.0"/><circle cx="291.2" cy="220.8" r="6.0"/><circle cx="340.8" cy="180.2" r="6.0"/><circle cx="286.2" cy="182.2" r="6.0"/><circle cx="309.0" cy="131.5" r="6.0"/><circle cx="310.0" cy="187.1" r="6.0"/><circle cx="273.5" cy="203.9" r="6.0"/><circle cx="277.3" cy="216.8" r="6.0"/><circle cx="240.4" cy="127.0" r="6.0"/><circle cx="237.7" cy="199.4" r="6.0"/><circle cx="245.8" cy="203.8" r="6.0"/><circle cx="240.8" cy="208.9" r="6.0"/><circle cx="294.4" cy="62.4" r="6.0"/><circle cx="303.5" cy="70.0" r="6.0"/><circle cx="304.0" cy="72.5" r="6.0"/><circle cx="317.5" cy="73.2" r="6.0"/><circle cx="338.5" cy="71.6" r="6.0"/><circle cx="367.5" cy="69.3" r="6.0"/><circle cx="267.9" cy="89.2" r="6.0"/><circle cx="285.4" cy="100.0" r="6.0"/><circle cx="288.2" cy="101.9" r="6.0"/><circle cx="323.7" cy="98.9" r="6.0"/><circle cx="350.5" cy="98.9" r="6.0"/><circle cx="250.7" cy="105.6" r="6.0"/><circle cx="283.4" cy="115.7" r="6.0"/><circle cx="308.7" cy="112.0" r="6.0"/><circle cx="309.4" cy="113.9" r="6.0"/><circle cx="297.9" cy="115.8" r="6.0"/><circle cx="294.5" cy="118.2" r="6.0"/><circle cx="290.7" cy="119.8" r="6.0"/><circle cx="287.9" cy="122.4" r="6.0"/><circle cx="324.2" cy="112.6" r="6.0"/><circle cx="327.4" cy="111.9" r="6.0"/><circle cx="334.5" cy="113.1" r="6.0"/><circle cx="337.5" cy="117.7" r="6.0"/><circle cx="321.7" cy="121.3" r="6.0"/><circle cx="260.0" cy="118.3" r="6.0"/><circle cx="300.7" cy="124.2" r="6.0"/><circle cx="309.5" cy="124.9" r="6.0"/><circle cx="313.7" cy="124.6" r="6.0"/><circle cx="329.5" cy="125.3" r="6.0"/><circle cx="334.5" cy="126.8" r="6.0"/><circle cx="249.5" cy="124.2" r="6.0"/><circle cx="365.7" cy="131.0" r="6.0"/><circle cx="371.7" cy="142.4" r="6.0"/><circle cx="347.0" cy="135.2" r="6.0"/><circle cx="350.4" cy="137.1" r="6.0"/><circle cx="353.7" cy="143.4" r="6.0"/><circle cx="354.5" cy="145.9" r="6.0"/><circle cx="353.7" cy="152.2" r="6.0"/><circle cx="360.4" cy="157.0" r="6.0"/><circle cx="371.7" cy="161.7" r="6.0"/><circle cx="366.7" cy="166.3" r="6.0"/><circle cx="371.2" cy="170.9" r="6.0"/><circle cx="395.0" cy="172.0" r="6.0"/><circle cx="403.7" cy="173.7" r="6.0"/><circle cx="398.7" cy="177.5" r="6.0"/><circle cx="381.7" cy="190.5" r="6.0"/><circle cx="363.7" cy="178.5" r="6.0"/><circle cx="369.5" cy="178.7" r="6.0"/><circle cx="356.2" cy="163.6" r="6.0"/><circle cx="350.4" cy="168.0" r="6.0"/><circle cx="343.7" cy="168.0" r="6.0"/><circle cx="312.0" cy="124.4" r="6.0"/><circle cx="343.7" cy="132.6" r="6.0"/><circle cx="280.4" cy="131.4" r="6.0"/><circle cx="290.4" cy="132.6" r="6.0"/><circle cx="315.4" cy="130.7" r="6.0"/><circle cx="304.5" cy="128.8" r="6.0"/><circle cx="264.5" cy="133.3" r="6.0"/><circle cx="258.7" cy="137.7" r="6.0"/><circle cx="273.7" cy="137.7" r="6.0"/><circle cx="256.2" cy="144.6" r="6.0"/><circle cx="248.7" cy="150.9" r="6.0"/><circle cx="274.5" cy="147.2" r="6.0"/><circle cx="271.2" cy="155.4" r="6.0"/><circle cx="264.5" cy="160.4" r="6.0"/><circle cx="250.4" cy="164.2" r="6.0"/><circle cx="254.5" cy="166.7" r="6.0"/><circle cx="265.4" cy="170.5" r="6.0"/><circle cx="258.7" cy="173.7" r="6.0"/><circle cx="254.5" cy="183.1" r="6.0"/><circle cx="266.2" cy="182.5" r="6.0"/><circle cx="247.1" cy="180.0" r="6.0"/><circle cx="256.2" cy="195.1" r="6.0"/><circle cx="263.7" cy="188.8" r="6.0"/><circle cx="391.5" cy="209.4" r="6.0"/><circle cx="368.7" cy="222.4" r="6.0"/><circle cx="347.0" cy="219.3" r="6.0"/><circle cx="350.4" cy="219.9" r="6.0"/><circle cx="357.0" cy="228.8" r="6.0"/><circle cx="368.7" cy="231.9" r="6.0"/><circle cx="371.2" cy="237.0" r="6.0"/><circle cx="366.2" cy="243.7" r="6.0"/><circle cx="353.7" cy="235.7" r="6.0"/><circle cx="362.0" cy="234.4" r="6.0"/><circle cx="345.4" cy="228.8" r="6.0"/><circle cx="361.2" cy="262.8" r="6.0"/><circle cx="339.5" cy="202.2" r="6.0"/><circle cx="344.5" cy="200.4" r="6.0"/><circle cx="358.7" cy="199.1" r="6.0"/><circle cx="363.7" cy="194.7" r="6.0"/><circle cx="338.4" cy="243.9" r="6.0"/><circle cx="330.4" cy="236.3" r="6.0"/><circle cx="333.7" cy="254.0" r="6.0"/><circle cx="337.9" cy="256.5" r="6.0"/><circle cx="323.7" cy="259.7" r="6.0"/><circle cx="335.4" cy="264.1" r="6.0"/><circle cx="343.7" cy="267.5" r="6.0"/><circle cx="285.7" cy="253.1" r="6.0"/><circle cx="299.9" cy="257.5" r="6.0"/><circle cx="308.7" cy="261.3" r="6.0"/><circle cx="301.2" cy="265.4" r="6.0"/><circle cx="317.0" cy="266.6" r="6.0"/><circle cx="282.0" cy="243.3" r="6.0"/><circle cx="313.7" cy="254.0" r="6.0"/><circle cx="320.4" cy="250.2" r="6.0"/><circle cx="255.4" cy="240.8" r="6.0"/><circle cx="263.7" cy="247.1" r="6.0"/><circle cx="256.2" cy="255.3" r="6.0"/><circle cx="263.7" cy="258.4" r="6.0"/><circle cx="253.7" cy="264.1" r="6.0"/><circle cx="257.0" cy="226.9" r="6.0"/><circle cx="267.9" cy="222.4" r="6.0"/><circle cx="264.5" cy="214.2" r="6.0"/><circle cx="270.4" cy="209.8" r="6.0"/><circle cx="256.2" cy="196.6" r="6.0"/><circle cx="262.0" cy="199.7" r="6.0"/><circle cx="301.2" cy="273.9" r="6.0"/><circle cx="317.0" cy="268.6" r="6.0"/><circle cx="321.2" cy="266.7" r="6.0"/><circle cx="337.0" cy="263.6" r="6.0"/><circle cx="332.9" cy="267.1" r="6.0"/><circle cx="341.7" cy="268.4" r="6.0"/><circle cx="364.5" cy="273.3" r="6.0"/><circle cx="348.7" cy="276.2" r="6.0"/><circle cx="285.9" cy="282.9" r="6.0"/><circle cx="315.9" cy="284.2" r="6.0"/><circle cx="283.2" cy="299.2" r="6.0"/><circle cx="291.5" cy="297.0" r="6.0"/><circle cx="305.7" cy="299.8" r="6.0"/><circle cx="301.5" cy="309.3" r="6.0"/><circle cx="339.5" cy="305.2" r="6.0"/><circle cx="256.2" cy="256.6" r="6.0"/>
</g>
<g fill="#d62728">
<circle cx="422.2" cy="285.8" r="6.0"/><circle cx="423.2" cy="231.2" r="6.0"/><circle cx="398.9" cy="237.9" r="6.0"/><circle cx="469.4" cy="280.0" r="6.0"/><circle cx="466.8" cy="268.4" r="6.0"/><circle cx="444.6" cy="264.2" r="6.0"/><circle cx="373.5" cy="308.4" r="6.0"/><circle cx="439.1" cy="343.4" r="6.0"/><circle cx="473.8" cy="224.1" r="6.0"/><circle cx="441.7" cy="278.0" r="6.0"/><circle cx="408.2" cy="365.4" r="6.0"/><circle cx="388.1" cy="205.8" r="6.0"/><circle cx="400.8" cy="311.7" r="6.0"/><circle cx="442.2" cy="260.9" r="6.0"/><circle cx="445.2" cy="347.9" r="6.0"/><circle cx="413.0" cy="332.6" r="6.0"/><circle cx="403.1" cy="268.2" r="6.0"/><circle cx="445.7" cy="153.7" r="6.0"/><circle cx="393.4" cy="215.7" r="6.0"/><circle cx="470.5" cy="176.6" r="6.0"/><circle cx="448.2" cy="247.9" r="6.0"/><circle cx="380.5" cy="306.6" r="6.0"/><circle cx="421.3" cy="253.3" r="6.0"/><circle cx="452.2" cy="211.6" r="6.0"/><circle cx="415.4" cy="168.5" r="6.0"/><circle cx="397.6" cy="216.9" r="6.0"/><circle cx="380.7" cy="267.8" r="6.0"/><circle cx="480.8" cy="290.2" r="6.0"/><circle cx="392.4" cy="316.5" r="6.0"/><circle cx="469.0" cy="262.4" r="6.0"/><circle cx="439.5" cy="280.7" r="6.0"/><circle cx="486.0" cy="292.9" r="6.0"/><circle cx="431.5" cy="317.7" r="6.0"/><circle cx="440.8" cy="232.4" r="6.0"/><circle cx="389.6" cy="278.2" r="6.0"/><circle cx="424.7" cy="319.3" r="6.0"/><circle cx="450.0" cy="242.1" r="6.0"/><circle cx="442.2" cy="294.9" r="6.0"/><circle cx="435.2" cy="327.6" r="6.0"/><circle cx="408.2" cy="224.6" r="6.0"/><circle cx="466.9" cy="253.8" r="6.0"/><circle cx="400.6" cy="314.5" r="6.0"/><circle cx="481.6" cy="222.6" r="6.0"/><circle cx="392.7" cy="185.3" r="6.0"/><circle cx="441.2" cy="189.1" r="6.0"/><circle cx="418.0" cy="270.3" r="6.0"/><circle cx="422.8" cy="234.3" r="6.0"/><circle cx="452.5" cy="270.5" r="6.0"/><circle cx="447.5" cy="303.3" r="6.0"/><circle cx="431.7" cy="252.5" r="6.0"/><circle cx="440.3" cy="276.8" r="6.0"/><circle cx="425.9" cy="263.3" r="6.0"/><circle cx="464.5" cy="187.3" r="6.0"/><circle cx="446.7" cy="292.4" r="6.0"/><circle cx="412.1" cy="303.4" r="6.0"/><circle cx="392.2" cy="268.1" r="6.0"/><circle cx="444.7" cy="267.7" r="6.0"/><circle cx="416.1" cy="295.2" r="6.0"/><circle cx="440.7" cy="217.5" r="6.0"/><circle cx="411.9" cy="245.4" r="6.0"/><circle cx="423.2" cy="247.9" r="6.0"/><circle cx="465.8" cy="174.9" r="6.0"/><circle cx="417.0" cy="281.6" r="6.0"/><circle cx="436.8" cy="171.4" r="6.0"/><circle cx="436.6" cy="194.0" r="6.0"/><circle cx="429.4" cy="204.8" r="6.0"/><circle cx="398.9" cy="245.2" r="6.0"/><circle cx="439.1" cy="254.8" r="6.0"/><circle cx="426.1" cy="302.3" r="6.0"/><circle cx="414.9" cy="287.0" r="6.0"/><circle cx="434.3" cy="295.2" r="6.0"/><circle cx="444.6" cy="340.6" r="6.0"/><circle cx="395.6" cy="155.0" r="6.0"/><circle cx="442.6" cy="144.3" r="6.0"/><circle cx="457.4" cy="356.9" r="6.0"/><circle cx="403.3" cy="292.7" r="6.0"/><circle cx="483.4" cy="217.2" r="6.0"/><circle cx="444.8" cy="279.1" r="6.0"/><circle cx="482.7" cy="184.7" r="6.0"/><circle cx="413.4" cy="200.8" r="6.0"/><circle cx="413.6" cy="241.5" r="6.0"/><circle cx="406.1" cy="186.8" r="6.0"/><circle cx="464.6" cy="223.5" r="6.0"/><circle cx="430.7" cy="307.0" r="6.0"/><circle cx="433.7" cy="339.6" r="6.0"/><circle cx="428.9" cy="320.7" r="6.0"/><circle cx="407.8" cy="310.1" r="6.0"/><circle cx="388.5" cy="251.2" r="6.0"/><circle cx="424.4" cy="250.1" r="6.0"/><circle cx="410.6" cy="267.4" r="6.0"/><circle cx="492.8" cy="254.9" r="6.0"/><circle cx="376.3" cy="269.6" r="6.0"/><circle cx="411.8" cy="322.9" r="6.0"/><circle cx="374.2" cy="212.5" r="6.0"/><circle cx="406.8" cy="233.5" r="6.0"/><circle cx="386.5" cy="283.7" r="6.0"/><circle cx="389.7" cy="249.2" r="6.0"/><circle cx="417.7" cy="184.2" r="6.0"/><circle cx="392.5" cy="236.4" r="6.0"/><circle cx="456.0" cy="233.8" r="6.0"/><circle cx="441.0" cy="221.7" r="6.0"/><circle cx="457.9" cy="301.3" r="6.0"/><circle cx="454.0" cy="273.6" r="6.0"/><circle cx="477.0" cy="295.5" r="6.0"/><circle cx="454.8" cy="242.6" r="6.0"/><circle cx="464.2" cy="232.4" r="6.0"/><circle cx="441.1" cy="218.0" r="6.0"/><circle cx="393.2" cy="285.1" r="6.0"/><circle cx="418.9" cy="288.9" r="6.0"/><circle cx="408.0" cy="348.0" r="6.0"/><circle cx="395.9" cy="228.3" r="6.0"/><circle cx="461.8" cy="258.7" r="6.0"/><circle cx="401.6" cy="196.5" r="6.0"/><circle cx="452.4" cy="283.7" r="6.0"/><circle cx="489.1" cy="280.2" r="6.0"/><circle cx="455.8" cy="302.3" r="6.0"/><circle cx="382.6" cy="208.0" r="6.0"/><circle cx="480.3" cy="287.6" r="6.0"/><circle cx="389.8" cy="163.2" r="6.0"/><circle cx="438.9" cy="232.8" r="6.0"/><circle cx="455.7" cy="196.9" r="6.0"/><circle cx="407.7" cy="323.0" r="6.0"/><circle cx="455.4" cy="228.8" r="6.0"/><circle cx="460.0" cy="310.6" r="6.0"/><circle cx="432.2" cy="283.7" r="6.0"/><circle cx="436.9" cy="270.0" r="6.0"/><circle cx="439.9" cy="306.5" r="6.0"/><circle cx="411.3" cy="356.8" r="6.0"/><circle cx="409.4" cy="252.0" r="6.0"/><circle cx="427.2" cy="262.4" r="6.0"/><circle cx="431.0" cy="263.6" r="6.0"/><circle cx="426.4" cy="168.9" r="6.0"/><circle cx="445.5" cy="321.5" r="6.0"/><circle cx="446.0" cy="239.5" r="6.0"/><circle cx="446.4" cy="188.3" r="6.0"/><circle cx="407.9" cy="201.3" r="6.0"/><circle cx="424.4" cy="270.1" r="6.0"/><circle cx="440.1" cy="270.4" r="6.0"/><circle cx="429.5" cy="201.4" r="6.0"/><circle cx="438.5" cy="275.7" r="6.0"/><circle cx="417.6" cy="204.8" r="6.0"/><circle cx="432.4" cy="306.9" r="6.0"/><circle cx="411.5" cy="261.7" r="6.0"/><circle cx="405.6" cy="269.2" r="6.0"/><circle cx="406.3" cy="237.6" r="6.0"/><circle cx="460.0" cy="239.8" r="6.0"/><circle cx="430.0" cy="254.4" r="6.0"/><circle cx="402.2" cy="302.7" r="6.0"/><circle cx="407.9" cy="251.2" r="6.0"/><circle cx="427.6" cy="251.8" r="6.0"/><circle cx="429.7" cy="280.5" r="6.0"/><circle cx="422.9" cy="263.4" r="6.0"/><circle cx="460.1" cy="259.9" r="6.0"/><circle cx="435.9" cy="339.1" r="6.0"/><circle cx="407.4" cy="289.5" r="6.0"/><circle cx="450.5" cy="248.4" r="6.0"/><circle cx="423.0" cy="158.5" r="6.0"/><circle cx="457.9" cy="313.7" r="6.0"/><circle cx="452.1" cy="174.5" r="6.0"/><circle cx="471.9" cy="189.6" r="6.0"/><circle cx="432.1" cy="268.5" r="6.0"/><circle cx="452.9" cy="298.3" r="6.0"/><circle cx="397.4" cy="185.4" r="6.0"/><circle cx="414.1" cy="182.6" r="6.0"/><circle cx="388.3" cy="250.5" r="6.0"/><circle cx="424.1" cy="231.5" r="6.0"/><circle cx="428.8" cy="201.9" r="6.0"/><circle cx="455.2" cy="275.4" r="6.0"/><circle cx="428.0" cy="207.6" r="6.0"/><circle cx="397.1" cy="254.5" r="6.0"/><circle cx="394.3" cy="188.5" r="6.0"/><circle cx="448.2" cy="269.4" r="6.0"/><circle cx="429.6" cy="360.8" r="6.0"/><circle cx="426.0" cy="247.7" r="6.0"/><circle cx="456.3" cy="271.4" r="6.0"/><circle cx="406.1" cy="162.6" r="6.0"/><circle cx="420.4" cy="329.0" r="6.0"/><circle cx="393.3" cy="268.3" r="6.0"/><circle cx="426.6" cy="318.5" r="6.0"/><circle cx="481.6" cy="241.5" r="6.0"/><circle cx="406.0" cy="191.6" r="6.0"/><circle cx="439.8" cy="177.5" r="6.0"/><circle cx="433.6" cy="346.2" r="6.0"/><circle cx="391.3" cy="318.6" r="6.0"/><circle cx="431.9" cy="332.5" r="6.0"/><circle cx="453.0" cy="196.1" r="6.0"/><circle cx="474.0" cy="249.1" r="6.0"/><circle cx="430.1" cy="241.8" r="6.0"/><circle cx="409.6" cy="177.3" r="6.0"/><circle cx="414.1" cy="213.7" r="6.0"/><circle cx="458.1" cy="322.5" r="6.0"/><circle cx="454.0" cy="335.5" r="6.0"/><circle cx="408.3" cy="225.4" r="6.0"/><circle cx="440.6" cy="223.0" r="6.0"/><circle cx="423.2" cy="205.2" r="6.0"/><circle cx="467.1" cy="207.4" r="6.0"/><circle cx="405.7" cy="254.3" r="6.0"/><circle cx="397.5" cy="225.7" r="6.0"/><circle cx="464.7" cy="279.2" r="6.0"/><circle cx="436.3" cy="297.7" r="6.0"/><circle cx="425.7" cy="304.6" r="6.0"/><circle cx="446.6" cy="207.5" r="6.0"/><circle cx="390.7" cy="246.2" r="6.0"/><circle cx="414.1" cy="209.9" r="6.0"/><circle cx="405.1" cy="284.4" r="6.0"/><circle cx="409.5" cy="263.9" r="6.0"/><circle cx="419.6" cy="182.8" r="6.0"/><circle cx="394.5" cy="191.2" r="6.0"/><circle cx="474.8" cy="251.4" r="6.0"/><circle cx="400.8" cy="336.5" r="6.0"/><circle cx="484.6" cy="241.6" r="6.0"/><circle cx="392.1" cy="188.0" r="6.0"/><circle cx="386.8" cy="219.1" r="6.0"/><circle cx="386.8" cy="197.7" r="6.0"/><circle cx="404.9" cy="266.5" r="6.0"/><circle cx="472.8" cy="303.9" r="6.0"/><circle cx="421.6" cy="234.1" r="6.0"/><circle cx="433.6" cy="226.4" r="6.0"/><circle cx="413.5" cy="160.9" r="6.0"/><circle cx="390.6" cy="252.7" r="6.0"/><circle cx="445.0" cy="327.5" r="6.0"/><circle cx="400.3" cy="204.4" r="6.0"/><circle cx="403.8" cy="231.1" r="6.0"/><circle cx="425.2" cy="346.4" r="6.0"/><circle cx="453.6" cy="334.3" r="6.0"/><circle cx="428.1" cy="270.1" r="6.0"/><circle cx="403.8" cy="170.7" r="6.0"/><circle cx="393.7" cy="256.7" r="6.0"/><circle cx="450.7" cy="343.8" r="6.0"/><circle cx="454.9" cy="282.6" r="6.0"/><circle cx="459.6" cy="243.1" r="6.0"/><circle cx="436.6" cy="156.2" r="6.0"/><circle cx="461.5" cy="196.4" r="6.0"/><circle cx="476.4" cy="282.3" r="6.0"/><circle cx="409.8" cy="174.6" r="6.0"/><circle cx="404.2" cy="280.3" r="6.0"/><circle cx="452.4" cy="171.3" r="6.0"/><circle cx="384.6" cy="257.1" r="6.0"/><circle cx="440.0" cy="228.7" r="6.0"/><circle cx="401.1" cy="273.0" r="6.0"/><circle cx="426.8" cy="347.5" r="6.0"/><circle cx="446.6" cy="331.8" r="6.0"/><circle cx="428.3" cy="196.8" r="6.0"/><circle cx="453.1" cy="211.9" r="6.0"/><circle cx="379.4" cy="251.6" r="6.0"/><circle cx="449.8" cy="235.4" r="6.0"/><circle cx="404.8" cy="286.8" r="6.0"/><circle cx="380.7" cy="218.3" r="6.0"/><circle cx="422.4" cy="290.0" r="6.0"/><circle cx="398.4" cy="313.8" r="6.0"/><circle cx="456.8" cy="253.0" r="6.0"/><circle cx="410.7" cy="318.6" r="6.0"/><circle cx="401.9" cy="194.1" r="6.0"/><circle cx="459.1" cy="209.3" r="6.0"/><circle cx="479.8" cy="251.1" r="6.0"/><circle cx="397.2" cy="194.5" r="6.0"/><circle cx="422.0" cy="286.4" r="6.0"/><circle cx="419.5" cy="192.3" r="6.0"/><circle cx="419.5" cy="334.8" r="6.0"/><circle cx="472.4" cy="300.4" r="6.0"/><circle cx="412.6" cy="186.6" r="6.0"/><circle cx="380.4" cy="286.2" r="6.0"/><circle cx="417.9" cy="225.8" r="6.0"/><circle cx="412.8" cy="183.2" r="6.0"/><circle cx="415.0" cy="346.7" r="6.0"/><circle cx="399.4" cy="222.2" r="6.0"/><circle cx="465.7" cy="319.0" r="6.0"/><circle cx="423.7" cy="158.2" r="6.0"/><circle cx="428.1" cy="225.5" r="6.0"/><circle cx="416.3" cy="334.6" r="6.0"/><circle cx="380.3" cy="233.4" r="6.0"/><circle cx="464.7" cy="307.5" r="6.0"/><circle cx="404.8" cy="303.4" r="6.0"/><circle cx="474.0" cy="218.5" r="6.0"/><circle cx="443.6" cy="202.5" r="6.0"/><circle cx="454.4" cy="213.8" r="6.0"/><circle cx="458.6" cy="338.6" r="6.0"/><circle cx="445.5" cy="344.2" r="6.0"/><circle cx="428.3" cy="347.0" r="6.0"/><circle cx="480.0" cy="228.4" r="6.0"/><circle cx="404.1" cy="237.4" r="6.0"/><circle cx="430.3" cy="341.0" r="6.0"/><circle cx="396.8" cy="314.9" r="6.0"/><circle cx="456.8" cy="319.1" r="6.0"/><circle cx="460.5" cy="274.3" r="6.0"/><circle cx="412.4" cy="214.5" r="6.0"/><circle cx="416.1" cy="310.7" r="6.0"/><circle cx="458.3" cy="199.4" r="6.0"/><circle cx="436.7" cy="215.8" r="6.0"/><circle cx="430.8" cy="295.6" r="6.0"/><circle cx="425.3" cy="196.7" r="6.0"/><circle cx="422.0" cy="277.0" r="6.0"/><circle cx="449.8" cy="303.6" r="6.0"/><circle cx="468.5" cy="286.2" r="6.0"/><circle cx="408.7" cy="265.9" r="6.0"/><circle cx="417.3" cy="301.5" r="6.0"/><circle cx="398.5" cy="199.5" r="6.0"/><circle cx="403.5" cy="179.9" r="6.0"/><circle cx="472.5" cy="268.3" r="6.0"/><circle cx="412.2" cy="230.4" r="6.0"/><circle cx="484.2" cy="253.5" r="6.0"/><circle cx="402.0" cy="316.2" r="6.0"/><circle cx="388.1" cy="246.8" r="6.0"/><circle cx="465.5" cy="322.8" r="6.0"/><circle cx="408.7" cy="172.8" r="6.0"/><circle cx="440.0" cy="341.5" r="6.0"/><circle cx="417.2" cy="328.2" r="6.0"/><circle cx="425.5" cy="202.1" r="6.0"/><circle cx="388.4" cy="272.0" r="6.0"/><circle cx="444.0" cy="193.3" r="6.0"/><circle cx="416.8" cy="177.4" r="6.0"/><circle cx="399.0" cy="201.0" r="6.0"/><circle cx="441.7" cy="283.5" r="6.0"/><circle cx="412.3" cy="289.1" r="6.0"/><circle cx="397.0" cy="212.9" r="6.0"/><circle cx="399.0" cy="313.4" r="6.0"/><circle cx="436.2" cy="161.2" r="6.0"/><circle cx="387.9" cy="230.2" r="6.0"/><circle cx="436.4" cy="280.9" r="6.0"/><circle cx="452.1" cy="233.2" r="6.0"/><circle cx="407.6" cy="212.0" r="6.0"/><circle cx="479.9" cy="213.0" r="6.0"/><circle cx="438.2" cy="222.3" r="6.0"/><circle cx="422.0" cy="327.8" r="6.0"/><circle cx="398.3" cy="299.4" r="6.0"/><circle cx="474.4" cy="236.1" r="6.0"/><circle cx="465.6" cy="232.5" r="6.0"/><circle cx="472.3" cy="243.9" r="6.0"/><circle cx="436.6" cy="281.3" r="6.0"/><circle cx="444.2" cy="225.1" r="6.0"/><circle cx="431.5" cy="178.3" r="6.0"/><circle cx="407.6" cy="256.4" r="6.0"/><circle cx="430.0" cy="315.4" r="6.0"/><circle cx="482.4" cy="248.4" r="6.0"/><circle cx="418.9" cy="336.1" r="6.0"/><circle cx="444.0" cy="319.5" r="6.0"/><circle cx="394.3" cy="311.5" r="6.0"/><circle cx="401.0" cy="232.1" r="6.0"/><circle cx="468.4" cy="320.5" r="6.0"/><circle cx="396.8" cy="193.4" r="6.0"/><circle cx="420.2" cy="255.7" r="6.0"/><circle cx="418.4" cy="173.6" r="6.0"/><circle cx="403.7" cy="298.8" r="6.0"/><circle cx="437.7" cy="305.6" r="6.0"/><circle cx="389.7" cy="272.7" r="6.0"/><circle cx="436.4" cy="278.4" r="6.0"/><circle cx="410.1" cy="235.4" r="6.0"/><circle cx="439.9" cy="236.6" r="6.0"/><circle cx="448.2" cy="240.9" r="6.0"/><circle cx="424.3" cy="152.9" r="6.0"/><circle cx="443.8" cy="249.8" r="6.0"/><circle cx="402.4" cy="306.8" r="6.0"/><circle cx="461.2" cy="243.3" r="6.0"/><circle cx="396.4" cy="246.4" r="6.0"/><circle cx="423.5" cy="167.1" r="6.0"/><circle cx="424.7" cy="254.1" r="6.0"/><circle cx="381.4" cy="280.4" r="6.0"/><circle cx="385.9" cy="300.6" r="6.0"/><circle cx="342.1" cy="159.9" r="6.0"/><circle cx="338.9" cy="273.4" r="6.0"/><circle cx="348.5" cy="280.3" r="6.0"/><circle cx="342.6" cy="288.2" r="6.0"/><circle cx="406.1" cy="58.8" r="6.0"/><circle cx="417.0" cy="70.6" r="6.0"/><circle cx="417.6" cy="74.6" r="6.0"/><circle cx="433.6" cy="75.8" r="6.0"/><circle cx="458.5" cy="73.2" r="6.0"/><circle cx="492.9" cy="69.7" r="6.0"/><circle cx="374.7" cy="100.7" r="6.0"/><circle cx="395.5" cy="117.7" r="6.0"/><circle cx="398.8" cy="120.7" r="6.0"/><circle cx="440.9" cy="115.9" r="6.0"/><circle cx="472.8" cy="115.9" r="6.0"/><circle cx="354.3" cy="126.4" r="6.0"/><circle cx="393.1" cy="142.2" r="6.0"/><circle cx="423.1" cy="136.5" r="6.0"/><circle cx="423.9" cy="139.4" r="6.0"/><circle cx="410.3" cy="142.4" r="6.0"/><circle cx="406.3" cy="146.2" r="6.0"/><circle cx="401.8" cy="148.7" r="6.0"/><circle cx="398.4" cy="152.7" r="6.0"/><circle cx="441.5" cy="137.5" r="6.0"/><circle cx="445.3" cy="136.3" r="6.0"/><circle cx="453.8" cy="138.3" r="6.0"/><circle cx="457.3" cy="145.4" r="6.0"/><circle cx="438.6" cy="151.1" r="6.0"/><circle cx="365.4" cy="146.4" r="6.0"/><circle cx="413.7" cy="155.7" r="6.0"/><circle cx="424.1" cy="156.6" r="6.0"/><circle cx="429.1" cy="156.2" r="6.0"/><circle cx="447.9" cy="157.2" r="6.0"/><circle cx="453.8" cy="159.6" r="6.0"/><circle cx="353.0" cy="155.7" r="6.0"/><circle cx="490.8" cy="166.2" r="6.0"/><circle cx="497.9" cy="184.0" r="6.0"/><circle cx="468.6" cy="172.7" r="6.0"/><circle cx="472.6" cy="175.7" r="6.0"/><circle cx="476.5" cy="185.6" r="6.0"/><circle cx="477.5" cy="189.5" r="6.0"/><circle cx="476.5" cy="199.4" r="6.0"/><circle cx="484.4" cy="206.9" r="6.0"/><circle cx="497.9" cy="214.3" r="6.0"/><circle cx="491.9" cy="221.6" r="6.0"/><circle cx="497.3" cy="228.7" r="6.0"/><circle cx="525.6" cy="230.5" r="6.0"/><circle cx="535.8" cy="233.0" r="6.0"/><circle cx="529.9" cy="239.0" r="6.0"/><circle cx="509.7" cy="259.3" r="6.0"/><circle cx="488.4" cy="240.5" r="6.0"/><circle cx="495.3" cy="240.9" r="6.0"/><circle cx="479.5" cy="217.2" r="6.0"/><circle cx="472.6" cy="224.1" r="6.0"/><circle cx="464.7" cy="224.1" r="6.0"/><circle cx="427.1" cy="155.9" r="6.0"/><circle cx="464.7" cy="168.8" r="6.0"/><circle cx="389.5" cy="166.8" r="6.0"/><circle cx="401.4" cy="168.8" r="6.0"/><circle cx="431.1" cy="165.8" r="6.0"/><circle cx="418.2" cy="162.9" r="6.0"/><circle cx="370.8" cy="169.8" r="6.0"/><circle cx="363.8" cy="176.7" r="6.0"/><circle cx="381.6" cy="176.7" r="6.0"/><circle cx="360.9" cy="187.6" r="6.0"/><circle cx="352.0" cy="197.4" r="6.0"/><circle cx="382.6" cy="191.5" r="6.0"/><circle cx="378.7" cy="204.4" r="6.0"/><circle cx="370.8" cy="212.3" r="6.0"/><circle cx="354.0" cy="218.2" r="6.0"/><circle cx="358.9" cy="222.2" r="6.0"/><circle cx="371.7" cy="228.1" r="6.0"/><circle cx="363.8" cy="233.0" r="6.0"/><circle cx="358.9" cy="247.9" r="6.0"/><circle cx="372.7" cy="246.9" r="6.0"/><circle cx="350.0" cy="242.9" r="6.0"/><circle cx="360.9" cy="266.6" r="6.0"/><circle cx="369.8" cy="256.8" r="6.0"/><circle cx="521.4" cy="289.1" r="6.0"/><circle cx="494.3" cy="309.4" r="6.0"/><circle cx="468.6" cy="304.5" r="6.0"/><circle cx="472.6" cy="305.5" r="6.0"/><circle cx="480.5" cy="319.3" r="6.0"/><circle cx="494.3" cy="324.3" r="6.0"/><circle cx="497.3" cy="332.2" r="6.0"/><circle cx="491.4" cy="342.6" r="6.0"/><circle cx="476.5" cy="330.2" r="6.0"/><circle cx="486.4" cy="328.2" r="6.0"/><circle cx="466.6" cy="319.3" r="6.0"/><circle cx="485.4" cy="372.7" r="6.0"/><circle cx="459.7" cy="277.8" r="6.0"/><circle cx="465.7" cy="274.8" r="6.0"/><circle cx="482.5" cy="272.9" r="6.0"/><circle cx="488.4" cy="265.9" r="6.0"/><circle cx="458.3" cy="343.0" r="6.0"/><circle cx="448.8" cy="331.2" r="6.0"/><circle cx="452.8" cy="358.8" r="6.0"/><circle cx="457.7" cy="362.8" r="6.0"/><circle cx="440.9" cy="367.7" r="6.0"/><circle cx="454.8" cy="374.7" r="6.0"/><circle cx="464.7" cy="380.0" r="6.0"/><circle cx="395.9" cy="357.5" r="6.0"/><circle cx="412.7" cy="364.4" r="6.0"/><circle cx="423.1" cy="370.3" r="6.0"/><circle cx="414.3" cy="376.6" r="6.0"/><circle cx="433.0" cy="378.6" r="6.0"/><circle cx="391.5" cy="342.0" r="6.0"/><circle cx="429.1" cy="358.8" r="6.0"/><circle cx="437.0" cy="352.9" r="6.0"/><circle cx="359.9" cy="338.1" r="6.0"/><circle cx="369.8" cy="348.0" r="6.0"/><circle cx="360.9" cy="360.8" r="6.0"/><circle cx="369.8" cy="365.8" r="6.0"/><circle cx="357.9" cy="374.7" r="6.0"/><circle cx="361.9" cy="316.3" r="6.0"/><circle cx="374.7" cy="309.4" r="6.0"/><circle cx="370.8" cy="296.6" r="6.0"/><circle cx="377.7" cy="289.7" r="6.0"/><circle cx="360.9" cy="268.9" r="6.0"/><circle cx="367.8" cy="273.8" r="6.0"/><circle cx="414.3" cy="390.0" r="6.0"/><circle cx="433.0" cy="381.7" r="6.0"/><circle cx="438.0" cy="378.8" r="6.0"/><circle cx="456.8" cy="373.8" r="6.0"/><circle cx="451.8" cy="379.4" r="6.0"/><circle cx="462.3" cy="381.4" r="6.0"/><circle cx="489.4" cy="389.1" r="6.0"/><circle cx="470.6" cy="393.6" r="6.0"/><circle cx="396.1" cy="404.1" r="6.0"/><circle cx="431.6" cy="406.1" r="6.0"/><circle cx="392.9" cy="429.6" r="6.0"/><circle cx="402.8" cy="426.2" r="6.0"/><circle cx="419.6" cy="430.6" r="6.0"/><circle cx="414.6" cy="445.4" r="6.0"/><circle cx="459.7" cy="439.1" r="6.0"/><circle cx="360.9" cy="363.0" r="6.0"/>
</g></g>
<g clip-path="url(#c2)"><g fill="#1f77b4">
<circle cx="919.1" cy="294.7" r="6.0"/><circle cx="791.9" cy="260.2" r="6.0"/><circle cx="909.8" cy="257.4" r="6.0"/><circle cx="794.3" cy="286.4" r="6.0"/><circle cx="905.6" cy="339.1" r="6.0"/><circle cx="816.1" cy="303.5" r="6.0"/><circle cx="826.2" cy="306.0" r="6.0"/><circle cx="910.4" cy="279.7" r="6.0"/><circle cx="873.4" cy="366.9" r="6.0"/><circle cx="938.1" cy="268.4" r="6.0"/><circle cx="912.5" cy="262.2" r="6.0"/><circle cx="816.1" cy="302.3" r="6.0"/><circle cx="924.2" cy="310.7" r="6.0"/><circle cx="814.2" cy="299.3" r="6.0"/><circle cx="915.4" cy="255.9" r="6.0"/><circle cx="823.4" cy="275.4" r="6.0"/><circle cx="770.1" cy="253.4" r="6.0"/><circle cx="837.2" cy="315.3" r="6.0"/><circle cx="834.8" cy="317.6" r="6.0"/><circle cx="813.9" cy="249.1" r="6.0"/><circle cx="887.5" cy="289.0" r="6.0"/><circle cx="852.4" cy="294.2" r="6.0"/><circle cx="809.8" cy="253.5" r="6.0"/><circle cx="814.9" cy="284.3" r="6.0"/><circle cx="780.1" cy="250.7" r="6.0"/><circle cx="850.3" cy="249.4" r="6.0"/><circle cx="926.8" cy="292.0" r="6.0"/><circle cx="843.2" cy="312.7" r="6.0"/><circle cx="762.6" cy="259.7" r="6.0"/><circle cx="908.8" cy="316.6" r="6.0"/><circle cx="852.7" cy="290.0" r="6.0"/><circle cx="902.2" cy="309.9" r="6.0"/><circle cx="887.4" cy="304.7" r="6.0"/><circle cx="860.4" cy="319.4" r="6.0"/><circle cx="858.8" cy="349.4" r="6.0"/><circle cx="922.8" cy="253.5" r="6.0"/><circle cx="902.4" cy="324.0" r="6.0"/><circle cx="872.9" cy="360.5" r="6.0"/><circle cx="851.9" cy="338.9" r="6.0"/><circle cx="898.8" cy="356.9" r="6.0"/><circle cx="907.2" cy="281.4" r="6.0"/><circle cx="898.4" cy="254.6" r="6.0"/><circle cx="822.9" cy="260.0" r="6.0"/><circle cx="779.1" cy="288.7" r="6.0"/><circle cx="836.8" cy="306.1" r="6.0"/><circle cx="841.6" cy="321.5" r="6.0"/><circle cx="801.8" cy="277.6" r="6.0"/><circle cx="846.3" cy="327.4" r="6.0"/><circle cx="874.4" cy="290.7" r="6.0"/><circle cx="761.7" cy="258.3" r="6.0"/><circle cx="919.4" cy="252.2" r="6.0"/><circle cx="803.5" cy="277.3" r="6.0"/><circle cx="808.6" cy="259.8" r="6.0"/><circle cx="895.6" cy="306.1" r="6.0"/><circle cx="901.4" cy="342.9" r="6.0"/><circle cx="855.8" cy="280.9" r="6.0"/><circle cx="858.8" cy="329.8" r="6.0"/><circle cx="820.3" cy="326.9" r="6.0"/><circle cx="798.6" cy="275.3" r="6.0"/><circle cx="866.8" cy="256.3" r="6.0"/><circle cx="898.5" cy="351.5" r="6.0"/><circle cx="918.9" cy="252.4" r="6.0"/><circle cx="887.7" cy="330.1" r="6.0"/><circle cx="891.2" cy="292.9" r="6.0"/><circle cx="880.8" cy="255.5" r="6.0"/><circle cx="912.1" cy="304.8" r="6.0"/><circle cx="797.4" cy="303.4" r="6.0"/><circle cx="888.7" cy="315.5" r="6.0"/><circle cx="778.9" cy="247.5" r="6.0"/><circle cx="834.4" cy="277.6" r="6.0"/><circle cx="801.5" cy="274.7" r="6.0"/><circle cx="837.8" cy="333.9" r="6.0"/><circle cx="874.9" cy="338.5" r="6.0"/><circle cx="875.8" cy="291.3" r="6.0"/><circle cx="823.1" cy="255.9" r="6.0"/><circle cx="885.5" cy="253.8" r="6.0"/><circle cx="888.8" cy="360.9" r="6.0"/><circle cx="886.2" cy="322.8" r="6.0"/><circle cx="846.2" cy="248.8" r="6.0"/><circle cx="876.0" cy="326.8" r="6.0"/><circle cx="827.8" cy="247.6" r="6.0"/><circle cx="917.5" cy="325.1" r="6.0"/><circle cx="930.3" cy="296.6" r="6.0"/><circle cx="833.8" cy="281.3" r="6.0"/><circle cx="890.6" cy="259.2" r="6.0"/><circle cx="816.7" cy="296.4" r="6.0"/><circle cx="801.4" cy="248.8" r="6.0"/><circle cx="814.0" cy="308.1" r="6.0"/><circle cx="858.6" cy="280.3" r="6.0"/><circle cx="860.7" cy="255.2" r="6.0"/><circle cx="825.1" cy="282.6" r="6.0"/><circle cx="892.6" cy="321.4" r="6.0"/><circle cx="768.6" cy="263.3" r="6.0"/><circle cx="901.6" cy="352.0" r="6.0"/><circle cx="877.9" cy="322.6" r="6.0"/><circle cx="856.0" cy="280.6" r="6.0"/><circle cx="807.9" cy="274.3" r="6.0"/><circle cx="816.1" cy="322.9" r="6.0"/><circle cx="772.5" cy="259.4" r="6.0"/><circle cx="940.2" cy="262.9" r="6.0"/><circle cx="895.7" cy="312.9" r="6.0"/><circle cx="915.2" cy="309.0" r="6.0"/><circle cx="843.7" cy="250.5" r="6.0"/><circle cx="892.4" cy="251.9" r="6.0"/><circle cx="888.2" cy="261.6" r="6.0"/><circle cx="896.4" cy="334.7" r="6.0"/><circle cx="869.1" cy="298.7" r="6.0"/><circle cx="859.0" cy="281.5" r="6.0"/><circle cx="828.4" cy="270.8" r="6.0"/><circle cx="871.1" cy="254.8" r="6.0"/><circle cx="789.4" cy="253.2" r="6.0"/><circle cx="875.6" cy="324.8" r="6.0"/><circle cx="802.8" cy="274.6" r="6.0"/><circle cx="786.3" cy="250.6" r="6.0"/><circle cx="852.8" cy="299.5" r="6.0"/><circle cx="860.2" cy="259.9" r="6.0"/><circle cx="925.9" cy="253.3" r="6.0"/><circle cx="892.8" cy="276.1" r="6.0"/><circle cx="889.9" cy="351.1" r="6.0"/><circle cx="897.6" cy="277.6" r="6.0"/><circle cx="861.9" cy="253.4" r="6.0"/><circle cx="770.9" cy="283.9" r="6.0"/><circle cx="825.9" cy="257.3" r="6.0"/><circle cx="826.4" cy="272.5" r="6.0"/><circle cx="841.2" cy="324.0" r="6.0"/><circle cx="884.3" cy="259.1" r="6.0"/><circle cx="860.6" cy="254.0" r="6.0"/><circle cx="804.9" cy="296.2" r="6.0"/><circle cx="910.1" cy="247.5" r="6.0"/><circle cx="864.4" cy="314.1" r="6.0"/><circle cx="895.2" cy="365.5" r="6.0"/><circle cx="891.3" cy="274.9" r="6.0"/><circle cx="796.2" cy="307.2" r="6.0"/><circle cx="812.0" cy="316.2" r="6.0"/><circle cx="838.0" cy="253.2" r="6.0"/><circle cx="938.8" cy="273.1" r="6.0"/><circle cx="874.4" cy="306.6" r="6.0"/><circle cx="784.3" cy="263.7" r="6.0"/><circle cx="872.0" cy="327.4" r="6.0"/><circle cx="784.3" cy="285.0" r="6.0"/><circle cx="888.9" cy="348.1" r="6.0"/><circle cx="912.7" cy="274.0" r="6.0"/><circle cx="824.3" cy="254.0" r="6.0"/><circle cx="904.8" cy="306.2" r="6.0"/><circle cx="921.9" cy="304.2" r="6.0"/><circle cx="842.7" cy="253.9" r="6.0"/><circle cx="909.5" cy="318.2" r="6.0"/><circle cx="836.3" cy="265.1" r="6.0"/><circle cx="846.0" cy="254.9" r="6.0"/><circle cx="781.0" cy="256.9" r="6.0"/><circle cx="839.6" cy="264.2" r="6.0"/><circle cx="916.8" cy="323.2" r="6.0"/><circle cx="788.7" cy="281.5" r="6.0"/><circle cx="919.2" cy="320.1" r="6.0"/><circle cx="882.1" cy="326.1" r="6.0"/><circle cx="767.2" cy="272.0" r="6.0"/><circle cx="807.8" cy="252.8" r="6.0"/><circle cx="865.3" cy="298.1" r="6.0"/><circle cx="936.7" cy="272.8" r="6.0"/><circle cx="797.3" cy="249.0" r="6.0"/><circle cx="925.3" cy="266.2" r="6.0"/><circle cx="811.8" cy="322.8" r="6.0"/><circle cx="888.2" cy="358.5" r="6.0"/><circle cx="869.8" cy="279.2" r="6.0"/><circle cx="882.2" cy="285.8" r="6.0"/><circle cx="779.8" cy="252.0" r="6.0"/><circle cx="875.2" cy="277.2" r="6.0"/><circle cx="810.4" cy="292.4" r="6.0"/><circle cx="873.9" cy="363.9" r="6.0"/><circle cx="877.5" cy="319.8" r="6.0"/><circle cx="820.2" cy="294.4" r="6.0"/><circle cx="867.4" cy="277.9" r="6.0"/><circle cx="881.3" cy="355.0" r="6.0"/><circle cx="896.3" cy="275.1" r="6.0"/><circle cx="863.0" cy="311.7" r="6.0"/><circle cx="874.3" cy="316.1" r="6.0"/><circle cx="888.2" cy="316.7" r="6.0"/><circle cx="864.1" cy="276.5" r="6.0"/><circle cx="814.3" cy="318.8" r="6.0"/><circle cx="857.5" cy="303.8" r="6.0"/><circle cx="774.4" cy="275.5" r="6.0"/><circle cx="811.5" cy="272.4" r="6.0"/><circle cx="795.1" cy="257.0" r="6.0"/><circle cx="858.5" cy="268.5" r="6.0"/><circle cx="881.4" cy="322.0" r="6.0"/><circle cx="877.9" cy="307.1" r="6.0"/><circle cx="875.6" cy="284.0" r="6.0"/><circle cx="847.1" cy="333.1" r="6.0"/><circle cx="876.3" cy="315.6" r="6.0"/><circle cx="905.5" cy="283.1" r="6.0"/><circle cx="829.5" cy="301.1" r="6.0"/><circle cx="899.0" cy="336.9" r="6.0"/><circle cx="831.8" cy="257.9" r="6.0"/><circle cx="896.0" cy="324.0" r="6.0"/><circle cx="908.3" cy="301.5" r="6.0"/><circle cx="900.5" cy="322.5" r="6.0"/><circle cx="879.8" cy="315.5" r="6.0"/><circle cx="886.1" cy="317.0" r="6.0"/><circle cx="893.1" cy="300.5" r="6.0"/><circle cx="826.8" cy="267.7" r="6.0"/><circle cx="928.6" cy="269.2" r="6.0"/><circle cx="894.8" cy="268.3" r="6.0"/><circle cx="880.4" cy="304.5" r="6.0"/><circle cx="789.4" cy="291.5" r="6.0"/><circle cx="848.5" cy="316.1" r="6.0"/><circle cx="910.1" cy="321.9" r="6.0"/><circle cx="873.0" cy="280.9" r="6.0"/><circle cx="863.1" cy="355.4" r="6.0"/><circle cx="851.6" cy="283.0" r="6.0"/><circle cx="788.6" cy="276.0" r="6.0"/><circle cx="842.0" cy="299.7" r="6.0"/><circle cx="873.5" cy="280.8" r="6.0"/><circle cx="877.0" cy="306.2" r="6.0"/><circle cx="862.9" cy="288.9" r="6.0"/><circle cx="841.9" cy="332.5" r="6.0"/><circle cx="842.2" cy="297.1" r="6.0"/><circle cx="868.9" cy="312.4" r="6.0"/><circle cx="863.2" cy="317.1" r="6.0"/><circle cx="761.0" cy="253.6" r="6.0"/><circle cx="915.1" cy="281.4" r="6.0"/><circle cx="763.6" cy="269.0" r="6.0"/><circle cx="853.1" cy="352.5" r="6.0"/><circle cx="760.4" cy="253.7" r="6.0"/><circle cx="818.5" cy="308.4" r="6.0"/><circle cx="804.1" cy="293.5" r="6.0"/><circle cx="850.1" cy="260.7" r="6.0"/><circle cx="796.4" cy="308.4" r="6.0"/><circle cx="912.6" cy="281.2" r="6.0"/><circle cx="870.8" cy="258.4" r="6.0"/><circle cx="804.3" cy="270.4" r="6.0"/><circle cx="855.0" cy="333.0" r="6.0"/><circle cx="870.5" cy="340.9" r="6.0"/><circle cx="855.9" cy="269.2" r="6.0"/><circle cx="777.8" cy="251.3" r="6.0"/><circle cx="795.6" cy="279.9" r="6.0"/><circle cx="905.3" cy="302.8" r="6.0"/><circle cx="843.4" cy="314.3" r="6.0"/><circle cx="892.9" cy="351.8" r="6.0"/><circle cx="908.8" cy="278.0" r="6.0"/><circle cx="907.8" cy="260.0" r="6.0"/><circle cx="905.6" cy="308.5" r="6.0"/><circle cx="834.7" cy="262.5" r="6.0"/><circle cx="884.4" cy="362.2" r="6.0"/><circle cx="890.1" cy="286.6" r="6.0"/><circle cx="858.8" cy="291.6" r="6.0"/><circle cx="856.3" cy="265.4" r="6.0"/><circle cx="898.6" cy="278.7" r="6.0"/><circle cx="835.4" cy="278.0" r="6.0"/><circle cx="872.7" cy="300.8" r="6.0"/><circle cx="889.3" cy="300.1" r="6.0"/><circle cx="908.5" cy="315.9" r="6.0"/><circle cx="806.6" cy="284.2" r="6.0"/><circle cx="899.9" cy="266.5" r="6.0"/><circle cx="878.9" cy="261.8" r="6.0"/><circle cx="800.5" cy="262.9" r="6.0"/><circle cx="885.3" cy="252.7" r="6.0"/><circle cx="905.2" cy="255.4" r="6.0"/><circle cx="905.3" cy="276.3" r="6.0"/><circle cx="855.6" cy="347.0" r="6.0"/><circle cx="873.9" cy="312.6" r="6.0"/><circle cx="793.5" cy="255.5" r="6.0"/><circle cx="872.4" cy="304.5" r="6.0"/><circle cx="880.1" cy="317.5" r="6.0"/><circle cx="882.0" cy="298.4" r="6.0"/><circle cx="919.7" cy="313.4" r="6.0"/><circle cx="917.5" cy="310.5" r="6.0"/><circle cx="871.0" cy="258.8" r="6.0"/><circle cx="914.4" cy="275.5" r="6.0"/><circle cx="909.3" cy="310.2" r="6.0"/><circle cx="908.8" cy="296.4" r="6.0"/><circle cx="870.1" cy="281.9" r="6.0"/><circle cx="878.5" cy="283.1" r="6.0"/><circle cx="892.0" cy="296.4" r="6.0"/><circle cx="911.4" cy="333.9" r="6.0"/><circle cx="892.1" cy="298.4" r="6.0"/><circle cx="913.4" cy="283.1" r="6.0"/><circle cx="932.1" cy="295.1" r="6.0"/><circle cx="903.5" cy="306.8" r="6.0"/><circle cx="883.2" cy="248.2" r="6.0"/><circle cx="874.2" cy="301.8" r="6.0"/><circle cx="944.9" cy="262.8" r="6.0"/><circle cx="928.1" cy="279.1" r="6.0"/><circle cx="852.2" cy="281.3" r="6.0"/><circle cx="863.7" cy="305.0" r="6.0"/><circle cx="854.9" cy="290.6" r="6.0"/><circle cx="897.1" cy="341.0" r="6.0"/><circle cx="875.4" cy="323.6" r="6.0"/><circle cx="859.8" cy="276.5" r="6.0"/><circle cx="851.2" cy="313.8" r="6.0"/><circle cx="906.6" cy="329.0" r="6.0"/><circle cx="889.1" cy="354.7" r="6.0"/><circle cx="920.9" cy="312.4" r="6.0"/><circle cx="936.7" cy="267.7" r="6.0"/><circle cx="875.7" cy="310.4" r="6.0"/><circle cx="916.3" cy="252.4" r="6.0"/><circle cx="866.6" cy="334.7" r="6.0"/><circle cx="902.9" cy="276.4" r="6.0"/><circle cx="894.4" cy="300.6" r="6.0"/><circle cx="882.0" cy="313.8" r="6.0"/><circle cx="860.7" cy="276.1" r="6.0"/><circle cx="900.2" cy="331.8" r="6.0"/><circle cx="887.3" cy="350.8" r="6.0"/><circle cx="908.9" cy="322.7" r="6.0"/><circle cx="875.1" cy="350.4" r="6.0"/><circle cx="881.5" cy="344.2" r="6.0"/><circle cx="916.7" cy="267.5" r="6.0"/><circle cx="921.8" cy="264.9" r="6.0"/><circle cx="885.5" cy="290.5" r="6.0"/><circle cx="880.1" cy="288.6" r="6.0"/><circle cx="861.9" cy="293.0" r="6.0"/><circle cx="882.1" cy="328.9" r="6.0"/><circle cx="907.3" cy="254.9" r="6.0"/><circle cx="883.3" cy="284.7" r="6.0"/><circle cx="910.3" cy="247.9" r="6.0"/><circle cx="924.2" cy="255.6" r="6.0"/><circle cx="889.4" cy="302.8" r="6.0"/><circle cx="860.5" cy="323.6" r="6.0"/><circle cx="869.7" cy="318.0" r="6.0"/><circle cx="888.4" cy="356.9" r="6.0"/><circle cx="892.1" cy="278.3" r="6.0"/><circle cx="881.6" cy="274.9" r="6.0"/><circle cx="901.2" cy="324.1" r="6.0"/><circle cx="943.8" cy="256.2" r="6.0"/><circle cx="879.6" cy="330.1" r="6.0"/><circle cx="897.0" cy="326.5" r="6.0"/><circle cx="915.8" cy="257.6" r="6.0"/><circle cx="876.9" cy="268.0" r="6.0"/><circle cx="875.1" cy="260.1" r="6.0"/><circle cx="924.6" cy="265.3" r="6.0"/><circle cx="853.3" cy="263.1" r="6.0"/><circle cx="896.5" cy="281.2" r="6.0"/><circle cx="900.0" cy="290.0" r="6.0"/><circle cx="885.9" cy="342.1" r="6.0"/><circle cx="856.1" cy="296.7" r="6.0"/><circle cx="901.7" cy="264.8" r="6.0"/><circle cx="902.2" cy="331.3" r="6.0"/><circle cx="908.1" cy="301.9" r="6.0"/><circle cx="863.0" cy="320.8" r="6.0"/><circle cx="891.5" cy="325.0" r="6.0"/><circle cx="849.4" cy="280.8" r="6.0"/><circle cx="895.3" cy="279.9" r="6.0"/><circle cx="875.5" cy="292.1" r="6.0"/><circle cx="916.6" cy="259.0" r="6.0"/><circle cx="890.8" cy="317.3" r="6.0"/><circle cx="887.9" cy="322.1" r="6.0"/><circle cx="881.0" cy="322.3" r="6.0"/><circle cx="866.8" cy="303.3" r="6.0"/><circle cx="889.9" cy="307.5" r="6.0"/><circle cx="850.8" cy="274.9" r="6.0"/><circle cx="920.1" cy="266.1" r="6.0"/><circle cx="909.0" cy="331.4" r="6.0"/><circle cx="885.7" cy="292.5" r="6.0"/><circle cx="924.3" cy="249.9" r="6.0"/><circle cx="894.2" cy="278.2" r="6.0"/><circle cx="903.5" cy="331.3" r="6.0"/><circle cx="917.6" cy="256.1" r="6.0"/><circle cx="909.6" cy="303.4" r="6.0"/><circle cx="898.6" cy="294.4" r="6.0"/><circle cx="863.8" cy="269.7" r="6.0"/><circle cx="864.1" cy="305.5" r="6.0"/><circle cx="893.3" cy="266.1" r="6.0"/><circle cx="873.0" cy="268.4" r="6.0"/><circle cx="862.6" cy="251.7" r="6.0"/><circle cx="912.8" cy="323.6" r="6.0"/><circle cx="889.4" cy="299.5" r="6.0"/><circle cx="893.9" cy="332.9" r="6.0"/><circle cx="922.7" cy="282.4" r="6.0"/><circle cx="863.4" cy="338.7" r="6.0"/><circle cx="910.3" cy="320.2" r="6.0"/><circle cx="852.9" cy="289.0" r="6.0"/><circle cx="922.0" cy="259.8" r="6.0"/><circle cx="849.1" cy="294.5" r="6.0"/><circle cx="869.1" cy="256.4" r="6.0"/><circle cx="918.6" cy="270.8" r="6.0"/><circle cx="923.8" cy="248.1" r="6.0"/><circle cx="863.1" cy="283.8" r="6.0"/><circle cx="945.5" cy="251.1" r="6.0"/><circle cx="861.9" cy="331.4" r="6.0"/><circle cx="925.0" cy="277.8" r="6.0"/><circle cx="904.4" cy="256.8" r="6.0"/><circle cx="897.8" cy="359.3" r="6.0"/><circle cx="893.5" cy="298.3" r="6.0"/><circle cx="873.5" cy="350.1" r="6.0"/><circle cx="903.6" cy="330.3" r="6.0"/><circle cx="924.7" cy="266.4" r="6.0"/><circle cx="915.0" cy="297.4" r="6.0"/><circle cx="867.7" cy="278.6" r="6.0"/><circle cx="883.1" cy="331.5" r="6.0"/><circle cx="903.0" cy="283.9" r="6.0"/><circle cx="927.6" cy="254.3" r="6.0"/><circle cx="874.5" cy="300.2" r="6.0"/><circle cx="876.2" cy="341.7" r="6.0"/><circle cx="866.5" cy="248.7" r="6.0"/><circle cx="892.4" cy="252.8" r="6.0"/><circle cx="908.5" cy="309.4" r="6.0"/><circle cx="852.4" cy="311.5" r="6.0"/><circle cx="899.9" cy="282.0" r="6.0"/><circle cx="868.4" cy="264.9" r="6.0"/><circle cx="895.7" cy="289.2" r="6.0"/><circle cx="906.5" cy="324.5" r="6.0"/><circle cx="874.0" cy="316.8" r="6.0"/><circle cx="872.1" cy="332.7" r="6.0"/><circle cx="866.4" cy="315.4" r="6.0"/><circle cx="900.7" cy="351.9" r="6.0"/><circle cx="882.7" cy="277.7" r="6.0"/><circle cx="910.8" cy="261.8" r="6.0"/><circle cx="863.6" cy="257.9" r="6.0"/><circle cx="913.3" cy="291.5" r="6.0"/><circle cx="900.8" cy="286.2" r="6.0"/><circle cx="878.7" cy="253.0" r="6.0"/><circle cx="876.3" cy="247.9" r="6.0"/><circle cx="926.3" cy="299.1" r="6.0"/><circle cx="946.7" cy="256.3" r="6.0"/><circle cx="894.7" cy="321.4" r="6.0"/><circle cx="880.5" cy="325.0" r="6.0"/><circle cx="890.1" cy="251.9" r="6.0"/><circle cx="919.5" cy="252.8" r="6.0"/><circle cx="935.5" cy="278.9" r="6.0"/><circle cx="935.9" cy="287.0" r="6.0"/><circle cx="921.8" cy="257.8" r="6.0"/><circle cx="894.3" cy="252.1" r="6.0"/><circle cx="913.1" cy="265.2" r="6.0"/><circle cx="947.0" cy="250.1" r="6.0"/><circle cx="934.3" cy="254.6" r="6.0"/><circle cx="899.3" cy="284.5" r="6.0"/><circle cx="923.0" cy="272.2" r="6.0"/><circle cx="907.7" cy="255.9" r="6.0"/><circle cx="930.2" cy="270.4" r="6.0"/><circle cx="924.1" cy="298.6" r="6.0"/><circle cx="925.4" cy="259.4" r="6.0"/><circle cx="914.8" cy="247.9" r="6.0"/><circle cx="918.4" cy="251.4" r="6.0"/><circle cx="894.0" cy="279.0" r="6.0"/><circle cx="920.0" cy="260.4" r="6.0"/><circle cx="922.9" cy="266.6" r="6.0"/><circle cx="930.7" cy="250.3" r="6.0"/><circle cx="939.7" cy="275.3" r="6.0"/><circle cx="896.2" cy="265.3" r="6.0"/><circle cx="925.8" cy="253.0" r="6.0"/><circle cx="944.3" cy="260.9" r="6.0"/><circle cx="911.7" cy="251.6" r="6.0"/><circle cx="897.1" cy="258.2" r="6.0"/><circle cx="920.5" cy="287.3" r="6.0"/><circle cx="894.3" cy="260.8" r="6.0"/><circle cx="924.3" cy="262.1" r="6.0"/><circle cx="940.6" cy="260.4" r="6.0"/><circle cx="905.1" cy="284.8" r="6.0"/><circle cx="925.0" cy="286.4" r="6.0"/><circle cx="920.9" cy="261.7" r="6.0"/><circle cx="900.5" cy="252.3" r="6.0"/><circle cx="947.3" cy="256.2" r="6.0"/><circle cx="908.5" cy="266.5" r="6.0"/><circle cx="889.4" cy="262.3" r="6.0"/><circle cx="916.3" cy="261.6" r="6.0"/><circle cx="917.5" cy="297.5" r="6.0"/><circle cx="908.0" cy="294.4" r="6.0"/><circle cx="935.6" cy="269.2" r="6.0"/><circle cx="933.1" cy="269.1" r="6.0"/><circle cx="896.3" cy="273.4" r="6.0"/><circle cx="901.4" cy="278.3" r="6.0"/><circle cx="930.0" cy="293.7" r="6.0"/><circle cx="923.6" cy="288.6" r="6.0"/><circle cx="920.7" cy="280.6" r="6.0"/><circle cx="946.2" cy="265.9" r="6.0"/><circle cx="897.4" cy="278.6" r="6.0"/><circle cx="683.9" cy="254.6" r="6.0"/><circle cx="709.9" cy="261.3" r="6.0"/><circle cx="724.7" cy="262.6" r="6.0"/><circle cx="754.6" cy="265.0" r="6.0"/><circle cx="699.0" cy="280.6" r="6.0"/><circle cx="727.2" cy="275.7" r="6.0"/><circle cx="740.3" cy="288.0" r="6.0"/><circle cx="723.4" cy="294.7" r="6.0"/><circle cx="731.6" cy="299.6" r="6.0"/><circle cx="736.5" cy="307.0" r="6.0"/><circle cx="710.6" cy="305.8" r="6.0"/><circle cx="757.5" cy="247.7" r="6.0"/><circle cx="755.1" cy="292.2" r="6.0"/><circle cx="762.5" cy="282.3" r="6.0"/><circle cx="769.9" cy="281.1" r="6.0"/><circle cx="765.0" cy="298.4" r="6.0"/><circle cx="768.7" cy="303.3" r="6.0"/><circle cx="779.8" cy="281.1" r="6.0"/><circle cx="789.7" cy="274.9" r="6.0"/><circle cx="738.3" cy="324.7" r="6.0"/><circle cx="716.8" cy="342.0" r="6.0"/><circle cx="723.4" cy="354.9" r="6.0"/><circle cx="729.1" cy="357.3" r="6.0"/><circle cx="737.8" cy="353.9" r="6.0"/><circle cx="765.5" cy="348.9" r="6.0"/><circle cx="773.6" cy="350.2" r="6.0"/><circle cx="790.9" cy="349.4" r="6.0"/><circle cx="786.0" cy="354.9" r="6.0"/><circle cx="773.6" cy="366.7" r="6.0"/><circle cx="761.7" cy="373.6" r="6.0"/><circle cx="749.4" cy="384.5" r="6.0"/><circle cx="737.8" cy="390.2" r="6.0"/><circle cx="759.3" cy="390.7" r="6.0"/><circle cx="778.6" cy="331.4" r="6.0"/><circle cx="794.6" cy="340.8" r="6.0"/><circle cx="809.4" cy="329.7" r="6.0"/><circle cx="789.7" cy="327.2" r="6.0"/><circle cx="820.6" cy="350.7" r="6.0"/><circle cx="825.5" cy="356.8" r="6.0"/><circle cx="827.2" cy="361.8" r="6.0"/><circle cx="845.3" cy="376.1" r="6.0"/><circle cx="836.1" cy="388.2" r="6.0"/><circle cx="831.7" cy="393.9" r="6.0"/><circle cx="840.3" cy="399.6" r="6.0"/><circle cx="788.4" cy="404.5" r="6.0"/><circle cx="794.1" cy="406.3" r="6.0"/><circle cx="814.4" cy="408.7" r="6.0"/><circle cx="834.9" cy="412.4" r="6.0"/><circle cx="849.7" cy="410.5" r="6.0"/><circle cx="854.4" cy="408.7" r="6.0"/><circle cx="868.8" cy="384.0" r="6.0"/><circle cx="874.9" cy="379.1" r="6.0"/><circle cx="852.7" cy="353.1" r="6.0"/><circle cx="851.5" cy="361.8" r="6.0"/><circle cx="861.3" cy="363.0" r="6.0"/><circle cx="826.7" cy="334.6" r="6.0"/><circle cx="831.7" cy="338.3" r="6.0"/><circle cx="842.8" cy="347.0" r="6.0"/><circle cx="846.5" cy="337.1" r="6.0"/><circle cx="867.5" cy="351.9" r="6.0"/><circle cx="868.8" cy="370.4" r="6.0"/><circle cx="877.4" cy="366.7" r="6.0"/><circle cx="888.5" cy="365.5" r="6.0"/><circle cx="881.1" cy="356.8" r="6.0"/><circle cx="784.7" cy="319.8" r="6.0"/><circle cx="786.0" cy="307.4" r="6.0"/><circle cx="799.6" cy="314.8" r="6.0"/><circle cx="794.6" cy="307.4" r="6.0"/><circle cx="772.6" cy="458.6" r="6.0"/>
</g>
<g fill="#ff7f0e">
<circle cx="956.0" cy="353.1" r="6.0"/><circle cx="935.2" cy="340.2" r="6.0"/><circle cx="973.0" cy="348.5" r="6.0"/><circle cx="987.8" cy="271.1" r="6.0"/><circle cx="911.6" cy="339.8" r="6.0"/><circle cx="1016.9" cy="339.3" r="6.0"/><circle cx="995.1" cy="324.9" r="6.0"/><circle cx="980.8" cy="366.6" r="6.0"/><circle cx="1027.8" cy="365.5" r="6.0"/><circle cx="935.9" cy="287.6" r="6.0"/><circle cx="938.7" cy="322.0" r="6.0"/><circle cx="1011.6" cy="377.5" r="6.0"/><circle cx="1088.1" cy="295.6" r="6.0"/><circle cx="1017.1" cy="358.4" r="6.0"/><circle cx="952.3" cy="297.7" r="6.0"/><circle cx="1019.5" cy="356.6" r="6.0"/><circle cx="949.6" cy="269.7" r="6.0"/><circle cx="1008.3" cy="299.9" r="6.0"/><circle cx="1031.5" cy="366.8" r="6.0"/><circle cx="917.9" cy="325.9" r="6.0"/><circle cx="1091.0" cy="305.1" r="6.0"/><circle cx="1001.0" cy="366.3" r="6.0"/><circle cx="897.8" cy="374.7" r="6.0"/><circle cx="962.3" cy="322.9" r="6.0"/><circle cx="909.6" cy="343.1" r="6.0"/><circle cx="931.1" cy="318.6" r="6.0"/><circle cx="1052.4" cy="332.7" r="6.0"/><circle cx="933.3" cy="335.6" r="6.0"/><circle cx="976.7" cy="301.3" r="6.0"/><circle cx="1023.4" cy="385.7" r="6.0"/><circle cx="1021.1" cy="381.0" r="6.0"/><circle cx="918.6" cy="339.8" r="6.0"/><circle cx="966.7" cy="371.2" r="6.0"/><circle cx="1013.9" cy="339.5" r="6.0"/><circle cx="920.7" cy="315.5" r="6.0"/><circle cx="938.3" cy="351.0" r="6.0"/><circle cx="947.2" cy="326.7" r="6.0"/><circle cx="904.5" cy="361.0" r="6.0"/><circle cx="1018.4" cy="273.5" r="6.0"/><circle cx="1000.1" cy="268.7" r="6.0"/><circle cx="949.9" cy="317.2" r="6.0"/><circle cx="1003.0" cy="344.9" r="6.0"/><circle cx="1080.2" cy="301.6" r="6.0"/><circle cx="963.7" cy="284.5" r="6.0"/><circle cx="1042.0" cy="305.9" r="6.0"/><circle cx="935.8" cy="282.1" r="6.0"/><circle cx="978.0" cy="369.8" r="6.0"/><circle cx="981.5" cy="366.7" r="6.0"/><circle cx="988.2" cy="335.1" r="6.0"/><circle cx="944.6" cy="311.7" r="6.0"/><circle cx="984.7" cy="290.4" r="6.0"/><circle cx="951.7" cy="302.0" r="6.0"/><circle cx="933.0" cy="334.4" r="6.0"/><circle cx="946.3" cy="280.6" r="6.0"/><circle cx="930.9" cy="298.6" r="6.0"/><circle cx="995.7" cy="369.4" r="6.0"/><circle cx="961.0" cy="314.3" r="6.0"/><circle cx="918.8" cy="374.8" r="6.0"/><circle cx="935.5" cy="299.3" r="6.0"/><circle cx="928.3" cy="371.4" r="6.0"/><circle cx="937.5" cy="289.5" r="6.0"/><circle cx="1041.8" cy="304.3" r="6.0"/><circle cx="1021.4" cy="286.9" r="6.0"/><circle cx="991.3" cy="373.3" r="6.0"/><circle cx="941.9" cy="389.9" r="6.0"/><circle cx="935.0" cy="386.4" r="6.0"/><circle cx="1082.2" cy="296.5" r="6.0"/><circle cx="1048.9" cy="329.4" r="6.0"/><circle cx="991.6" cy="327.6" r="6.0"/><circle cx="972.7" cy="371.9" r="6.0"/><circle cx="928.4" cy="303.5" r="6.0"/><circle cx="957.8" cy="262.4" r="6.0"/><circle cx="989.8" cy="264.4" r="6.0"/><circle cx="946.1" cy="361.1" r="6.0"/><circle cx="952.3" cy="268.9" r="6.0"/><circle cx="979.3" cy="334.6" r="6.0"/><circle cx="1005.4" cy="357.3" r="6.0"/><circle cx="975.2" cy="390.8" r="6.0"/><circle cx="944.7" cy="358.0" r="6.0"/><circle cx="909.0" cy="380.5" r="6.0"/><circle cx="1003.1" cy="279.5" r="6.0"/><circle cx="919.2" cy="376.0" r="6.0"/><circle cx="1086.7" cy="304.4" r="6.0"/><circle cx="1007.5" cy="308.7" r="6.0"/><circle cx="956.2" cy="367.0" r="6.0"/><circle cx="1035.5" cy="285.6" r="6.0"/><circle cx="897.2" cy="377.5" r="6.0"/><circle cx="960.2" cy="315.6" r="6.0"/><circle cx="1039.0" cy="352.2" r="6.0"/><circle cx="986.5" cy="385.6" r="6.0"/><circle cx="1020.6" cy="376.2" r="6.0"/><circle cx="932.2" cy="311.5" r="6.0"/><circle cx="952.0" cy="323.8" r="6.0"/><circle cx="975.3" cy="322.5" r="6.0"/><circle cx="914.3" cy="378.6" r="6.0"/><circle cx="968.3" cy="289.1" r="6.0"/><circle cx="961.0" cy="385.0" r="6.0"/><circle cx="1021.1" cy="314.5" r="6.0"/><circle cx="1032.0" cy="339.2" r="6.0"/><circle cx="993.0" cy="324.8" r="6.0"/><circle cx="975.9" cy="379.3" r="6.0"/><circle cx="1053.4" cy="298.9" r="6.0"/><circle cx="960.0" cy="314.8" r="6.0"/><circle cx="952.8" cy="359.3" r="6.0"/><circle cx="912.3" cy="331.6" r="6.0"/><circle cx="1037.3" cy="302.7" r="6.0"/><circle cx="1040.3" cy="304.3" r="6.0"/><circle cx="957.1" cy="332.3" r="6.0"/><circle cx="1016.5" cy="319.1" r="6.0"/><circle cx="1067.8" cy="293.0" r="6.0"/><circle cx="935.1" cy="340.4" r="6.0"/><circle cx="939.9" cy="269.9" r="6.0"/><circle cx="908.0" cy="341.0" r="6.0"/><circle cx="1012.1" cy="375.0" r="6.0"/><circle cx="1064.4" cy="292.5" r="6.0"/><circle cx="970.0" cy="388.4" r="6.0"/><circle cx="1020.3" cy="302.6" r="6.0"/><circle cx="939.6" cy="341.9" r="6.0"/><circle cx="1025.4" cy="341.6" r="6.0"/><circle cx="967.7" cy="380.3" r="6.0"/><circle cx="987.5" cy="364.7" r="6.0"/><circle cx="930.0" cy="304.2" r="6.0"/><circle cx="1054.4" cy="295.9" r="6.0"/><circle cx="1040.5" cy="337.5" r="6.0"/><circle cx="965.8" cy="389.9" r="6.0"/><circle cx="968.8" cy="293.9" r="6.0"/><circle cx="1033.6" cy="321.8" r="6.0"/><circle cx="1018.9" cy="309.0" r="6.0"/><circle cx="948.5" cy="295.6" r="6.0"/><circle cx="938.9" cy="350.4" r="6.0"/><circle cx="1042.8" cy="284.1" r="6.0"/><circle cx="962.8" cy="320.6" r="6.0"/><circle cx="917.6" cy="385.2" r="6.0"/><circle cx="923.1" cy="344.3" r="6.0"/><circle cx="1063.6" cy="299.2" r="6.0"/><circle cx="1047.0" cy="363.0" r="6.0"/><circle cx="1034.8" cy="313.5" r="6.0"/><circle cx="1008.8" cy="382.4" r="6.0"/><circle cx="983.4" cy="374.5" r="6.0"/><circle cx="1036.2" cy="321.6" r="6.0"/><circle cx="938.3" cy="351.4" r="6.0"/><circle cx="1082.3" cy="314.7" r="6.0"/><circle cx="957.6" cy="297.3" r="6.0"/><circle cx="937.0" cy="345.5" r="6.0"/><circle cx="950.9" cy="310.6" r="6.0"/><circle cx="1000.1" cy="356.6" r="6.0"/><circle cx="1058.3" cy="326.8" r="6.0"/><circle cx="1030.2" cy="372.1" r="6.0"/><circle cx="1057.8" cy="281.8" r="6.0"/><circle cx="1025.9" cy="340.7" r="6.0"/><circle cx="925.3" cy="379.5" r="6.0"/><circle cx="936.5" cy="369.3" r="6.0"/><circle cx="1034.6" cy="330.8" r="6.0"/><circle cx="1077.9" cy="316.4" r="6.0"/><circle cx="976.2" cy="287.7" r="6.0"/><circle cx="1064.0" cy="299.5" r="6.0"/><circle cx="957.9" cy="336.4" r="6.0"/><circle cx="976.6" cy="264.9" r="6.0"/><circle cx="1062.5" cy="323.1" r="6.0"/><circle cx="971.1" cy="371.1" r="6.0"/><circle cx="1066.5" cy="288.6" r="6.0"/><circle cx="1042.9" cy="304.6" r="6.0"/><circle cx="1047.8" cy="345.7" r="6.0"/><circle cx="978.5" cy="318.5" r="6.0"/><circle cx="1005.2" cy="349.9" r="6.0"/><circle cx="974.2" cy="326.7" r="6.0"/><circle cx="947.9" cy="385.4" r="6.0"/><circle cx="971.2" cy="375.6" r="6.0"/><circle cx="967.5" cy="357.3" r="6.0"/><circle cx="994.4" cy="385.5" r="6.0"/><circle cx="994.3" cy="342.5" r="6.0"/><circle cx="1031.3" cy="341.7" r="6.0"/><circle cx="929.0" cy="333.3" r="6.0"/><circle cx="979.5" cy="348.5" r="6.0"/><circle cx="1049.4" cy="284.1" r="6.0"/><circle cx="967.7" cy="290.8" r="6.0"/><circle cx="1087.2" cy="322.7" r="6.0"/><circle cx="983.9" cy="387.2" r="6.0"/><circle cx="994.6" cy="273.2" r="6.0"/><circle cx="968.2" cy="267.4" r="6.0"/><circle cx="973.8" cy="317.3" r="6.0"/><circle cx="989.9" cy="389.0" r="6.0"/><circle cx="1000.6" cy="278.6" r="6.0"/><circle cx="929.1" cy="348.4" r="6.0"/><circle cx="997.2" cy="311.7" r="6.0"/><circle cx="992.7" cy="311.7" r="6.0"/><circle cx="1029.9" cy="336.6" r="6.0"/><circle cx="943.5" cy="335.2" r="6.0"/><circle cx="986.5" cy="359.5" r="6.0"/><circle cx="1017.8" cy="325.0" r="6.0"/><circle cx="915.9" cy="355.3" r="6.0"/><circle cx="932.8" cy="307.6" r="6.0"/><circle cx="1011.0" cy="292.0" r="6.0"/><circle cx="1067.4" cy="330.3" r="6.0"/><circle cx="986.8" cy="299.9" r="6.0"/><circle cx="1009.1" cy="344.1" r="6.0"/><circle cx="1012.4" cy="383.8" r="6.0"/><circle cx="982.0" cy="306.4" r="6.0"/><circle cx="1044.5" cy="331.4" r="6.0"/><circle cx="947.3" cy="381.3" r="6.0"/><circle cx="1001.7" cy="379.8" r="6.0"/><circle cx="1016.4" cy="325.5" r="6.0"/><circle cx="951.7" cy="278.4" r="6.0"/><circle cx="982.5" cy="369.3" r="6.0"/><circle cx="1054.6" cy="329.9" r="6.0"/><circle cx="1012.4" cy="312.8" r="6.0"/><circle cx="929.0" cy="378.6" r="6.0"/><circle cx="1029.8" cy="305.0" r="6.0"/><circle cx="1043.4" cy="313.3" r="6.0"/><circle cx="1033.1" cy="324.6" r="6.0"/><circle cx="1020.4" cy="381.2" r="6.0"/><circle cx="1072.9" cy="321.3" r="6.0"/><circle cx="971.2" cy="353.2" r="6.0"/><circle cx="995.9" cy="294.0" r="6.0"/><circle cx="1023.9" cy="278.7" r="6.0"/><circle cx="953.2" cy="290.3" r="6.0"/><circle cx="949.6" cy="332.9" r="6.0"/><circle cx="1023.6" cy="359.6" r="6.0"/><circle cx="972.0" cy="314.2" r="6.0"/><circle cx="1024.6" cy="284.1" r="6.0"/><circle cx="1078.0" cy="286.5" r="6.0"/><circle cx="919.3" cy="339.9" r="6.0"/><circle cx="963.0" cy="280.4" r="6.0"/><circle cx="1015.8" cy="329.0" r="6.0"/><circle cx="1001.4" cy="325.6" r="6.0"/><circle cx="1017.6" cy="361.7" r="6.0"/><circle cx="1038.6" cy="352.0" r="6.0"/><circle cx="1060.1" cy="319.9" r="6.0"/><circle cx="1022.2" cy="271.3" r="6.0"/><circle cx="1030.5" cy="287.9" r="6.0"/><circle cx="1086.8" cy="295.3" r="6.0"/><circle cx="992.2" cy="319.7" r="6.0"/><circle cx="943.8" cy="342.2" r="6.0"/><circle cx="966.2" cy="302.7" r="6.0"/><circle cx="919.6" cy="380.7" r="6.0"/><circle cx="982.3" cy="334.7" r="6.0"/><circle cx="942.5" cy="383.3" r="6.0"/><circle cx="914.4" cy="350.9" r="6.0"/><circle cx="958.7" cy="385.3" r="6.0"/><circle cx="981.7" cy="370.1" r="6.0"/><circle cx="954.4" cy="321.4" r="6.0"/><circle cx="957.3" cy="293.8" r="6.0"/><circle cx="971.2" cy="314.2" r="6.0"/><circle cx="927.5" cy="320.2" r="6.0"/><circle cx="986.5" cy="327.1" r="6.0"/><circle cx="1011.0" cy="312.2" r="6.0"/><circle cx="931.9" cy="372.9" r="6.0"/><circle cx="962.5" cy="307.2" r="6.0"/><circle cx="931.6" cy="362.7" r="6.0"/><circle cx="945.4" cy="323.8" r="6.0"/><circle cx="991.4" cy="272.2" r="6.0"/><circle cx="964.7" cy="272.5" r="6.0"/><circle cx="981.4" cy="346.6" r="6.0"/><circle cx="999.9" cy="302.4" r="6.0"/><circle cx="958.3" cy="342.4" r="6.0"/><circle cx="1025.6" cy="317.4" r="6.0"/><circle cx="962.0" cy="343.9" r="6.0"/><circle cx="977.5" cy="270.0" r="6.0"/><circle cx="1033.8" cy="285.2" r="6.0"/><circle cx="975.0" cy="293.5" r="6.0"/><circle cx="975.8" cy="303.5" r="6.0"/><circle cx="982.5" cy="309.8" r="6.0"/><circle cx="1013.8" cy="337.6" r="6.0"/><circle cx="941.7" cy="280.6" r="6.0"/><circle cx="935.7" cy="296.5" r="6.0"/><circle cx="963.7" cy="318.5" r="6.0"/><circle cx="939.2" cy="292.6" r="6.0"/><circle cx="989.1" cy="328.8" r="6.0"/><circle cx="946.8" cy="258.1" r="6.0"/><circle cx="1010.7" cy="347.7" r="6.0"/><circle cx="953.1" cy="365.5" r="6.0"/><circle cx="985.7" cy="322.1" r="6.0"/><circle cx="1018.6" cy="294.3" r="6.0"/><circle cx="1003.4" cy="327.2" r="6.0"/><circle cx="931.7" cy="325.9" r="6.0"/><circle cx="949.5" cy="294.2" r="6.0"/><circle cx="938.2" cy="351.7" r="6.0"/><circle cx="997.3" cy="272.7" r="6.0"/><circle cx="1005.7" cy="364.9" r="6.0"/><circle cx="990.2" cy="365.2" r="6.0"/><circle cx="982.5" cy="318.7" r="6.0"/><circle cx="961.0" cy="326.3" r="6.0"/><circle cx="1011.9" cy="313.8" r="6.0"/><circle cx="976.3" cy="293.4" r="6.0"/><circle cx="945.1" cy="377.4" r="6.0"/><circle cx="978.1" cy="309.0" r="6.0"/><circle cx="989.8" cy="291.1" r="6.0"/><circle cx="1035.7" cy="315.8" r="6.0"/><circle cx="1024.3" cy="288.2" r="6.0"/><circle cx="1033.1" cy="323.7" r="6.0"/><circle cx="981.8" cy="309.9" r="6.0"/><circle cx="980.2" cy="301.1" r="6.0"/><circle cx="968.6" cy="289.5" r="6.0"/><circle cx="966.7" cy="288.7" r="6.0"/><circle cx="914.2" cy="368.2" r="6.0"/><circle cx="947.6" cy="289.7" r="6.0"/><circle cx="982.4" cy="292.2" r="6.0"/><circle cx="1008.6" cy="293.7" r="6.0"/><circle cx="908.5" cy="365.4" r="6.0"/><circle cx="1003.3" cy="288.7" r="6.0"/><circle cx="996.4" cy="300.7" r="6.0"/><circle cx="976.2" cy="290.1" r="6.0"/><circle cx="981.0" cy="336.4" r="6.0"/><circle cx="1026.9" cy="287.8" r="6.0"/><circle cx="985.5" cy="326.3" r="6.0"/><circle cx="1031.1" cy="315.5" r="6.0"/><circle cx="961.2" cy="306.3" r="6.0"/><circle cx="979.6" cy="352.4" r="6.0"/><circle cx="990.7" cy="320.3" r="6.0"/><circle cx="998.7" cy="288.5" r="6.0"/><circle cx="1008.1" cy="358.2" r="6.0"/><circle cx="1013.3" cy="269.3" r="6.0"/><circle cx="948.2" cy="370.3" r="6.0"/><circle cx="916.1" cy="364.9" r="6.0"/><circle cx="1019.5" cy="274.3" r="6.0"/><circle cx="931.4" cy="346.7" r="6.0"/><circle cx="979.4" cy="279.4" r="6.0"/><circle cx="1028.8" cy="322.4" r="6.0"/><circle cx="901.6" cy="368.3" r="6.0"/><circle cx="939.6" cy="336.7" r="6.0"/><circle cx="1014.5" cy="325.3" r="6.0"/><circle cx="1009.6" cy="271.3" r="6.0"/><circle cx="956.5" cy="371.6" r="6.0"/><circle cx="961.3" cy="274.9" r="6.0"/><circle cx="997.5" cy="299.3" r="6.0"/><circle cx="1018.5" cy="301.3" r="6.0"/><circle cx="926.7" cy="323.8" r="6.0"/><circle cx="966.8" cy="271.2" r="6.0"/><circle cx="1036.9" cy="298.4" r="6.0"/><circle cx="1002.6" cy="272.2" r="6.0"/><circle cx="999.4" cy="314.1" r="6.0"/><circle cx="971.0" cy="283.1" r="6.0"/><circle cx="922.8" cy="360.8" r="6.0"/><circle cx="990.6" cy="348.6" r="6.0"/><circle cx="1010.9" cy="305.8" r="6.0"/><circle cx="982.5" cy="293.6" r="6.0"/><circle cx="998.2" cy="309.4" r="6.0"/><circle cx="1017.6" cy="292.2" r="6.0"/><circle cx="957.2" cy="266.2" r="6.0"/><circle cx="956.9" cy="365.4" r="6.0"/><circle cx="914.2" cy="358.9" r="6.0"/><circle cx="953.7" cy="286.5" r="6.0"/><circle cx="991.6" cy="300.1" r="6.0"/><circle cx="1001.9" cy="345.2" r="6.0"/><circle cx="1015.4" cy="298.5" r="6.0"/><circle cx="977.4" cy="290.5" r="6.0"/><circle cx="961.7" cy="369.4" r="6.0"/><circle cx="937.8" cy="308.6" r="6.0"/><circle cx="1036.3" cy="312.0" r="6.0"/><circle cx="1021.9" cy="322.2" r="6.0"/><circle cx="952.5" cy="345.3" r="6.0"/><circle cx="997.9" cy="303.2" r="6.0"/><circle cx="1006.5" cy="314.7" r="6.0"/><circle cx="1000.5" cy="363.4" r="6.0"/><circle cx="961.2" cy="347.8" r="6.0"/><circle cx="1004.4" cy="318.2" r="6.0"/><circle cx="1015.5" cy="316.1" r="6.0"/><circle cx="1013.0" cy="276.4" r="6.0"/><circle cx="969.2" cy="359.5" r="6.0"/><circle cx="952.7" cy="301.0" r="6.0"/><circle cx="1004.8" cy="327.1" r="6.0"/><circle cx="943.2" cy="275.3" r="6.0"/><circle cx="963.1" cy="366.3" r="6.0"/><circle cx="1004.4" cy="341.2" r="6.0"/><circle cx="1037.1" cy="275.9" r="6.0"/><circle cx="921.7" cy="360.6" r="6.0"/><circle cx="960.4" cy="369.9" r="6.0"/><circle cx="993.7" cy="283.9" r="6.0"/><circle cx="982.8" cy="313.9" r="6.0"/><circle cx="953.9" cy="358.9" r="6.0"/><circle cx="943.3" cy="279.4" r="6.0"/><circle cx="926.8" cy="372.4" r="6.0"/><circle cx="1030.4" cy="306.2" r="6.0"/><circle cx="949.4" cy="301.6" r="6.0"/><circle cx="1002.0" cy="270.5" r="6.0"/><circle cx="1041.3" cy="276.8" r="6.0"/><circle cx="1010.9" cy="300.3" r="6.0"/><circle cx="938.2" cy="366.1" r="6.0"/><circle cx="927.1" cy="338.8" r="6.0"/><circle cx="965.5" cy="261.9" r="6.0"/><circle cx="942.3" cy="294.4" r="6.0"/><circle cx="1016.2" cy="351.7" r="6.0"/><circle cx="1040.3" cy="276.5" r="6.0"/><circle cx="931.7" cy="302.3" r="6.0"/><circle cx="948.1" cy="281.6" r="6.0"/><circle cx="980.6" cy="272.5" r="6.0"/><circle cx="947.0" cy="292.2" r="6.0"/><circle cx="969.4" cy="372.4" r="6.0"/><circle cx="1010.4" cy="309.3" r="6.0"/><circle cx="928.2" cy="334.9" r="6.0"/><circle cx="1015.5" cy="345.8" r="6.0"/><circle cx="976.1" cy="345.6" r="6.0"/><circle cx="949.9" cy="373.6" r="6.0"/><circle cx="1011.1" cy="355.3" r="6.0"/><circle cx="981.0" cy="369.8" r="6.0"/><circle cx="970.4" cy="373.9" r="6.0"/><circle cx="966.5" cy="373.9" r="6.0"/><circle cx="947.6" cy="320.0" r="6.0"/><circle cx="984.1" cy="324.2" r="6.0"/><circle cx="927.3" cy="343.5" r="6.0"/><circle cx="978.9" cy="306.2" r="6.0"/><circle cx="917.4" cy="368.8" r="6.0"/><circle cx="985.7" cy="266.3" r="6.0"/><circle cx="948.2" cy="296.8" r="6.0"/><circle cx="955.0" cy="307.2" r="6.0"/><circle cx="934.9" cy="311.7" r="6.0"/><circle cx="954.5" cy="316.2" r="6.0"/><circle cx="926.6" cy="348.3" r="6.0"/><circle cx="980.6" cy="320.7" r="6.0"/><circle cx="1003.6" cy="301.5" r="6.0"/><circle cx="1022.5" cy="339.7" r="6.0"/><circle cx="906.0" cy="358.5" r="6.0"/><circle cx="934.7" cy="332.3" r="6.0"/><circle cx="1006.6" cy="365.7" r="6.0"/><circle cx="975.9" cy="263.5" r="6.0"/><circle cx="944.4" cy="274.6" r="6.0"/><circle cx="1027.6" cy="300.6" r="6.0"/><circle cx="971.9" cy="353.3" r="6.0"/><circle cx="927.1" cy="318.1" r="6.0"/><circle cx="945.3" cy="334.5" r="6.0"/><circle cx="975.3" cy="317.7" r="6.0"/><circle cx="995.5" cy="344.2" r="6.0"/><circle cx="1002.4" cy="355.2" r="6.0"/><circle cx="1026.4" cy="310.0" r="6.0"/><circle cx="1038.2" cy="279.5" r="6.0"/><circle cx="1024.0" cy="289.1" r="6.0"/><circle cx="1019.1" cy="303.3" r="6.0"/><circle cx="984.3" cy="340.8" r="6.0"/><circle cx="1007.7" cy="281.7" r="6.0"/><circle cx="1000.7" cy="276.6" r="6.0"/><circle cx="936.7" cy="352.5" r="6.0"/><circle cx="917.1" cy="328.2" r="6.0"/><circle cx="939.4" cy="269.1" r="6.0"/><circle cx="993.0" cy="275.1" r="6.0"/><circle cx="1011.1" cy="336.9" r="6.0"/><circle cx="943.8" cy="295.0" r="6.0"/><circle cx="941.4" cy="323.9" r="6.0"/><circle cx="985.4" cy="272.4" r="6.0"/><circle cx="923.0" cy="333.7" r="6.0"/><circle cx="942.0" cy="338.6" r="6.0"/><circle cx="1042.3" cy="285.9" r="6.0"/><circle cx="1054.9" cy="317.9" r="6.0"/><circle cx="1045.3" cy="329.9" r="6.0"/><circle cx="1070.2" cy="291.3" r="6.0"/><circle cx="1039.2" cy="325.3" r="6.0"/><circle cx="1032.0" cy="320.9" r="6.0"/><circle cx="1088.4" cy="318.3" r="6.0"/><circle cx="1048.9" cy="335.7" r="6.0"/><circle cx="1052.7" cy="292.5" r="6.0"/><circle cx="1044.7" cy="310.0" r="6.0"/><circle cx="1044.7" cy="320.9" r="6.0"/><circle cx="1054.6" cy="335.0" r="6.0"/><circle cx="1069.2" cy="309.8" r="6.0"/><circle cx="1083.2" cy="313.7" r="6.0"/><circle cx="1061.6" cy="290.4" r="6.0"/><circle cx="1086.0" cy="317.7" r="6.0"/><circle cx="1062.5" cy="324.5" r="6.0"/><circle cx="1041.5" cy="301.6" r="6.0"/><circle cx="1074.2" cy="295.5" r="6.0"/><circle cx="1075.2" cy="323.1" r="6.0"/><circle cx="1049.0" cy="326.3" r="6.0"/><circle cx="1090.2" cy="307.5" r="6.0"/><circle cx="1069.6" cy="319.3" r="6.0"/><circle cx="1047.4" cy="282.8" r="6.0"/><circle cx="1042.8" cy="311.5" r="6.0"/><circle cx="1048.7" cy="290.1" r="6.0"/><circle cx="1059.4" cy="289.8" r="6.0"/><circle cx="1048.1" cy="309.3" r="6.0"/><circle cx="1042.2" cy="308.3" r="6.0"/><circle cx="1066.5" cy="290.6" r="6.0"/><circle cx="1076.2" cy="313.9" r="6.0"/><circle cx="1066.5" cy="296.3" r="6.0"/><circle cx="1049.5" cy="284.5" r="6.0"/><circle cx="1078.4" cy="319.4" r="6.0"/><circle cx="1049.2" cy="293.8" r="6.0"/><circle cx="1078.8" cy="294.8" r="6.0"/><circle cx="1065.6" cy="286.7" r="6.0"/><circle cx="1044.7" cy="326.9" r="6.0"/><circle cx="1037.8" cy="292.3" r="6.0"/><circle cx="1053.9" cy="338.1" r="6.0"/><circle cx="1041.5" cy="305.0" r="6.0"/><circle cx="1052.4" cy="299.3" r="6.0"/><circle cx="1050.9" cy="299.8" r="6.0"/><circle cx="1051.0" cy="289.7" r="6.0"/><circle cx="1052.1" cy="321.5" r="6.0"/><circle cx="1054.7" cy="293.8" r="6.0"/><circle cx="1050.9" cy="296.2" r="6.0"/><circle cx="1088.5" cy="325.8" r="6.0"/><circle cx="1088.5" cy="308.5" r="6.0"/><circle cx="1044.9" cy="290.8" r="6.0"/><circle cx="1038.1" cy="320.1" r="6.0"/><circle cx="1093.2" cy="298.8" r="6.0"/><circle cx="1056.2" cy="327.5" r="6.0"/><circle cx="1068.0" cy="317.6" r="6.0"/><circle cx="1034.0" cy="317.3" r="6.0"/><circle cx="1040.4" cy="329.4" r="6.0"/><circle cx="1084.2" cy="318.9" r="6.0"/><circle cx="1088.0" cy="323.0" r="6.0"/><circle cx="1033.0" cy="315.7" r="6.0"/><circle cx="1044.6" cy="281.2" r="6.0"/><circle cx="1041.3" cy="301.7" r="6.0"/><circle cx="1054.4" cy="296.1" r="6.0"/><circle cx="1098.5" cy="291.8" r="6.0"/><circle cx="1078.8" cy="289.8" r="6.0"/><circle cx="1062.4" cy="310.0" r="6.0"/><circle cx="912.0" cy="348.9" r="6.0"/><circle cx="906.9" cy="351.1" r="6.0"/><circle cx="914.3" cy="339.0" r="6.0"/><circle cx="935.9" cy="279.4" r="6.0"/><circle cx="916.6" cy="322.7" r="6.0"/><circle cx="903.7" cy="358.8" r="6.0"/><circle cx="919.5" cy="322.1" r="6.0"/><circle cx="902.3" cy="370.4" r="6.0"/><circle cx="902.1" cy="372.1" r="6.0"/><circle cx="921.2" cy="310.8" r="6.0"/><circle cx="910.3" cy="351.3" r="6.0"/><circle cx="920.8" cy="319.5" r="6.0"/><circle cx="905.0" cy="355.0" r="6.0"/><circle cx="924.1" cy="307.8" r="6.0"/><circle cx="912.1" cy="335.1" r="6.0"/><circle cx="916.6" cy="334.7" r="6.0"/><circle cx="907.6" cy="351.4" r="6.0"/><circle cx="921.0" cy="323.4" r="6.0"/><circle cx="922.1" cy="321.8" r="6.0"/><circle cx="930.6" cy="293.5" r="6.0"/><circle cx="945.2" cy="263.8" r="6.0"/><circle cx="898.9" cy="367.2" r="6.0"/><circle cx="938.1" cy="276.1" r="6.0"/><circle cx="944.4" cy="268.1" r="6.0"/><circle cx="927.5" cy="297.2" r="6.0"/><circle cx="1099.3" cy="298.9" r="6.0"/><circle cx="1121.6" cy="298.9" r="6.0"/><circle cx="1141.3" cy="309.5" r="6.0"/><circle cx="874.2" cy="403.8" r="6.0"/><circle cx="887.3" cy="418.6" r="6.0"/><circle cx="902.9" cy="410.0" r="6.0"/><circle cx="908.3" cy="400.1" r="6.0"/><circle cx="907.1" cy="392.7" r="6.0"/><circle cx="919.4" cy="390.9" r="6.0"/><circle cx="886.0" cy="387.7" r="6.0"/><circle cx="891.0" cy="377.8" r="6.0"/><circle cx="862.6" cy="440.1" r="6.0"/><circle cx="872.5" cy="449.5" r="6.0"/><circle cx="930.5" cy="439.6" r="6.0"/><circle cx="941.7" cy="432.2" r="6.0"/><circle cx="939.9" cy="442.1" r="6.0"/><circle cx="955.2" cy="440.9" r="6.0"/><circle cx="966.4" cy="443.3" r="6.0"/><circle cx="957.7" cy="420.6" r="6.0"/><circle cx="970.1" cy="428.5" r="6.0"/><circle cx="965.1" cy="401.8" r="6.0"/><circle cx="973.8" cy="416.1" r="6.0"/><circle cx="972.5" cy="397.6" r="6.0"/><circle cx="1152.5" cy="318.5" r="6.0"/><circle cx="1116.6" cy="317.3" r="6.0"/><circle cx="1105.5" cy="318.5" r="6.0"/><circle cx="1096.9" cy="324.7" r="6.0"/><circle cx="1125.3" cy="337.1" r="6.0"/><circle cx="1117.1" cy="343.2" r="6.0"/><circle cx="1147.5" cy="342.0" r="6.0"/><circle cx="1095.6" cy="355.6" r="6.0"/><circle cx="1089.5" cy="360.0" r="6.0"/><circle cx="1120.3" cy="360.0" r="6.0"/><circle cx="1114.2" cy="363.0" r="6.0"/><circle cx="1093.2" cy="371.7" r="6.0"/><circle cx="1071.4" cy="366.0" r="6.0"/><circle cx="1085.7" cy="380.3" r="6.0"/><circle cx="1064.7" cy="374.1" r="6.0"/><circle cx="1058.6" cy="378.6" r="6.0"/><circle cx="1151.7" cy="377.8" r="6.0"/><circle cx="1164.8" cy="376.6" r="6.0"/><circle cx="1207.3" cy="378.6" r="6.0"/><circle cx="1122.8" cy="384.0" r="6.0"/><circle cx="1109.2" cy="389.7" r="6.0"/><circle cx="1127.0" cy="395.9" r="6.0"/><circle cx="1054.4" cy="400.6" r="6.0"/><circle cx="1075.9" cy="400.6" r="6.0"/><circle cx="1126.5" cy="411.7" r="6.0"/><circle cx="1127.8" cy="421.1" r="6.0"/><circle cx="1117.1" cy="424.1" r="6.0"/><circle cx="1103.5" cy="429.7" r="6.0"/><circle cx="1033.4" cy="418.1" r="6.0"/><circle cx="1040.8" cy="427.3" r="6.0"/><circle cx="1003.0" cy="419.4" r="6.0"/><circle cx="1012.1" cy="421.8" r="6.0"/><circle cx="1013.6" cy="433.9" r="6.0"/><circle cx="981.2" cy="408.7" r="6.0"/><circle cx="989.4" cy="408.7" r="6.0"/><circle cx="988.6" cy="418.6" r="6.0"/><circle cx="992.6" cy="397.6" r="6.0"/><circle cx="1007.9" cy="401.3" r="6.0"/><circle cx="1012.8" cy="395.1" r="6.0"/><circle cx="1022.7" cy="390.2" r="6.0"/><circle cx="989.4" cy="386.5" r="6.0"/><circle cx="972.1" cy="448.3" r="6.0"/><circle cx="930.1" cy="390.2" r="6.0"/><circle cx="946.1" cy="389.0" r="6.0"/><circle cx="1049.9" cy="370.4" r="6.0"/><circle cx="1041.3" cy="368.0" r="6.0"/><circle cx="1042.5" cy="381.5" r="6.0"/><circle cx="1030.1" cy="377.8" r="6.0"/><circle cx="1058.6" cy="348.2" r="6.0"/><circle cx="1075.9" cy="340.8" r="6.0"/><circle cx="1042.5" cy="358.1" r="6.0"/><circle cx="1042.5" cy="349.4" r="6.0"/><circle cx="1059.3" cy="456.1" r="6.0"/><circle cx="1075.4" cy="461.0" r="6.0"/><circle cx="1058.6" cy="488.2" r="6.0"/>
</g>
<g fill="#2ca02c">
<circle cx="857.2" cy="184.8" r="6.0"/><circle cx="974.2" cy="172.5" r="6.0"/><circle cx="870.9" cy="188.4" r="6.0"/><circle cx="790.8" cy="178.5" r="6.0"/><circle cx="901.2" cy="215.1" r="6.0"/><circle cx="767.5" cy="217.3" r="6.0"/><circle cx="907.2" cy="192.0" r="6.0"/><circle cx="854.3" cy="221.5" r="6.0"/><circle cx="873.7" cy="195.2" r="6.0"/><circle cx="868.9" cy="198.1" r="6.0"/><circle cx="858.4" cy="148.2" r="6.0"/><circle cx="953.4" cy="204.0" r="6.0"/><circle cx="935.0" cy="164.1" r="6.0"/><circle cx="955.0" cy="162.2" r="6.0"/><circle cx="970.7" cy="173.1" r="6.0"/><circle cx="938.1" cy="147.1" r="6.0"/><circle cx="942.7" cy="135.1" r="6.0"/><circle cx="883.7" cy="170.2" r="6.0"/><circle cx="792.3" cy="207.1" r="6.0"/><circle cx="777.5" cy="195.7" r="6.0"/><circle cx="820.4" cy="227.0" r="6.0"/><circle cx="956.9" cy="195.4" r="6.0"/><circle cx="769.9" cy="240.6" r="6.0"/><circle cx="936.6" cy="154.8" r="6.0"/><circle cx="805.3" cy="190.2" r="6.0"/><circle cx="837.2" cy="170.9" r="6.0"/><circle cx="887.5" cy="224.6" r="6.0"/><circle cx="928.4" cy="234.3" r="6.0"/><circle cx="793.8" cy="235.5" r="6.0"/><circle cx="963.8" cy="190.5" r="6.0"/><circle cx="754.6" cy="237.1" r="6.0"/><circle cx="804.1" cy="203.6" r="6.0"/><circle cx="808.7" cy="219.1" r="6.0"/><circle cx="892.9" cy="150.1" r="6.0"/><circle cx="788.5" cy="205.6" r="6.0"/><circle cx="883.7" cy="222.8" r="6.0"/><circle cx="897.3" cy="148.4" r="6.0"/><circle cx="972.5" cy="138.5" r="6.0"/><circle cx="834.8" cy="227.8" r="6.0"/><circle cx="916.4" cy="188.0" r="6.0"/><circle cx="749.4" cy="230.3" r="6.0"/><circle cx="918.8" cy="237.2" r="6.0"/><circle cx="864.6" cy="207.0" r="6.0"/><circle cx="824.1" cy="241.9" r="6.0"/><circle cx="927.8" cy="229.0" r="6.0"/><circle cx="927.8" cy="203.5" r="6.0"/><circle cx="941.7" cy="231.0" r="6.0"/><circle cx="832.3" cy="201.1" r="6.0"/><circle cx="848.5" cy="214.8" r="6.0"/><circle cx="959.1" cy="186.5" r="6.0"/><circle cx="900.0" cy="161.7" r="6.0"/><circle cx="889.5" cy="191.2" r="6.0"/><circle cx="925.6" cy="162.5" r="6.0"/><circle cx="927.3" cy="187.5" r="6.0"/><circle cx="854.2" cy="221.0" r="6.0"/><circle cx="765.8" cy="209.5" r="6.0"/><circle cx="864.3" cy="141.9" r="6.0"/><circle cx="918.2" cy="176.6" r="6.0"/><circle cx="897.4" cy="231.7" r="6.0"/><circle cx="819.7" cy="200.2" r="6.0"/><circle cx="854.6" cy="227.9" r="6.0"/><circle cx="826.1" cy="198.6" r="6.0"/><circle cx="944.9" cy="230.8" r="6.0"/><circle cx="963.3" cy="162.0" r="6.0"/><circle cx="889.6" cy="153.1" r="6.0"/><circle cx="952.6" cy="222.3" r="6.0"/><circle cx="921.4" cy="235.5" r="6.0"/><circle cx="856.8" cy="147.8" r="6.0"/><circle cx="900.2" cy="176.2" r="6.0"/><circle cx="823.2" cy="221.1" r="6.0"/><circle cx="920.7" cy="186.2" r="6.0"/><circle cx="821.6" cy="214.9" r="6.0"/><circle cx="950.8" cy="142.9" r="6.0"/><circle cx="901.0" cy="170.0" r="6.0"/><circle cx="901.2" cy="197.2" r="6.0"/><circle cx="945.2" cy="236.6" r="6.0"/><circle cx="914.8" cy="137.9" r="6.0"/><circle cx="922.1" cy="135.3" r="6.0"/><circle cx="812.5" cy="156.9" r="6.0"/><circle cx="917.9" cy="179.7" r="6.0"/><circle cx="897.4" cy="210.3" r="6.0"/><circle cx="842.6" cy="215.0" r="6.0"/><circle cx="969.7" cy="123.3" r="6.0"/><circle cx="900.1" cy="230.3" r="6.0"/><circle cx="838.4" cy="185.9" r="6.0"/><circle cx="906.5" cy="138.6" r="6.0"/><circle cx="924.0" cy="218.4" r="6.0"/><circle cx="904.1" cy="205.3" r="6.0"/><circle cx="797.9" cy="229.0" r="6.0"/><circle cx="878.2" cy="214.8" r="6.0"/><circle cx="824.5" cy="230.3" r="6.0"/><circle cx="957.2" cy="157.3" r="6.0"/><circle cx="881.5" cy="211.9" r="6.0"/><circle cx="943.4" cy="134.5" r="6.0"/><circle cx="828.1" cy="214.4" r="6.0"/><circle cx="873.1" cy="206.1" r="6.0"/><circle cx="953.3" cy="201.6" r="6.0"/><circle cx="980.4" cy="123.2" r="6.0"/><circle cx="799.9" cy="180.5" r="6.0"/><circle cx="817.0" cy="206.7" r="6.0"/><circle cx="903.4" cy="180.0" r="6.0"/><circle cx="954.2" cy="184.8" r="6.0"/><circle cx="822.3" cy="161.6" r="6.0"/><circle cx="954.6" cy="229.1" r="6.0"/><circle cx="796.6" cy="222.6" r="6.0"/><circle cx="887.1" cy="138.1" r="6.0"/><circle cx="877.9" cy="177.4" r="6.0"/><circle cx="844.3" cy="216.1" r="6.0"/><circle cx="884.6" cy="175.8" r="6.0"/><circle cx="878.6" cy="165.8" r="6.0"/><circle cx="811.8" cy="173.5" r="6.0"/><circle cx="947.3" cy="229.1" r="6.0"/><circle cx="863.2" cy="153.2" r="6.0"/><circle cx="792.5" cy="192.3" r="6.0"/><circle cx="974.5" cy="128.8" r="6.0"/><circle cx="915.4" cy="153.9" r="6.0"/><circle cx="833.1" cy="192.6" r="6.0"/><circle cx="771.0" cy="207.0" r="6.0"/><circle cx="876.5" cy="168.8" r="6.0"/><circle cx="838.2" cy="165.7" r="6.0"/><circle cx="795.7" cy="194.1" r="6.0"/><circle cx="903.3" cy="180.9" r="6.0"/><circle cx="956.1" cy="191.5" r="6.0"/><circle cx="957.5" cy="142.2" r="6.0"/><circle cx="928.7" cy="217.4" r="6.0"/><circle cx="968.9" cy="153.1" r="6.0"/><circle cx="823.1" cy="232.0" r="6.0"/><circle cx="799.1" cy="241.8" r="6.0"/><circle cx="965.1" cy="129.4" r="6.0"/><circle cx="804.4" cy="206.5" r="6.0"/><circle cx="951.4" cy="166.8" r="6.0"/><circle cx="940.9" cy="128.4" r="6.0"/><circle cx="844.9" cy="201.1" r="6.0"/><circle cx="914.2" cy="230.5" r="6.0"/><circle cx="985.2" cy="127.0" r="6.0"/><circle cx="870.4" cy="210.6" r="6.0"/><circle cx="869.7" cy="201.1" r="6.0"/><circle cx="881.8" cy="178.9" r="6.0"/><circle cx="974.9" cy="124.4" r="6.0"/><circle cx="760.4" cy="235.7" r="6.0"/><circle cx="859.6" cy="211.4" r="6.0"/><circle cx="826.1" cy="172.7" r="6.0"/><circle cx="872.8" cy="167.9" r="6.0"/><circle cx="918.9" cy="221.8" r="6.0"/><circle cx="928.4" cy="164.7" r="6.0"/><circle cx="919.8" cy="223.9" r="6.0"/><circle cx="901.1" cy="164.6" r="6.0"/><circle cx="893.7" cy="177.6" r="6.0"/><circle cx="809.0" cy="230.5" r="6.0"/><circle cx="929.6" cy="213.1" r="6.0"/><circle cx="947.0" cy="164.7" r="6.0"/><circle cx="917.3" cy="211.7" r="6.0"/><circle cx="934.8" cy="164.7" r="6.0"/><circle cx="829.7" cy="172.9" r="6.0"/><circle cx="903.4" cy="193.1" r="6.0"/><circle cx="802.6" cy="234.8" r="6.0"/><circle cx="910.2" cy="155.9" r="6.0"/><circle cx="908.6" cy="186.0" r="6.0"/><circle cx="877.2" cy="162.6" r="6.0"/><circle cx="918.9" cy="211.0" r="6.0"/><circle cx="988.1" cy="115.0" r="6.0"/><circle cx="897.6" cy="208.0" r="6.0"/><circle cx="808.6" cy="164.2" r="6.0"/><circle cx="807.2" cy="229.7" r="6.0"/><circle cx="881.4" cy="178.0" r="6.0"/><circle cx="893.2" cy="210.7" r="6.0"/><circle cx="756.2" cy="232.9" r="6.0"/><circle cx="875.6" cy="189.7" r="6.0"/><circle cx="835.7" cy="149.1" r="6.0"/><circle cx="907.5" cy="184.9" r="6.0"/><circle cx="815.3" cy="205.2" r="6.0"/><circle cx="783.8" cy="210.1" r="6.0"/><circle cx="841.7" cy="228.7" r="6.0"/><circle cx="763.2" cy="229.7" r="6.0"/><circle cx="851.5" cy="174.1" r="6.0"/><circle cx="874.8" cy="233.8" r="6.0"/><circle cx="924.2" cy="172.9" r="6.0"/><circle cx="899.8" cy="171.2" r="6.0"/><circle cx="854.8" cy="198.8" r="6.0"/><circle cx="858.0" cy="146.1" r="6.0"/><circle cx="889.4" cy="166.5" r="6.0"/><circle cx="937.9" cy="181.0" r="6.0"/><circle cx="927.1" cy="143.0" r="6.0"/><circle cx="773.2" cy="228.1" r="6.0"/><circle cx="939.5" cy="193.2" r="6.0"/><circle cx="834.1" cy="147.3" r="6.0"/><circle cx="914.9" cy="185.4" r="6.0"/><circle cx="891.7" cy="194.3" r="6.0"/><circle cx="931.8" cy="136.7" r="6.0"/><circle cx="806.7" cy="239.4" r="6.0"/><circle cx="812.2" cy="167.3" r="6.0"/><circle cx="766.4" cy="199.9" r="6.0"/><circle cx="881.6" cy="194.0" r="6.0"/><circle cx="837.5" cy="174.2" r="6.0"/><circle cx="929.7" cy="221.0" r="6.0"/><circle cx="942.3" cy="207.4" r="6.0"/><circle cx="934.9" cy="169.6" r="6.0"/><circle cx="872.2" cy="173.7" r="6.0"/><circle cx="942.4" cy="183.9" r="6.0"/><circle cx="914.0" cy="241.0" r="6.0"/><circle cx="854.2" cy="200.5" r="6.0"/><circle cx="930.8" cy="234.7" r="6.0"/><circle cx="872.8" cy="184.0" r="6.0"/><circle cx="812.7" cy="230.5" r="6.0"/><circle cx="897.7" cy="194.6" r="6.0"/><circle cx="919.7" cy="177.5" r="6.0"/><circle cx="936.1" cy="157.0" r="6.0"/><circle cx="833.8" cy="210.9" r="6.0"/><circle cx="926.9" cy="213.8" r="6.0"/><circle cx="860.1" cy="216.8" r="6.0"/><circle cx="924.1" cy="202.4" r="6.0"/><circle cx="961.2" cy="190.3" r="6.0"/><circle cx="941.2" cy="178.0" r="6.0"/><circle cx="852.8" cy="186.8" r="6.0"/><circle cx="861.5" cy="183.4" r="6.0"/><circle cx="867.0" cy="185.7" r="6.0"/><circle cx="830.5" cy="201.9" r="6.0"/><circle cx="940.1" cy="199.7" r="6.0"/><circle cx="947.2" cy="201.8" r="6.0"/><circle cx="827.1" cy="219.8" r="6.0"/><circle cx="955.3" cy="175.9" r="6.0"/><circle cx="894.0" cy="202.2" r="6.0"/><circle cx="941.4" cy="155.9" r="6.0"/><circle cx="894.5" cy="222.5" r="6.0"/><circle cx="929.1" cy="232.7" r="6.0"/><circle cx="810.4" cy="208.3" r="6.0"/><circle cx="821.2" cy="218.6" r="6.0"/><circle cx="913.1" cy="172.6" r="6.0"/><circle cx="835.1" cy="220.4" r="6.0"/><circle cx="889.9" cy="220.4" r="6.0"/><circle cx="866.8" cy="181.1" r="6.0"/><circle cx="884.8" cy="199.4" r="6.0"/><circle cx="926.2" cy="215.1" r="6.0"/><circle cx="961.5" cy="187.8" r="6.0"/><circle cx="945.4" cy="211.3" r="6.0"/><circle cx="950.3" cy="224.1" r="6.0"/><circle cx="946.8" cy="231.8" r="6.0"/><circle cx="890.3" cy="215.3" r="6.0"/><circle cx="941.0" cy="188.8" r="6.0"/><circle cx="929.9" cy="241.2" r="6.0"/><circle cx="832.2" cy="189.1" r="6.0"/><circle cx="848.1" cy="239.2" r="6.0"/><circle cx="815.9" cy="209.6" r="6.0"/><circle cx="936.2" cy="166.5" r="6.0"/><circle cx="901.3" cy="233.7" r="6.0"/><circle cx="837.8" cy="216.0" r="6.0"/><circle cx="903.3" cy="170.6" r="6.0"/><circle cx="826.4" cy="219.7" r="6.0"/><circle cx="851.7" cy="200.4" r="6.0"/><circle cx="943.7" cy="194.1" r="6.0"/><circle cx="842.4" cy="231.6" r="6.0"/><circle cx="961.4" cy="181.5" r="6.0"/><circle cx="894.6" cy="238.0" r="6.0"/><circle cx="882.8" cy="170.3" r="6.0"/><circle cx="804.0" cy="237.2" r="6.0"/><circle cx="940.9" cy="185.4" r="6.0"/><circle cx="891.0" cy="197.5" r="6.0"/><circle cx="845.0" cy="241.1" r="6.0"/><circle cx="914.7" cy="171.9" r="6.0"/><circle cx="862.6" cy="223.3" r="6.0"/><circle cx="924.8" cy="205.8" r="6.0"/><circle cx="953.2" cy="197.5" r="6.0"/><circle cx="910.9" cy="241.4" r="6.0"/><circle cx="843.5" cy="199.2" r="6.0"/><circle cx="822.4" cy="220.9" r="6.0"/><circle cx="949.0" cy="225.6" r="6.0"/><circle cx="925.4" cy="158.9" r="6.0"/><circle cx="882.4" cy="193.1" r="6.0"/><circle cx="951.0" cy="177.9" r="6.0"/><circle cx="938.7" cy="188.4" r="6.0"/><circle cx="961.8" cy="158.4" r="6.0"/><circle cx="945.4" cy="169.2" r="6.0"/><circle cx="893.9" cy="198.4" r="6.0"/><circle cx="823.7" cy="226.5" r="6.0"/><circle cx="880.0" cy="215.8" r="6.0"/><circle cx="860.5" cy="213.2" r="6.0"/><circle cx="879.0" cy="239.0" r="6.0"/><circle cx="946.0" cy="210.2" r="6.0"/><circle cx="924.2" cy="171.8" r="6.0"/><circle cx="897.7" cy="192.1" r="6.0"/><circle cx="796.9" cy="241.2" r="6.0"/><circle cx="940.5" cy="169.0" r="6.0"/><circle cx="907.1" cy="176.7" r="6.0"/><circle cx="863.4" cy="199.7" r="6.0"/><circle cx="849.3" cy="181.0" r="6.0"/><circle cx="866.4" cy="211.3" r="6.0"/><circle cx="928.1" cy="180.3" r="6.0"/><circle cx="926.7" cy="180.5" r="6.0"/><circle cx="945.5" cy="158.5" r="6.0"/><circle cx="918.3" cy="215.2" r="6.0"/><circle cx="947.3" cy="204.5" r="6.0"/><circle cx="962.6" cy="189.3" r="6.0"/><circle cx="888.1" cy="209.5" r="6.0"/><circle cx="934.6" cy="225.5" r="6.0"/><circle cx="865.2" cy="180.5" r="6.0"/><circle cx="867.9" cy="214.4" r="6.0"/><circle cx="915.2" cy="206.0" r="6.0"/><circle cx="857.3" cy="209.9" r="6.0"/><circle cx="887.7" cy="222.5" r="6.0"/><circle cx="945.2" cy="206.3" r="6.0"/><circle cx="823.8" cy="220.5" r="6.0"/><circle cx="959.3" cy="200.4" r="6.0"/><circle cx="859.2" cy="196.0" r="6.0"/><circle cx="820.8" cy="215.6" r="6.0"/><circle cx="925.2" cy="226.9" r="6.0"/><circle cx="830.9" cy="236.9" r="6.0"/><circle cx="909.1" cy="168.2" r="6.0"/><circle cx="899.9" cy="214.1" r="6.0"/><circle cx="854.9" cy="235.5" r="6.0"/><circle cx="860.7" cy="192.6" r="6.0"/><circle cx="817.6" cy="239.6" r="6.0"/><circle cx="819.7" cy="233.2" r="6.0"/><circle cx="893.9" cy="201.6" r="6.0"/><circle cx="897.0" cy="174.3" r="6.0"/><circle cx="943.8" cy="205.3" r="6.0"/><circle cx="817.3" cy="225.9" r="6.0"/><circle cx="847.5" cy="232.5" r="6.0"/><circle cx="838.8" cy="202.8" r="6.0"/><circle cx="946.2" cy="167.1" r="6.0"/><circle cx="894.7" cy="157.0" r="6.0"/><circle cx="914.8" cy="178.3" r="6.0"/><circle cx="917.2" cy="217.9" r="6.0"/><circle cx="864.5" cy="204.5" r="6.0"/><circle cx="941.3" cy="151.5" r="6.0"/><circle cx="831.3" cy="193.1" r="6.0"/><circle cx="898.7" cy="166.0" r="6.0"/><circle cx="889.6" cy="174.3" r="6.0"/><circle cx="898.4" cy="180.6" r="6.0"/><circle cx="911.8" cy="153.5" r="6.0"/><circle cx="917.1" cy="163.3" r="6.0"/><circle cx="880.5" cy="187.9" r="6.0"/><circle cx="908.5" cy="213.4" r="6.0"/><circle cx="933.0" cy="219.2" r="6.0"/><circle cx="883.4" cy="241.5" r="6.0"/><circle cx="947.6" cy="228.7" r="6.0"/><circle cx="869.4" cy="189.9" r="6.0"/><circle cx="898.0" cy="233.3" r="6.0"/><circle cx="890.7" cy="198.3" r="6.0"/><circle cx="873.7" cy="233.2" r="6.0"/><circle cx="927.1" cy="232.8" r="6.0"/><circle cx="928.2" cy="205.0" r="6.0"/><circle cx="931.8" cy="178.0" r="6.0"/><circle cx="903.0" cy="156.4" r="6.0"/><circle cx="886.5" cy="186.5" r="6.0"/><circle cx="804.5" cy="213.9" r="6.0"/><circle cx="890.8" cy="172.0" r="6.0"/><circle cx="850.7" cy="186.4" r="6.0"/><circle cx="916.2" cy="229.7" r="6.0"/><circle cx="871.7" cy="224.1" r="6.0"/><circle cx="835.4" cy="218.7" r="6.0"/><circle cx="898.2" cy="233.1" r="6.0"/><circle cx="812.9" cy="222.9" r="6.0"/><circle cx="817.5" cy="199.5" r="6.0"/><circle cx="867.3" cy="182.8" r="6.0"/><circle cx="800.7" cy="232.7" r="6.0"/><circle cx="851.0" cy="195.9" r="6.0"/><circle cx="881.0" cy="169.0" r="6.0"/><circle cx="848.8" cy="234.9" r="6.0"/><circle cx="958.2" cy="168.0" r="6.0"/><circle cx="947.5" cy="182.6" r="6.0"/><circle cx="881.0" cy="165.8" r="6.0"/><circle cx="831.8" cy="208.2" r="6.0"/><circle cx="829.9" cy="231.0" r="6.0"/><circle cx="927.1" cy="178.8" r="6.0"/><circle cx="924.8" cy="162.4" r="6.0"/><circle cx="921.7" cy="236.3" r="6.0"/><circle cx="924.3" cy="168.1" r="6.0"/><circle cx="916.0" cy="222.7" r="6.0"/><circle cx="862.8" cy="210.9" r="6.0"/><circle cx="956.0" cy="204.3" r="6.0"/><circle cx="845.4" cy="208.9" r="6.0"/><circle cx="811.4" cy="240.4" r="6.0"/><circle cx="875.1" cy="198.6" r="6.0"/><circle cx="904.1" cy="176.2" r="6.0"/><circle cx="840.7" cy="223.9" r="6.0"/><circle cx="932.5" cy="172.6" r="6.0"/><circle cx="845.8" cy="200.4" r="6.0"/><circle cx="828.9" cy="232.5" r="6.0"/><circle cx="879.0" cy="219.1" r="6.0"/><circle cx="865.0" cy="235.5" r="6.0"/><circle cx="886.0" cy="166.6" r="6.0"/><circle cx="896.2" cy="209.3" r="6.0"/><circle cx="860.5" cy="210.6" r="6.0"/><circle cx="937.5" cy="197.5" r="6.0"/><circle cx="887.0" cy="227.8" r="6.0"/><circle cx="919.5" cy="197.9" r="6.0"/><circle cx="968.2" cy="166.0" r="6.0"/><circle cx="936.9" cy="165.2" r="6.0"/><circle cx="905.7" cy="171.7" r="6.0"/><circle cx="875.2" cy="221.1" r="6.0"/><circle cx="938.2" cy="222.8" r="6.0"/><circle cx="837.9" cy="195.0" r="6.0"/><circle cx="835.3" cy="203.4" r="6.0"/><circle cx="903.6" cy="215.8" r="6.0"/><circle cx="899.2" cy="230.3" r="6.0"/><circle cx="874.1" cy="190.6" r="6.0"/><circle cx="842.9" cy="223.5" r="6.0"/><circle cx="808.2" cy="233.5" r="6.0"/><circle cx="898.5" cy="200.0" r="6.0"/><circle cx="939.1" cy="171.9" r="6.0"/><circle cx="908.1" cy="198.3" r="6.0"/><circle cx="843.2" cy="204.2" r="6.0"/><circle cx="811.1" cy="225.5" r="6.0"/><circle cx="824.1" cy="213.5" r="6.0"/><circle cx="946.2" cy="222.4" r="6.0"/><circle cx="884.1" cy="220.0" r="6.0"/><circle cx="877.9" cy="218.5" r="6.0"/><circle cx="957.0" cy="163.0" r="6.0"/><circle cx="866.5" cy="177.4" r="6.0"/><circle cx="801.2" cy="241.6" r="6.0"/><circle cx="933.9" cy="217.5" r="6.0"/><circle cx="895.4" cy="172.2" r="6.0"/><circle cx="879.0" cy="235.8" r="6.0"/><circle cx="861.2" cy="181.0" r="6.0"/><circle cx="913.3" cy="155.4" r="6.0"/><circle cx="857.5" cy="213.9" r="6.0"/><circle cx="952.3" cy="204.3" r="6.0"/><circle cx="956.3" cy="192.6" r="6.0"/><circle cx="866.5" cy="227.6" r="6.0"/><circle cx="864.4" cy="221.9" r="6.0"/><circle cx="828.4" cy="200.6" r="6.0"/><circle cx="834.0" cy="193.0" r="6.0"/><circle cx="851.2" cy="191.1" r="6.0"/><circle cx="952.0" cy="168.8" r="6.0"/><circle cx="920.8" cy="183.4" r="6.0"/><circle cx="866.5" cy="235.0" r="6.0"/><circle cx="925.2" cy="174.7" r="6.0"/><circle cx="965.5" cy="183.1" r="6.0"/><circle cx="934.4" cy="216.6" r="6.0"/><circle cx="853.6" cy="185.4" r="6.0"/><circle cx="810.1" cy="231.2" r="6.0"/><circle cx="854.2" cy="220.9" r="6.0"/><circle cx="866.7" cy="171.9" r="6.0"/><circle cx="851.8" cy="189.0" r="6.0"/><circle cx="894.0" cy="162.5" r="6.0"/><circle cx="923.6" cy="174.0" r="6.0"/><circle cx="927.0" cy="211.3" r="6.0"/><circle cx="846.0" cy="215.6" r="6.0"/><circle cx="868.8" cy="185.6" r="6.0"/><circle cx="952.6" cy="170.8" r="6.0"/><circle cx="848.2" cy="181.7" r="6.0"/><circle cx="799.5" cy="208.0" r="6.0"/><circle cx="898.0" cy="224.4" r="6.0"/><circle cx="917.0" cy="234.6" r="6.0"/><circle cx="834.3" cy="213.4" r="6.0"/><circle cx="969.1" cy="183.1" r="6.0"/><circle cx="958.5" cy="171.9" r="6.0"/><circle cx="949.2" cy="195.2" r="6.0"/><circle cx="944.8" cy="203.3" r="6.0"/><circle cx="948.1" cy="201.6" r="6.0"/><circle cx="961.5" cy="166.8" r="6.0"/><circle cx="956.4" cy="201.1" r="6.0"/><circle cx="941.8" cy="216.4" r="6.0"/><circle cx="946.3" cy="209.4" r="6.0"/><circle cx="958.2" cy="212.8" r="6.0"/><circle cx="948.5" cy="197.0" r="6.0"/><circle cx="942.4" cy="228.9" r="6.0"/><circle cx="970.9" cy="167.9" r="6.0"/><circle cx="960.6" cy="183.1" r="6.0"/><circle cx="952.2" cy="215.1" r="6.0"/><circle cx="954.7" cy="213.1" r="6.0"/><circle cx="945.6" cy="233.2" r="6.0"/><circle cx="944.1" cy="220.1" r="6.0"/><circle cx="952.1" cy="208.4" r="6.0"/><circle cx="937.3" cy="231.7" r="6.0"/><circle cx="969.1" cy="169.1" r="6.0"/><circle cx="962.2" cy="184.4" r="6.0"/><circle cx="962.2" cy="190.2" r="6.0"/><circle cx="945.0" cy="223.5" r="6.0"/><circle cx="955.5" cy="197.4" r="6.0"/><circle cx="906.0" cy="239.0" r="6.0"/><circle cx="924.7" cy="240.4" r="6.0"/><circle cx="818.8" cy="237.0" r="6.0"/><circle cx="900.4" cy="235.8" r="6.0"/><circle cx="827.7" cy="234.1" r="6.0"/><circle cx="887.8" cy="241.5" r="6.0"/><circle cx="945.6" cy="235.1" r="6.0"/><circle cx="903.1" cy="237.4" r="6.0"/><circle cx="894.7" cy="237.2" r="6.0"/><circle cx="940.0" cy="241.9" r="6.0"/><circle cx="807.3" cy="239.7" r="6.0"/><circle cx="817.8" cy="234.3" r="6.0"/><circle cx="842.9" cy="239.8" r="6.0"/><circle cx="949.0" cy="235.0" r="6.0"/><circle cx="849.5" cy="234.2" r="6.0"/><circle cx="881.4" cy="237.9" r="6.0"/><circle cx="856.0" cy="236.5" r="6.0"/><circle cx="920.1" cy="240.7" r="6.0"/><circle cx="842.6" cy="237.1" r="6.0"/><circle cx="892.7" cy="240.1" r="6.0"/><circle cx="947.1" cy="237.1" r="6.0"/><circle cx="904.1" cy="238.4" r="6.0"/><circle cx="920.0" cy="235.2" r="6.0"/><circle cx="826.3" cy="234.9" r="6.0"/><circle cx="940.0" cy="236.0" r="6.0"/><circle cx="873.2" cy="235.0" r="6.0"/><circle cx="848.5" cy="234.2" r="6.0"/><circle cx="884.9" cy="235.1" r="6.0"/><circle cx="893.8" cy="236.2" r="6.0"/><circle cx="834.1" cy="237.9" r="6.0"/><circle cx="854.9" cy="236.1" r="6.0"/><circle cx="807.7" cy="234.5" r="6.0"/><circle cx="933.9" cy="236.5" r="6.0"/><circle cx="811.8" cy="235.5" r="6.0"/><circle cx="872.5" cy="242.0" r="6.0"/><circle cx="767.9" cy="44.2" r="6.0"/><circle cx="822.3" cy="50.9" r="6.0"/><circle cx="826.2" cy="58.3" r="6.0"/><circle cx="923.6" cy="53.6" r="6.0"/><circle cx="912.0" cy="74.4" r="6.0"/><circle cx="916.9" cy="82.3" r="6.0"/><circle cx="930.0" cy="76.8" r="6.0"/><circle cx="958.9" cy="72.6" r="6.0"/><circle cx="955.2" cy="80.5" r="6.0"/><circle cx="961.4" cy="90.9" r="6.0"/><circle cx="954.0" cy="100.3" r="6.0"/><circle cx="949.8" cy="106.5" r="6.0"/><circle cx="962.7" cy="101.5" r="6.0"/><circle cx="970.1" cy="101.5" r="6.0"/><circle cx="815.6" cy="87.2" r="6.0"/><circle cx="794.6" cy="98.6" r="6.0"/><circle cx="807.0" cy="97.1" r="6.0"/><circle cx="823.0" cy="97.1" r="6.0"/><circle cx="752.1" cy="110.9" r="6.0"/><circle cx="765.0" cy="119.6" r="6.0"/><circle cx="828.7" cy="113.4" r="6.0"/><circle cx="836.1" cy="115.1" r="6.0"/><circle cx="847.3" cy="114.4" r="6.0"/><circle cx="876.7" cy="112.7" r="6.0"/><circle cx="910.8" cy="114.6" r="6.0"/><circle cx="931.3" cy="106.5" r="6.0"/><circle cx="934.2" cy="115.1" r="6.0"/><circle cx="944.1" cy="116.4" r="6.0"/><circle cx="800.8" cy="121.3" r="6.0"/><circle cx="794.1" cy="126.3" r="6.0"/><circle cx="893.5" cy="123.8" r="6.0"/><circle cx="900.9" cy="124.3" r="6.0"/><circle cx="902.1" cy="128.7" r="6.0"/><circle cx="913.2" cy="130.5" r="6.0"/><circle cx="928.6" cy="126.3" r="6.0"/><circle cx="941.7" cy="126.3" r="6.0"/><circle cx="947.8" cy="130.0" r="6.0"/><circle cx="958.9" cy="131.2" r="6.0"/><circle cx="970.1" cy="121.8" r="6.0"/><circle cx="970.1" cy="128.7" r="6.0"/><circle cx="762.0" cy="142.8" r="6.0"/><circle cx="767.4" cy="142.3" r="6.0"/><circle cx="779.8" cy="144.8" r="6.0"/><circle cx="743.2" cy="150.5" r="6.0"/><circle cx="771.1" cy="157.1" r="6.0"/><circle cx="795.9" cy="154.2" r="6.0"/><circle cx="790.2" cy="161.4" r="6.0"/><circle cx="784.7" cy="167.5" r="6.0"/><circle cx="773.6" cy="170.0" r="6.0"/><circle cx="678.5" cy="162.1" r="6.0"/><circle cx="807.0" cy="148.5" r="6.0"/><circle cx="820.6" cy="149.7" r="6.0"/><circle cx="810.7" cy="157.1" r="6.0"/><circle cx="837.9" cy="136.1" r="6.0"/><circle cx="830.4" cy="141.6" r="6.0"/><circle cx="853.9" cy="141.1" r="6.0"/><circle cx="846.5" cy="147.3" r="6.0"/><circle cx="863.8" cy="146.5" r="6.0"/><circle cx="858.9" cy="153.4" r="6.0"/><circle cx="874.9" cy="138.1" r="6.0"/><circle cx="886.0" cy="136.1" r="6.0"/><circle cx="893.5" cy="138.6" r="6.0"/><circle cx="883.6" cy="143.6" r="6.0"/><circle cx="908.3" cy="138.6" r="6.0"/><circle cx="883.6" cy="151.0" r="6.0"/><circle cx="923.1" cy="141.1" r="6.0"/><circle cx="933.0" cy="138.6" r="6.0"/><circle cx="945.4" cy="141.1" r="6.0"/><circle cx="909.5" cy="149.7" r="6.0"/><circle cx="914.5" cy="153.4" r="6.0"/><circle cx="900.9" cy="155.9" r="6.0"/><circle cx="929.3" cy="149.7" r="6.0"/><circle cx="935.5" cy="155.9" r="6.0"/><circle cx="947.8" cy="155.9" r="6.0"/><circle cx="957.7" cy="154.7" r="6.0"/><circle cx="967.6" cy="143.6" r="6.0"/><circle cx="963.9" cy="149.7" r="6.0"/><circle cx="830.4" cy="154.7" r="6.0"/><circle cx="837.9" cy="155.9" r="6.0"/><circle cx="846.5" cy="159.6" r="6.0"/><circle cx="824.3" cy="160.9" r="6.0"/><circle cx="834.2" cy="163.3" r="6.0"/><circle cx="844.0" cy="165.8" r="6.0"/><circle cx="810.7" cy="164.6" r="6.0"/><circle cx="868.8" cy="163.3" r="6.0"/><circle cx="874.9" cy="163.8" r="6.0"/><circle cx="892.2" cy="160.9" r="6.0"/><circle cx="900.9" cy="163.3" r="6.0"/><circle cx="910.8" cy="165.8" r="6.0"/><circle cx="891.0" cy="165.8" r="6.0"/><circle cx="942.9" cy="163.3" r="6.0"/><circle cx="952.8" cy="163.3" r="6.0"/><circle cx="960.2" cy="160.9" r="6.0"/><circle cx="853.9" cy="168.3" r="6.0"/><circle cx="930.5" cy="165.8" r="6.0"/><circle cx="983.2" cy="72.4" r="6.0"/><circle cx="982.0" cy="83.0" r="6.0"/><circle cx="983.9" cy="113.9" r="6.0"/><circle cx="982.0" cy="120.1" r="6.0"/><circle cx="974.5" cy="141.1" r="6.0"/><circle cx="677.2" cy="184.7" r="6.0"/><circle cx="717.5" cy="201.5" r="6.0"/><circle cx="736.5" cy="202.5" r="6.0"/><circle cx="734.1" cy="239.6" r="6.0"/><circle cx="747.7" cy="176.1" r="6.0"/><circle cx="755.1" cy="177.3" r="6.0"/><circle cx="742.7" cy="216.8" r="6.0"/><circle cx="750.1" cy="228.0" r="6.0"/><circle cx="753.1" cy="197.1" r="6.0"/><circle cx="760.0" cy="186.7" r="6.0"/><circle cx="767.4" cy="181.0" r="6.0"/><circle cx="794.6" cy="177.3" r="6.0"/><circle cx="788.4" cy="189.2" r="6.0"/><circle cx="802.5" cy="189.2" r="6.0"/><circle cx="772.4" cy="210.7" r="6.0"/><circle cx="757.5" cy="209.4" r="6.0"/><circle cx="765.0" cy="221.8" r="6.0"/><circle cx="750.1" cy="234.1" r="6.0"/><circle cx="769.9" cy="235.4" r="6.0"/><circle cx="777.3" cy="219.3" r="6.0"/><circle cx="784.7" cy="231.7" r="6.0"/><circle cx="755.1" cy="204.5" r="6.0"/>
</g>
<g fill="#d62728">
<circle cx="1029.7" cy="191.3" r="6.0"/><circle cx="1086.2" cy="188.1" r="6.0"/><circle cx="1060.0" cy="227.2" r="6.0"/><circle cx="1022.6" cy="263.4" r="6.0"/><circle cx="1071.9" cy="150.2" r="6.0"/><circle cx="1007.8" cy="249.6" r="6.0"/><circle cx="999.3" cy="208.5" r="6.0"/><circle cx="1037.3" cy="259.3" r="6.0"/><circle cx="1083.7" cy="246.5" r="6.0"/><circle cx="1014.9" cy="258.1" r="6.0"/><circle cx="1089.8" cy="252.0" r="6.0"/><circle cx="1068.4" cy="163.1" r="6.0"/><circle cx="1013.0" cy="183.5" r="6.0"/><circle cx="1060.0" cy="259.5" r="6.0"/><circle cx="1008.8" cy="229.7" r="6.0"/><circle cx="1007.0" cy="168.0" r="6.0"/><circle cx="1074.8" cy="156.4" r="6.0"/><circle cx="1075.1" cy="214.0" r="6.0"/><circle cx="1064.0" cy="150.5" r="6.0"/><circle cx="1006.3" cy="194.1" r="6.0"/><circle cx="1015.6" cy="175.3" r="6.0"/><circle cx="1001.2" cy="249.7" r="6.0"/><circle cx="983.4" cy="190.2" r="6.0"/><circle cx="1068.6" cy="150.6" r="6.0"/><circle cx="992.8" cy="236.5" r="6.0"/><circle cx="977.1" cy="181.4" r="6.0"/><circle cx="1056.1" cy="185.0" r="6.0"/><circle cx="1057.7" cy="156.5" r="6.0"/><circle cx="1052.8" cy="272.7" r="6.0"/><circle cx="1094.9" cy="228.1" r="6.0"/><circle cx="1033.3" cy="217.7" r="6.0"/><circle cx="1061.5" cy="192.1" r="6.0"/><circle cx="1012.3" cy="159.6" r="6.0"/><circle cx="1050.1" cy="218.5" r="6.0"/><circle cx="1054.8" cy="196.9" r="6.0"/><circle cx="1048.8" cy="222.3" r="6.0"/><circle cx="1074.1" cy="173.8" r="6.0"/><circle cx="1015.4" cy="269.2" r="6.0"/><circle cx="1030.9" cy="160.3" r="6.0"/><circle cx="1092.0" cy="231.7" r="6.0"/><circle cx="1109.1" cy="262.6" r="6.0"/><circle cx="1084.6" cy="208.0" r="6.0"/><circle cx="1097.3" cy="242.4" r="6.0"/><circle cx="988.9" cy="258.8" r="6.0"/><circle cx="1024.5" cy="212.2" r="6.0"/><circle cx="993.9" cy="230.7" r="6.0"/><circle cx="1082.7" cy="204.4" r="6.0"/><circle cx="987.3" cy="257.6" r="6.0"/><circle cx="1094.6" cy="252.6" r="6.0"/><circle cx="1041.1" cy="275.8" r="6.0"/><circle cx="1009.0" cy="137.3" r="6.0"/><circle cx="1096.3" cy="263.4" r="6.0"/><circle cx="1013.0" cy="266.1" r="6.0"/><circle cx="1053.0" cy="275.1" r="6.0"/><circle cx="981.2" cy="228.2" r="6.0"/><circle cx="1098.4" cy="245.2" r="6.0"/><circle cx="979.5" cy="235.0" r="6.0"/><circle cx="1004.4" cy="174.2" r="6.0"/><circle cx="1055.2" cy="167.9" r="6.0"/><circle cx="1050.5" cy="239.5" r="6.0"/><circle cx="1007.6" cy="153.7" r="6.0"/><circle cx="1073.8" cy="182.0" r="6.0"/><circle cx="999.3" cy="190.2" r="6.0"/><circle cx="970.6" cy="228.6" r="6.0"/><circle cx="1019.3" cy="261.1" r="6.0"/><circle cx="1016.6" cy="198.6" r="6.0"/><circle cx="1005.6" cy="241.0" r="6.0"/><circle cx="986.1" cy="219.6" r="6.0"/><circle cx="995.1" cy="267.0" r="6.0"/><circle cx="1075.1" cy="223.4" r="6.0"/><circle cx="1023.5" cy="131.0" r="6.0"/><circle cx="1018.3" cy="168.4" r="6.0"/><circle cx="996.3" cy="239.5" r="6.0"/><circle cx="1062.6" cy="162.1" r="6.0"/><circle cx="1017.0" cy="142.7" r="6.0"/><circle cx="1018.6" cy="178.7" r="6.0"/><circle cx="1088.6" cy="266.2" r="6.0"/><circle cx="1048.4" cy="213.9" r="6.0"/><circle cx="1010.5" cy="244.4" r="6.0"/><circle cx="1062.1" cy="179.1" r="6.0"/><circle cx="1102.1" cy="283.3" r="6.0"/><circle cx="1026.3" cy="174.4" r="6.0"/><circle cx="1062.4" cy="224.2" r="6.0"/><circle cx="1114.8" cy="288.0" r="6.0"/><circle cx="1090.0" cy="231.8" r="6.0"/><circle cx="1015.2" cy="232.8" r="6.0"/><circle cx="981.6" cy="183.6" r="6.0"/><circle cx="970.0" cy="187.9" r="6.0"/><circle cx="974.2" cy="231.6" r="6.0"/><circle cx="1054.0" cy="247.6" r="6.0"/><circle cx="989.3" cy="259.5" r="6.0"/><circle cx="1072.9" cy="253.5" r="6.0"/><circle cx="965.9" cy="200.6" r="6.0"/><circle cx="1110.3" cy="274.1" r="6.0"/><circle cx="1038.8" cy="211.8" r="6.0"/><circle cx="964.5" cy="255.7" r="6.0"/><circle cx="997.8" cy="207.3" r="6.0"/><circle cx="966.8" cy="217.7" r="6.0"/><circle cx="1034.6" cy="170.6" r="6.0"/><circle cx="1081.1" cy="162.4" r="6.0"/><circle cx="1017.4" cy="129.3" r="6.0"/><circle cx="983.1" cy="197.7" r="6.0"/><circle cx="1042.7" cy="199.0" r="6.0"/><circle cx="1016.1" cy="225.3" r="6.0"/><circle cx="1096.2" cy="285.8" r="6.0"/><circle cx="971.9" cy="260.8" r="6.0"/><circle cx="1073.5" cy="242.6" r="6.0"/><circle cx="972.4" cy="211.3" r="6.0"/><circle cx="1057.5" cy="265.8" r="6.0"/><circle cx="1002.5" cy="204.1" r="6.0"/><circle cx="1059.5" cy="272.5" r="6.0"/><circle cx="1032.7" cy="275.5" r="6.0"/><circle cx="1014.0" cy="171.5" r="6.0"/><circle cx="1074.4" cy="164.4" r="6.0"/><circle cx="1009.4" cy="193.8" r="6.0"/><circle cx="1020.3" cy="197.5" r="6.0"/><circle cx="1040.8" cy="188.8" r="6.0"/><circle cx="1010.1" cy="174.1" r="6.0"/><circle cx="1029.7" cy="159.6" r="6.0"/><circle cx="1076.2" cy="203.8" r="6.0"/><circle cx="1009.0" cy="222.9" r="6.0"/><circle cx="1009.6" cy="171.8" r="6.0"/><circle cx="1051.6" cy="221.4" r="6.0"/><circle cx="1000.1" cy="205.6" r="6.0"/><circle cx="1035.3" cy="249.7" r="6.0"/><circle cx="989.1" cy="166.5" r="6.0"/><circle cx="1084.2" cy="193.2" r="6.0"/><circle cx="995.0" cy="236.9" r="6.0"/><circle cx="1090.5" cy="176.4" r="6.0"/><circle cx="1000.5" cy="260.9" r="6.0"/><circle cx="1083.0" cy="230.5" r="6.0"/><circle cx="954.9" cy="251.3" r="6.0"/><circle cx="1108.5" cy="249.5" r="6.0"/><circle cx="1074.0" cy="192.0" r="6.0"/><circle cx="1081.7" cy="195.8" r="6.0"/><circle cx="1076.5" cy="185.0" r="6.0"/><circle cx="1023.3" cy="195.1" r="6.0"/><circle cx="1061.6" cy="214.3" r="6.0"/><circle cx="982.0" cy="191.3" r="6.0"/><circle cx="1038.9" cy="264.4" r="6.0"/><circle cx="1020.6" cy="184.9" r="6.0"/><circle cx="1063.0" cy="279.6" r="6.0"/><circle cx="1031.4" cy="238.6" r="6.0"/><circle cx="1012.9" cy="253.9" r="6.0"/><circle cx="963.4" cy="247.7" r="6.0"/><circle cx="974.1" cy="220.8" r="6.0"/><circle cx="980.4" cy="179.6" r="6.0"/><circle cx="973.7" cy="180.2" r="6.0"/><circle cx="1048.5" cy="209.4" r="6.0"/><circle cx="1013.0" cy="218.8" r="6.0"/><circle cx="1047.2" cy="202.6" r="6.0"/><circle cx="1067.0" cy="160.2" r="6.0"/><circle cx="990.7" cy="245.6" r="6.0"/><circle cx="1045.6" cy="164.2" r="6.0"/><circle cx="1011.1" cy="243.2" r="6.0"/><circle cx="1020.7" cy="226.2" r="6.0"/><circle cx="1030.2" cy="159.8" r="6.0"/><circle cx="998.6" cy="265.8" r="6.0"/><circle cx="951.1" cy="240.1" r="6.0"/><circle cx="1044.4" cy="214.9" r="6.0"/><circle cx="1003.3" cy="146.1" r="6.0"/><circle cx="1111.4" cy="251.5" r="6.0"/><circle cx="979.9" cy="212.0" r="6.0"/><circle cx="1051.7" cy="140.8" r="6.0"/><circle cx="1078.9" cy="220.2" r="6.0"/><circle cx="1102.4" cy="278.9" r="6.0"/><circle cx="1065.6" cy="182.6" r="6.0"/><circle cx="995.9" cy="267.5" r="6.0"/><circle cx="1072.2" cy="165.5" r="6.0"/><circle cx="1039.0" cy="163.6" r="6.0"/><circle cx="996.3" cy="163.5" r="6.0"/><circle cx="968.0" cy="203.4" r="6.0"/><circle cx="992.7" cy="169.0" r="6.0"/><circle cx="993.6" cy="207.6" r="6.0"/><circle cx="1095.4" cy="267.0" r="6.0"/><circle cx="1051.6" cy="213.5" r="6.0"/><circle cx="1073.4" cy="211.9" r="6.0"/><circle cx="1060.5" cy="278.1" r="6.0"/><circle cx="1080.7" cy="164.7" r="6.0"/><circle cx="1008.5" cy="255.4" r="6.0"/><circle cx="985.8" cy="197.9" r="6.0"/><circle cx="1009.8" cy="245.4" r="6.0"/><circle cx="1044.1" cy="180.0" r="6.0"/><circle cx="1044.0" cy="140.6" r="6.0"/><circle cx="1094.7" cy="255.0" r="6.0"/><circle cx="1036.2" cy="133.3" r="6.0"/><circle cx="1037.2" cy="151.7" r="6.0"/><circle cx="1032.3" cy="154.0" r="6.0"/><circle cx="1068.4" cy="191.8" r="6.0"/><circle cx="1030.0" cy="133.5" r="6.0"/><circle cx="1003.4" cy="231.3" r="6.0"/><circle cx="961.2" cy="203.0" r="6.0"/><circle cx="985.3" cy="247.2" r="6.0"/><circle cx="1057.7" cy="277.4" r="6.0"/><circle cx="1059.0" cy="271.8" r="6.0"/><circle cx="1048.0" cy="272.8" r="6.0"/><circle cx="1015.9" cy="245.4" r="6.0"/><circle cx="1018.5" cy="237.4" r="6.0"/><circle cx="1049.3" cy="275.3" r="6.0"/><circle cx="1044.6" cy="245.7" r="6.0"/><circle cx="1007.4" cy="233.8" r="6.0"/><circle cx="1035.9" cy="258.9" r="6.0"/><circle cx="985.3" cy="208.1" r="6.0"/><circle cx="946.8" cy="254.7" r="6.0"/><circle cx="976.5" cy="234.4" r="6.0"/><circle cx="1008.1" cy="206.9" r="6.0"/><circle cx="1026.0" cy="220.0" r="6.0"/><circle cx="975.4" cy="222.7" r="6.0"/><circle cx="973.6" cy="242.0" r="6.0"/><circle cx="976.2" cy="227.5" r="6.0"/><circle cx="967.1" cy="195.5" r="6.0"/><circle cx="981.2" cy="206.3" r="6.0"/><circle cx="1032.2" cy="244.2" r="6.0"/><circle cx="1039.8" cy="229.4" r="6.0"/><circle cx="954.4" cy="254.0" r="6.0"/><circle cx="974.3" cy="194.0" r="6.0"/><circle cx="989.5" cy="209.2" r="6.0"/><circle cx="991.5" cy="184.9" r="6.0"/><circle cx="1039.8" cy="256.1" r="6.0"/><circle cx="985.6" cy="256.9" r="6.0"/><circle cx="990.5" cy="201.6" r="6.0"/><circle cx="1016.2" cy="251.6" r="6.0"/><circle cx="1002.1" cy="260.0" r="6.0"/><circle cx="990.6" cy="177.2" r="6.0"/><circle cx="1060.3" cy="272.5" r="6.0"/><circle cx="962.0" cy="248.6" r="6.0"/><circle cx="961.3" cy="244.6" r="6.0"/><circle cx="1050.9" cy="249.9" r="6.0"/><circle cx="989.7" cy="183.2" r="6.0"/><circle cx="986.7" cy="175.4" r="6.0"/><circle cx="981.8" cy="190.1" r="6.0"/><circle cx="959.7" cy="228.0" r="6.0"/><circle cx="1009.8" cy="232.4" r="6.0"/><circle cx="1036.5" cy="227.9" r="6.0"/><circle cx="971.8" cy="178.4" r="6.0"/><circle cx="982.1" cy="253.7" r="6.0"/><circle cx="964.2" cy="206.3" r="6.0"/><circle cx="1013.2" cy="202.4" r="6.0"/><circle cx="1000.2" cy="236.3" r="6.0"/><circle cx="965.8" cy="251.0" r="6.0"/><circle cx="971.4" cy="257.9" r="6.0"/><circle cx="1004.9" cy="241.8" r="6.0"/><circle cx="1000.8" cy="190.1" r="6.0"/><circle cx="1019.3" cy="210.6" r="6.0"/><circle cx="1001.8" cy="238.6" r="6.0"/><circle cx="983.1" cy="209.2" r="6.0"/><circle cx="995.0" cy="229.4" r="6.0"/><circle cx="1000.2" cy="206.6" r="6.0"/><circle cx="1057.3" cy="263.8" r="6.0"/><circle cx="979.6" cy="188.8" r="6.0"/><circle cx="956.6" cy="245.6" r="6.0"/><circle cx="986.7" cy="231.5" r="6.0"/><circle cx="1006.7" cy="211.7" r="6.0"/><circle cx="977.3" cy="233.2" r="6.0"/><circle cx="1020.8" cy="220.8" r="6.0"/><circle cx="955.8" cy="224.7" r="6.0"/><circle cx="1002.8" cy="240.5" r="6.0"/><circle cx="998.1" cy="179.3" r="6.0"/><circle cx="1044.5" cy="257.8" r="6.0"/><circle cx="1005.5" cy="216.9" r="6.0"/><circle cx="1003.8" cy="223.0" r="6.0"/><circle cx="979.9" cy="262.5" r="6.0"/><circle cx="1005.4" cy="207.7" r="6.0"/><circle cx="968.6" cy="193.7" r="6.0"/><circle cx="1045.1" cy="258.4" r="6.0"/><circle cx="1027.2" cy="257.7" r="6.0"/><circle cx="1030.4" cy="259.1" r="6.0"/><circle cx="986.2" cy="257.1" r="6.0"/><circle cx="1018.3" cy="270.2" r="6.0"/><circle cx="952.7" cy="243.4" r="6.0"/><circle cx="967.3" cy="246.4" r="6.0"/><circle cx="1049.1" cy="254.6" r="6.0"/><circle cx="1039.2" cy="266.1" r="6.0"/><circle cx="1021.7" cy="224.1" r="6.0"/><circle cx="991.1" cy="208.9" r="6.0"/><circle cx="1023.4" cy="255.3" r="6.0"/><circle cx="1028.3" cy="226.7" r="6.0"/><circle cx="982.9" cy="200.0" r="6.0"/><circle cx="967.5" cy="241.3" r="6.0"/><circle cx="985.0" cy="200.7" r="6.0"/><circle cx="1007.7" cy="223.7" r="6.0"/><circle cx="1009.3" cy="222.0" r="6.0"/><circle cx="968.9" cy="233.9" r="6.0"/><circle cx="974.0" cy="206.0" r="6.0"/><circle cx="987.6" cy="228.0" r="6.0"/><circle cx="994.7" cy="214.7" r="6.0"/><circle cx="973.2" cy="222.1" r="6.0"/><circle cx="997.0" cy="245.4" r="6.0"/><circle cx="1036.5" cy="231.1" r="6.0"/><circle cx="1008.3" cy="190.8" r="6.0"/><circle cx="963.0" cy="230.6" r="6.0"/><circle cx="977.7" cy="249.2" r="6.0"/><circle cx="1037.0" cy="241.2" r="6.0"/><circle cx="1029.7" cy="220.2" r="6.0"/><circle cx="996.9" cy="181.7" r="6.0"/><circle cx="1028.3" cy="218.1" r="6.0"/><circle cx="960.3" cy="216.8" r="6.0"/><circle cx="1013.8" cy="251.9" r="6.0"/><circle cx="993.4" cy="241.5" r="6.0"/><circle cx="1026.8" cy="237.7" r="6.0"/><circle cx="950.6" cy="248.2" r="6.0"/><circle cx="1001.2" cy="181.6" r="6.0"/><circle cx="1003.4" cy="234.7" r="6.0"/><circle cx="1006.1" cy="215.1" r="6.0"/><circle cx="975.9" cy="257.0" r="6.0"/><circle cx="1030.0" cy="219.3" r="6.0"/><circle cx="988.9" cy="218.1" r="6.0"/><circle cx="999.4" cy="204.7" r="6.0"/><circle cx="1019.9" cy="215.2" r="6.0"/><circle cx="981.4" cy="255.0" r="6.0"/><circle cx="999.6" cy="222.1" r="6.0"/><circle cx="993.2" cy="243.8" r="6.0"/><circle cx="1023.7" cy="243.6" r="6.0"/><circle cx="997.2" cy="241.9" r="6.0"/><circle cx="972.1" cy="254.7" r="6.0"/><circle cx="986.0" cy="248.3" r="6.0"/><circle cx="1018.6" cy="194.3" r="6.0"/><circle cx="952.2" cy="234.1" r="6.0"/><circle cx="1043.6" cy="262.1" r="6.0"/><circle cx="992.0" cy="234.9" r="6.0"/><circle cx="1030.5" cy="253.8" r="6.0"/><circle cx="1034.6" cy="233.7" r="6.0"/><circle cx="975.2" cy="247.6" r="6.0"/><circle cx="1012.4" cy="229.9" r="6.0"/><circle cx="977.9" cy="232.4" r="6.0"/><circle cx="1008.4" cy="224.5" r="6.0"/><circle cx="965.0" cy="238.8" r="6.0"/><circle cx="979.7" cy="258.7" r="6.0"/><circle cx="995.4" cy="186.0" r="6.0"/><circle cx="1017.7" cy="220.6" r="6.0"/><circle cx="987.3" cy="253.5" r="6.0"/><circle cx="1028.0" cy="245.9" r="6.0"/><circle cx="977.8" cy="209.4" r="6.0"/><circle cx="989.9" cy="242.3" r="6.0"/><circle cx="962.8" cy="204.2" r="6.0"/><circle cx="1049.7" cy="272.7" r="6.0"/><circle cx="975.0" cy="189.6" r="6.0"/><circle cx="1040.3" cy="251.3" r="6.0"/><circle cx="976.7" cy="223.8" r="6.0"/><circle cx="1043.3" cy="264.5" r="6.0"/><circle cx="970.4" cy="247.4" r="6.0"/><circle cx="1028.9" cy="207.1" r="6.0"/><circle cx="1001.9" cy="204.5" r="6.0"/><circle cx="998.0" cy="259.4" r="6.0"/><circle cx="1013.4" cy="237.0" r="6.0"/><circle cx="971.7" cy="238.2" r="6.0"/><circle cx="985.9" cy="218.4" r="6.0"/><circle cx="996.7" cy="261.0" r="6.0"/><circle cx="965.6" cy="209.1" r="6.0"/><circle cx="1050.9" cy="266.0" r="6.0"/><circle cx="972.2" cy="210.1" r="6.0"/><circle cx="972.5" cy="249.0" r="6.0"/><circle cx="950.7" cy="246.5" r="6.0"/><circle cx="1010.2" cy="234.1" r="6.0"/><circle cx="1017.0" cy="264.9" r="6.0"/><circle cx="947.5" cy="246.7" r="6.0"/><circle cx="966.2" cy="200.0" r="6.0"/><circle cx="1025.0" cy="246.5" r="6.0"/><circle cx="983.7" cy="221.4" r="6.0"/><circle cx="979.7" cy="231.7" r="6.0"/><circle cx="1065.2" cy="249.1" r="6.0"/><circle cx="1056.2" cy="244.6" r="6.0"/><circle cx="1057.2" cy="226.1" r="6.0"/><circle cx="1061.4" cy="264.7" r="6.0"/><circle cx="1057.8" cy="232.6" r="6.0"/><circle cx="1106.9" cy="256.4" r="6.0"/><circle cx="1078.5" cy="245.9" r="6.0"/><circle cx="1110.4" cy="275.5" r="6.0"/><circle cx="1087.9" cy="269.2" r="6.0"/><circle cx="1093.9" cy="258.5" r="6.0"/><circle cx="1070.1" cy="251.1" r="6.0"/><circle cx="1077.9" cy="256.4" r="6.0"/><circle cx="1080.0" cy="260.7" r="6.0"/><circle cx="1102.0" cy="284.8" r="6.0"/><circle cx="1054.0" cy="226.5" r="6.0"/><circle cx="1060.6" cy="227.1" r="6.0"/><circle cx="1102.7" cy="266.6" r="6.0"/><circle cx="1059.3" cy="237.8" r="6.0"/><circle cx="1108.8" cy="281.0" r="6.0"/><circle cx="1093.1" cy="271.3" r="6.0"/><circle cx="1098.3" cy="255.5" r="6.0"/><circle cx="1068.8" cy="262.0" r="6.0"/><circle cx="1112.9" cy="281.0" r="6.0"/><circle cx="1041.3" cy="241.5" r="6.0"/><circle cx="1078.8" cy="245.8" r="6.0"/><circle cx="1108.3" cy="259.6" r="6.0"/><circle cx="1047.6" cy="251.1" r="6.0"/><circle cx="1089.4" cy="232.4" r="6.0"/><circle cx="1072.0" cy="276.1" r="6.0"/><circle cx="1085.3" cy="264.0" r="6.0"/><circle cx="1049.7" cy="256.1" r="6.0"/><circle cx="1111.5" cy="270.2" r="6.0"/><circle cx="1053.4" cy="254.9" r="6.0"/><circle cx="1081.2" cy="247.6" r="6.0"/><circle cx="1084.1" cy="267.3" r="6.0"/><circle cx="1036.5" cy="239.7" r="6.0"/><circle cx="1090.8" cy="239.4" r="6.0"/><circle cx="1041.2" cy="276.0" r="6.0"/><circle cx="1082.5" cy="231.8" r="6.0"/><circle cx="1089.1" cy="242.6" r="6.0"/><circle cx="1104.2" cy="273.5" r="6.0"/><circle cx="1046.9" cy="238.5" r="6.0"/><circle cx="1037.5" cy="236.0" r="6.0"/><circle cx="1062.3" cy="242.4" r="6.0"/><circle cx="1089.0" cy="266.2" r="6.0"/><circle cx="1082.9" cy="250.7" r="6.0"/><circle cx="1095.8" cy="237.4" r="6.0"/><circle cx="1055.4" cy="243.7" r="6.0"/><circle cx="1113.0" cy="270.2" r="6.0"/><circle cx="1040.6" cy="237.5" r="6.0"/><circle cx="1055.2" cy="244.4" r="6.0"/><circle cx="1106.8" cy="271.9" r="6.0"/><circle cx="1118.3" cy="269.9" r="6.0"/><circle cx="1088.4" cy="250.7" r="6.0"/><circle cx="1096.0" cy="258.1" r="6.0"/><circle cx="958.6" cy="219.3" r="6.0"/><circle cx="965.5" cy="193.3" r="6.0"/><circle cx="951.2" cy="236.5" r="6.0"/><circle cx="947.0" cy="249.0" r="6.0"/><circle cx="946.0" cy="245.4" r="6.0"/><circle cx="978.8" cy="175.3" r="6.0"/><circle cx="951.6" cy="229.0" r="6.0"/><circle cx="964.4" cy="205.4" r="6.0"/><circle cx="963.3" cy="206.5" r="6.0"/><circle cx="967.4" cy="189.2" r="6.0"/><circle cx="958.9" cy="220.2" r="6.0"/><circle cx="958.6" cy="235.0" r="6.0"/><circle cx="958.1" cy="234.9" r="6.0"/><circle cx="978.5" cy="175.6" r="6.0"/><circle cx="948.3" cy="259.2" r="6.0"/><circle cx="957.8" cy="225.9" r="6.0"/><circle cx="973.7" cy="177.5" r="6.0"/><circle cx="967.9" cy="196.9" r="6.0"/><circle cx="956.3" cy="226.0" r="6.0"/><circle cx="970.4" cy="188.9" r="6.0"/><circle cx="965.2" cy="202.2" r="6.0"/><circle cx="954.5" cy="260.2" r="6.0"/><circle cx="971.2" cy="192.7" r="6.0"/><circle cx="970.0" cy="185.5" r="6.0"/><circle cx="951.7" cy="226.9" r="6.0"/><circle cx="953.8" cy="257.8" r="6.0"/><circle cx="1083.3" cy="280.7" r="6.0"/><circle cx="1030.1" cy="273.9" r="6.0"/><circle cx="953.9" cy="259.1" r="6.0"/><circle cx="1025.8" cy="269.5" r="6.0"/><circle cx="966.4" cy="259.3" r="6.0"/><circle cx="1094.5" cy="283.2" r="6.0"/><circle cx="1096.2" cy="284.8" r="6.0"/><circle cx="1046.0" cy="272.3" r="6.0"/><circle cx="1096.7" cy="285.0" r="6.0"/><circle cx="1104.6" cy="287.7" r="6.0"/><circle cx="1069.7" cy="283.6" r="6.0"/><circle cx="1061.7" cy="282.4" r="6.0"/><circle cx="960.2" cy="260.6" r="6.0"/><circle cx="1045.0" cy="277.9" r="6.0"/><circle cx="1007.3" cy="270.0" r="6.0"/><circle cx="1003.6" cy="267.7" r="6.0"/><circle cx="1087.1" cy="285.2" r="6.0"/><circle cx="986.5" cy="266.3" r="6.0"/><circle cx="978.1" cy="265.3" r="6.0"/><circle cx="960.4" cy="257.6" r="6.0"/><circle cx="1072.1" cy="279.2" r="6.0"/><circle cx="1033.6" cy="270.1" r="6.0"/><circle cx="1060.4" cy="276.2" r="6.0"/><circle cx="959.6" cy="259.7" r="6.0"/><circle cx="952.0" cy="260.3" r="6.0"/><circle cx="1018.2" cy="272.1" r="6.0"/><circle cx="1086.9" cy="285.3" r="6.0"/><circle cx="967.2" cy="261.7" r="6.0"/><circle cx="1034.1" cy="276.7" r="6.0"/><circle cx="964.4" cy="260.4" r="6.0"/><circle cx="1017.9" cy="271.8" r="6.0"/><circle cx="1023.1" cy="268.4" r="6.0"/><circle cx="1103.2" cy="286.7" r="6.0"/><circle cx="1006.3" cy="266.1" r="6.0"/><circle cx="1012.8" cy="72.6" r="6.0"/><circle cx="1021.5" cy="79.3" r="6.0"/><circle cx="1020.3" cy="86.2" r="6.0"/><circle cx="1024.0" cy="96.6" r="6.0"/><circle cx="996.8" cy="113.2" r="6.0"/><circle cx="1009.1" cy="115.1" r="6.0"/><circle cx="1011.6" cy="120.1" r="6.0"/><circle cx="1017.8" cy="122.6" r="6.0"/><circle cx="1049.4" cy="118.8" r="6.0"/><circle cx="1065.2" cy="119.3" r="6.0"/><circle cx="1072.2" cy="128.7" r="6.0"/><circle cx="1096.9" cy="118.1" r="6.0"/><circle cx="1104.3" cy="117.1" r="6.0"/><circle cx="1117.1" cy="126.8" r="6.0"/><circle cx="1139.6" cy="141.6" r="6.0"/><circle cx="988.9" cy="129.5" r="6.0"/><circle cx="1001.0" cy="128.7" r="6.0"/><circle cx="1030.6" cy="128.2" r="6.0"/><circle cx="1028.9" cy="138.6" r="6.0"/><circle cx="1037.6" cy="139.9" r="6.0"/><circle cx="1009.1" cy="141.1" r="6.0"/><circle cx="1016.6" cy="141.1" r="6.0"/><circle cx="1085.7" cy="149.7" r="6.0"/><circle cx="1059.8" cy="148.5" r="6.0"/><circle cx="1051.1" cy="152.2" r="6.0"/><circle cx="1068.4" cy="154.7" r="6.0"/><circle cx="1075.9" cy="162.1" r="6.0"/><circle cx="1087.0" cy="162.1" r="6.0"/><circle cx="1103.8" cy="163.8" r="6.0"/><circle cx="1120.3" cy="164.6" r="6.0"/><circle cx="985.7" cy="149.7" r="6.0"/><circle cx="996.8" cy="149.7" r="6.0"/><circle cx="982.0" cy="158.4" r="6.0"/><circle cx="1004.2" cy="157.1" r="6.0"/><circle cx="1011.6" cy="163.3" r="6.0"/><circle cx="1022.7" cy="160.9" r="6.0"/><circle cx="1030.1" cy="153.4" r="6.0"/><circle cx="1040.0" cy="154.7" r="6.0"/><circle cx="1042.5" cy="163.3" r="6.0"/><circle cx="1032.6" cy="167.0" r="6.0"/><circle cx="1057.3" cy="164.6" r="6.0"/><circle cx="974.5" cy="165.8" r="6.0"/><circle cx="988.1" cy="165.8" r="6.0"/><circle cx="995.5" cy="143.6" r="6.0"/><circle cx="990.6" cy="141.1" r="6.0"/><circle cx="1143.3" cy="184.0" r="6.0"/><circle cx="1137.1" cy="192.9" r="6.0"/><circle cx="1183.9" cy="181.0" r="6.0"/><circle cx="1106.8" cy="205.2" r="6.0"/><circle cx="1124.8" cy="205.2" r="6.0"/><circle cx="1185.1" cy="212.4" r="6.0"/><circle cx="1134.7" cy="213.9" r="6.0"/><circle cx="1146.3" cy="218.1" r="6.0"/><circle cx="1152.5" cy="215.6" r="6.0"/><circle cx="1156.2" cy="221.8" r="6.0"/><circle cx="1130.2" cy="224.7" r="6.0"/><circle cx="1133.9" cy="231.7" r="6.0"/><circle cx="1105.5" cy="222.5" r="6.0"/><circle cx="1159.4" cy="233.6" r="6.0"/><circle cx="1196.9" cy="237.8" r="6.0"/><circle cx="1193.2" cy="241.5" r="6.0"/><circle cx="1119.1" cy="250.9" r="6.0"/><circle cx="1135.7" cy="248.5" r="6.0"/><circle cx="1203.1" cy="257.1" r="6.0"/><circle cx="1195.7" cy="262.6" r="6.0"/><circle cx="1138.9" cy="260.1" r="6.0"/><circle cx="1132.7" cy="265.0" r="6.0"/><circle cx="1154.4" cy="270.7" r="6.0"/><circle cx="1143.8" cy="276.1" r="6.0"/><circle cx="1121.6" cy="276.1" r="6.0"/><circle cx="1135.2" cy="297.1" r="6.0"/><circle cx="1150.5" cy="295.9" r="6.0"/><circle cx="1110.5" cy="241.5" r="6.0"/><circle cx="1105.5" cy="234.1" r="6.0"/><circle cx="1096.9" cy="232.9" r="6.0"/><circle cx="1091.9" cy="231.7" r="6.0"/>
</g></g>
<g class="tk"><rect x="47.20" y="1.50" width="528.60" height="515.20" fill="none" stroke="#000" stroke-width="1.7"/>
<line x1="47.20" y1="516.70" x2="47.20" y2="523.90" stroke="#000" stroke-width="1.7"/>
<text x="47.60" y="553.5" text-anchor="middle">−3</text>
<line x1="40.00" y1="479.90" x2="47.20" y2="479.90" stroke="#000" stroke-width="1.7"/>
<text x="30.40" y="487.80" text-anchor="end">−3</text>
<line x1="135.30" y1="516.70" x2="135.30" y2="523.90" stroke="#000" stroke-width="1.7"/>
<text x="135.70" y="553.5" text-anchor="middle">−2</text>
<line x1="40.00" y1="406.30" x2="47.20" y2="406.30" stroke="#000" stroke-width="1.7"/>
<text x="30.40" y="414.20" text-anchor="end">−2</text>
<line x1="223.40" y1="516.70" x2="223.40" y2="523.90" stroke="#000" stroke-width="1.7"/>
<text x="223.80" y="553.5" text-anchor="middle">−1</text>
<line x1="40.00" y1="332.70" x2="47.20" y2="332.70" stroke="#000" stroke-width="1.7"/>
<text x="30.40" y="340.60" text-anchor="end">−1</text>
<line x1="311.50" y1="516.70" x2="311.50" y2="523.90" stroke="#000" stroke-width="1.7"/>
<text x="311.90" y="553.5" text-anchor="middle">0</text>
<line x1="40.00" y1="259.10" x2="47.20" y2="259.10" stroke="#000" stroke-width="1.7"/>
<text x="30.40" y="267.00" text-anchor="end">0</text>
<line x1="399.60" y1="516.70" x2="399.60" y2="523.90" stroke="#000" stroke-width="1.7"/>
<text x="400.00" y="553.5" text-anchor="middle">1</text>
<line x1="40.00" y1="185.50" x2="47.20" y2="185.50" stroke="#000" stroke-width="1.7"/>
<text x="30.40" y="193.40" text-anchor="end">1</text>
<line x1="487.70" y1="516.70" x2="487.70" y2="523.90" stroke="#000" stroke-width="1.7"/>
<text x="488.10" y="553.5" text-anchor="middle">2</text>
<line x1="40.00" y1="111.90" x2="47.20" y2="111.90" stroke="#000" stroke-width="1.7"/>
<text x="30.40" y="119.80" text-anchor="end">2</text>
<line x1="575.80" y1="516.70" x2="575.80" y2="523.90" stroke="#000" stroke-width="1.7"/>
<text x="576.20" y="553.5" text-anchor="middle">3</text>
<line x1="40.00" y1="38.30" x2="47.20" y2="38.30" stroke="#000" stroke-width="1.7"/>
<text x="30.40" y="46.20" text-anchor="end">3</text><rect x="676.00" y="1.50" width="529.00" height="515.20" fill="none" stroke="#000" stroke-width="1.7"/>
<line x1="676.00" y1="516.70" x2="676.00" y2="523.90" stroke="#000" stroke-width="1.7"/>
<text x="676.40" y="553.5" text-anchor="middle">−3</text>
<line x1="668.80" y1="479.90" x2="676.00" y2="479.90" stroke="#000" stroke-width="1.7"/>
<text x="659.20" y="487.80" text-anchor="end">−3</text>
<line x1="764.17" y1="516.70" x2="764.17" y2="523.90" stroke="#000" stroke-width="1.7"/>
<text x="764.57" y="553.5" text-anchor="middle">−2</text>
<line x1="668.80" y1="406.30" x2="676.00" y2="406.30" stroke="#000" stroke-width="1.7"/>
<text x="659.20" y="414.20" text-anchor="end">−2</text>
<line x1="852.33" y1="516.70" x2="852.33" y2="523.90" stroke="#000" stroke-width="1.7"/>
<text x="852.73" y="553.5" text-anchor="middle">−1</text>
<line x1="668.80" y1="332.70" x2="676.00" y2="332.70" stroke="#000" stroke-width="1.7"/>
<text x="659.20" y="340.60" text-anchor="end">−1</text>
<line x1="940.50" y1="516.70" x2="940.50" y2="523.90" stroke="#000" stroke-width="1.7"/>
<text x="940.90" y="553.5" text-anchor="middle">0</text>
<line x1="668.80" y1="259.10" x2="676.00" y2="259.10" stroke="#000" stroke-width="1.7"/>
<text x="659.20" y="267.00" text-anchor="end">0</text>
<line x1="1028.67" y1="516.70" x2="1028.67" y2="523.90" stroke="#000" stroke-width="1.7"/>
<text x="1029.07" y="553.5" text-anchor="middle">1</text>
<line x1="668.80" y1="185.50" x2="676.00" y2="185.50" stroke="#000" stroke-width="1.7"/>
<text x="659.20" y="193.40" text-anchor="end">1</text>
<line x1="1116.83" y1="516.70" x2="1116.83" y2="523.90" stroke="#000" stroke-width="1.7"/>
<text x="1117.23" y="553.5" text-anchor="middle">2</text>
<line x1="668.80" y1="111.90" x2="676.00" y2="111.90" stroke="#000" stroke-width="1.7"/>
<text x="659.20" y="119.80" text-anchor="end">2</text>
<line x1="1205.00" y1="516.70" x2="1205.00" y2="523.90" stroke="#000" stroke-width="1.7"/>
<text x="1205.40" y="553.5" text-anchor="middle">3</text>
<line x1="668.80" y1="38.30" x2="676.00" y2="38.30" stroke="#000" stroke-width="1.7"/>
<text x="659.20" y="46.20" text-anchor="end">3</text></g>
<text class="cap" x="238" y="608.6" letter-spacing="1">(a)</text>
<text class="cap" x="295.5" y="608.6">VAE</text>
<text class="cap" x="865.5" y="608.6" letter-spacing="0.5">(b)</text>
<text class="cap" x="925.3" y="608.6" letter-spacing="-0.6">AVB</text>
</svg></body></html>
